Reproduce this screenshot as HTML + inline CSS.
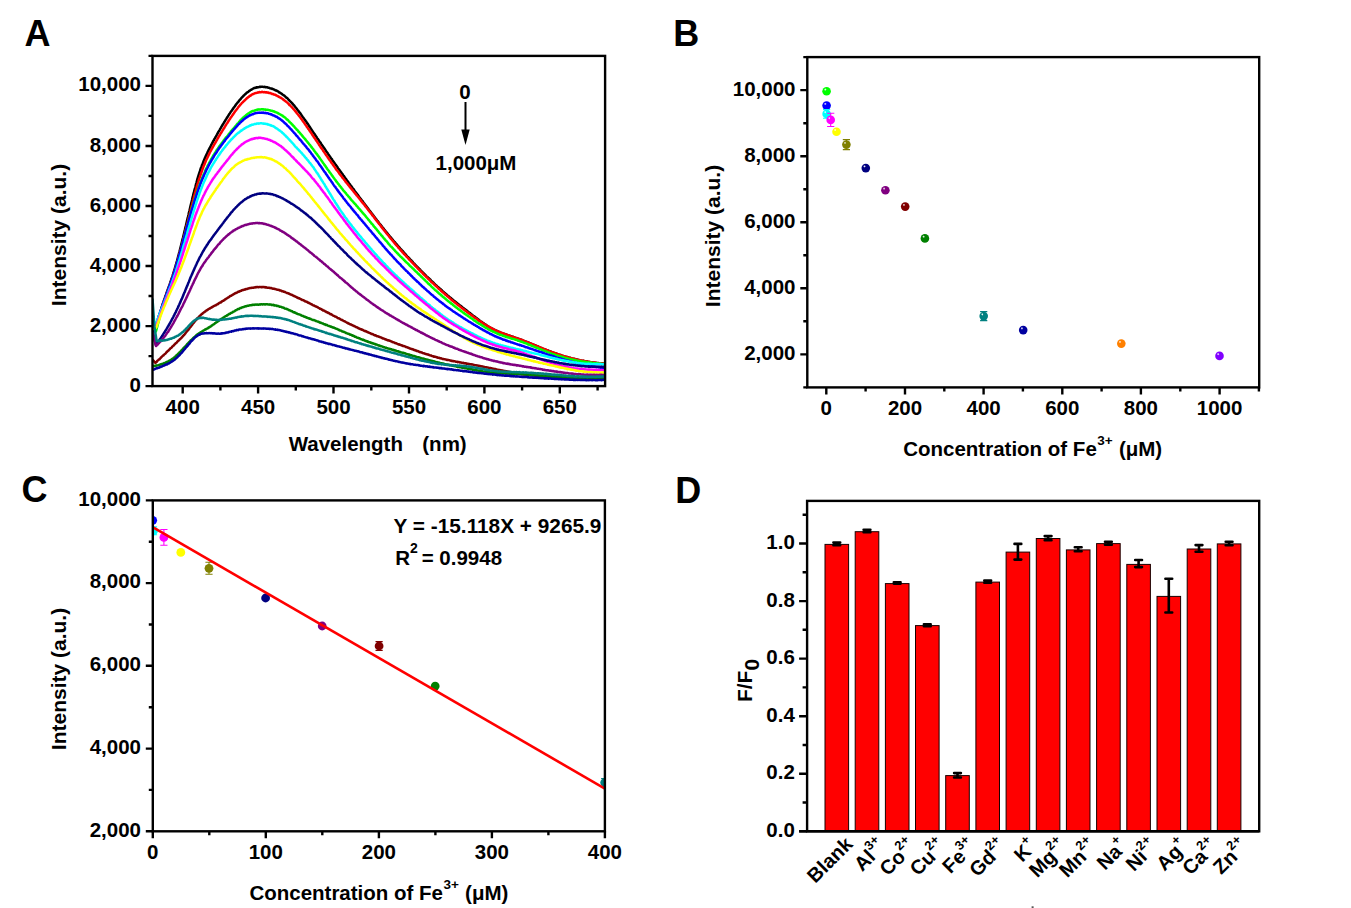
<!DOCTYPE html><html><head><meta charset="utf-8"><title>Figure</title><style>html,body{margin:0;padding:0;background:#fff;overflow:hidden}svg{display:block}text{font-family:"Liberation Sans",sans-serif;font-weight:bold;fill:#000}</style></head><body>
<svg width="1351" height="908" viewBox="0 0 1351 908">
<rect x="0" y="0" width="1351" height="908" fill="#fff"/>
<defs><clipPath id="clipA"><rect x="152.5" y="55.9" width="452.6" height="330.20000000000005"/></clipPath></defs>
<g clip-path="url(#clipA)" fill="none" stroke-width="2.5" stroke-linejoin="round">
<path d="M152.5,329.90 L155.5,328.34 L156.0,326.49 L156.5,324.82 L157.0,323.06 L157.5,321.08 L158.0,319.31 L158.5,317.91 L159.0,315.96 L159.5,314.26 L160.0,312.89 L160.5,311.04 L161.0,309.56 L161.5,307.83 L162.0,306.34 L162.5,304.61 L163.0,303.30 L163.5,301.90 L164.0,300.30 L164.5,298.93 L165.0,297.47 L165.5,295.80 L166.0,294.67 L166.5,293.19 L167.0,291.68 L167.5,290.17 L168.0,289.11 L168.5,287.55 L169.0,286.24 L169.5,284.88 L170.0,283.39 L170.5,282.03 L171.0,280.36 L171.5,279.04 L172.0,277.40 L172.5,276.07 L173.0,274.49 L173.5,272.60 L174.0,271.00 L174.5,269.40 L175.0,268.03 L175.5,266.12 L176.0,264.47 L176.5,262.57 L177.0,260.86 L177.5,258.98 L178.0,257.10 L178.5,255.29 L179.0,253.37 L179.5,251.55 L180.0,249.49 L180.5,247.60 L181.0,245.57 L181.5,243.61 L182.0,241.46 L182.5,239.24 L183.0,237.49 L183.5,235.50 L184.0,233.44 L184.5,231.27 L185.0,229.28 L185.5,227.02 L186.0,225.21 L186.5,223.03 L187.0,220.84 L187.5,218.67 L188.0,216.89 L188.5,214.84 L189.0,212.37 L189.5,210.55 L190.0,208.28 L190.5,206.07 L191.0,204.02 L191.5,202.12 L192.0,200.08 L192.5,197.69 L193.0,195.88 L193.5,193.63 L194.0,191.91 L194.5,189.79 L195.0,188.09 L195.5,186.23 L196.0,184.19 L196.5,182.57 L197.0,180.52 L197.5,178.70 L198.0,177.22 L198.5,175.35 L199.0,173.81 L199.5,172.33 L200.0,170.89 L200.5,169.23 L201.0,167.75 L201.5,166.69 L202.0,165.11 L202.5,164.06 L203.0,162.76 L203.5,161.31 L204.0,160.13 L204.5,158.98 L205.0,157.88 L205.5,156.73 L206.0,155.61 L206.5,154.55 L207.0,153.61 L207.5,152.39 L208.0,151.33 L208.5,150.44 L209.0,149.24 L209.5,148.28 L210.0,147.58 L210.5,146.44 L211.0,145.49 L211.5,144.33 L212.0,143.56 L212.5,142.69 L213.0,141.54 L213.5,140.86 L214.0,139.95 L214.5,138.82 L215.0,138.14 L215.5,137.17 L216.0,136.37 L216.5,135.35 L217.0,134.60 L217.5,133.74 L218.0,132.57 L218.5,131.72 L219.0,131.10 L219.5,130.35 L220.0,129.21 L220.5,128.43 L221.0,127.64 L221.5,126.68 L222.0,125.85 L222.5,125.00 L223.0,124.18 L223.5,123.45 L224.0,122.50 L224.5,121.72 L225.0,121.06 L225.5,119.95 L226.0,119.37 L226.5,118.64 L227.0,117.68 L227.5,116.86 L228.0,116.31 L228.5,115.31 L229.0,114.52 L229.5,113.86 L230.0,113.22 L230.5,112.23 L231.0,111.58 L231.5,110.85 L232.0,110.33 L232.5,109.45 L233.0,108.91 L233.5,107.93 L234.0,107.30 L234.5,106.74 L235.0,106.16 L235.5,105.31 L236.0,104.56 L236.5,103.87 L237.0,103.39 L237.5,102.62 L238.0,102.24 L238.5,101.63 L239.0,100.76 L239.5,100.20 L240.0,99.82 L240.5,99.18 L241.0,98.68 L241.5,97.93 L242.0,97.30 L242.5,96.83 L243.0,96.50 L243.5,95.78 L244.0,95.31 L244.5,94.84 L245.0,94.37 L245.5,93.90 L246.0,93.65 L246.5,92.91 L247.0,92.42 L247.5,92.39 L248.0,91.97 L248.5,91.63 L249.0,91.04 L249.5,90.89 L250.0,90.55 L250.5,89.94 L251.0,89.85 L251.5,89.60 L252.0,89.26 L252.5,88.94 L253.0,88.61 L253.5,88.41 L254.0,88.15 L254.5,87.89 L255.0,87.92 L255.5,87.63 L256.0,87.69 L256.5,87.25 L257.0,87.47 L257.5,87.27 L258.0,87.26 L258.5,87.17 L259.0,87.10 L259.5,86.91 L260.0,86.64 L260.5,86.89 L261.0,86.64 L261.5,86.68 L262.0,86.82 L262.5,86.78 L263.0,86.75 L263.5,87.00 L264.0,86.91 L264.5,86.85 L265.0,86.88 L265.5,87.19 L266.0,87.12 L266.5,87.33 L267.0,87.26 L267.5,87.31 L268.0,87.56 L268.5,87.80 L269.0,87.68 L269.5,88.07 L270.0,88.27 L270.5,88.39 L271.0,88.56 L271.5,88.41 L272.0,88.84 L272.5,89.12 L273.0,89.00 L273.5,89.29 L274.0,89.50 L274.5,89.82 L275.0,90.01 L275.5,90.26 L276.0,90.62 L276.5,90.56 L277.0,90.84 L277.5,91.14 L278.0,91.41 L278.5,91.67 L279.0,92.32 L279.5,92.58 L280.0,92.58 L280.5,93.06 L281.0,93.32 L281.5,93.65 L282.0,94.02 L282.5,94.49 L283.0,94.83 L283.5,95.12 L284.0,95.44 L284.5,95.89 L285.0,96.22 L285.5,96.81 L286.0,97.31 L286.5,97.61 L287.0,97.94 L287.5,98.44 L288.0,98.99 L288.5,99.56 L289.0,100.12 L289.5,100.46 L290.0,101.14 L290.5,101.59 L291.0,102.04 L291.5,102.55 L292.0,103.14 L292.5,103.78 L293.0,104.23 L293.5,104.92 L294.0,105.40 L294.5,105.91 L295.0,106.62 L295.5,107.30 L296.0,107.66 L296.5,108.43 L297.0,109.06 L297.5,109.88 L298.0,110.55 L298.5,110.98 L299.0,111.85 L299.5,112.47 L300.0,112.93 L300.5,113.69 L301.0,114.24 L301.5,115.21 L302.0,115.84 L302.5,116.63 L303.0,117.30 L303.5,117.96 L304.0,118.70 L304.5,119.34 L305.0,119.88 L305.5,120.80 L306.0,121.29 L306.5,122.07 L307.0,123.06 L307.5,123.50 L308.0,124.25 L308.5,124.99 L309.0,126.05 L309.5,126.50 L310.0,127.18 L310.5,128.25 L311.0,128.70 L311.5,129.74 L312.0,130.41 L312.5,131.22 L313.0,132.00 L313.5,132.59 L314.0,133.42 L314.5,133.86 L315.0,134.89 L315.5,135.52 L316.0,136.34 L316.5,136.84 L317.0,137.83 L317.5,138.64 L318.0,139.03 L318.5,139.87 L319.0,140.70 L319.5,141.54 L320.0,142.03 L320.5,142.74 L321.0,143.50 L321.5,144.38 L322.0,145.16 L322.5,145.75 L323.0,146.47 L323.5,147.21 L324.0,147.92 L324.5,148.67 L325.0,149.26 L325.5,150.15 L326.0,151.07 L326.5,151.57 L327.0,152.42 L327.5,152.91 L328.0,153.84 L328.5,154.59 L329.0,155.27 L329.5,155.93 L330.0,156.63 L330.5,157.41 L331.0,158.23 L331.5,158.65 L332.0,159.34 L332.5,160.31 L333.0,161.09 L333.5,161.64 L334.0,162.32 L334.5,163.14 L335.0,163.63 L335.5,164.37 L336.0,165.05 L336.5,165.91 L337.0,166.50 L337.5,167.17 L338.0,168.06 L338.5,168.86 L339.0,169.30 L339.5,170.16 L340.0,170.74 L340.5,171.61 L341.0,172.19 L341.5,172.76 L342.0,173.43 L342.5,174.05 L343.0,174.92 L343.5,175.57 L344.0,176.17 L344.5,176.94 L345.0,177.61 L345.5,178.47 L346.0,178.90 L346.5,179.93 L347.0,180.40 L347.5,181.13 L348.0,181.76 L348.5,182.59 L349.0,183.26 L349.5,183.84 L350.0,184.48 L350.5,185.26 L351.0,185.99 L351.5,186.48 L352.0,187.29 L352.5,188.05 L353.0,188.53 L353.5,189.11 L354.0,189.78 L354.5,190.65 L355.0,191.30 L355.5,192.09 L356.0,192.71 L356.5,193.14 L357.0,193.79 L357.5,194.48 L358.0,195.12 L358.5,196.00 L359.0,196.73 L359.5,197.41 L360.0,197.82 L360.5,198.73 L361.0,199.17 L361.5,199.88 L362.0,200.67 L362.5,201.08 L363.0,201.74 L363.5,202.70 L364.0,203.15 L364.5,203.84 L365.0,204.59 L365.5,205.29 L366.0,205.69 L366.5,206.48 L367.0,207.18 L367.5,207.86 L368.0,208.41 L368.5,209.22 L369.0,210.03 L369.5,210.46 L370.0,211.18 L370.5,211.67 L371.0,212.39 L371.5,213.20 L372.0,213.64 L372.5,214.60 L373.0,215.26 L373.5,215.59 L374.0,216.58 L374.5,217.00 L375.0,217.81 L375.5,218.46 L376.0,218.92 L376.5,219.72 L377.0,220.35 L377.5,221.06 L378.0,221.49 L378.5,222.32 L379.0,223.05 L379.5,223.57 L380.0,224.16 L380.5,224.62 L381.0,225.41 L381.5,225.99 L382.0,226.77 L382.5,227.38 L383.0,227.97 L383.5,228.44 L384.0,229.25 L384.5,229.87 L385.0,230.31 L385.5,231.22 L386.0,231.74 L386.5,232.15 L387.0,233.09 L387.5,233.38 L388.0,234.07 L388.5,234.84 L389.0,235.40 L389.5,235.99 L390.0,236.63 L390.5,237.15 L391.0,237.69 L391.5,238.24 L392.0,238.79 L392.5,239.64 L393.0,240.25 L393.5,240.76 L394.0,241.42 L394.5,241.86 L395.0,242.40 L395.5,243.03 L396.0,243.81 L396.5,244.05 L397.0,244.82 L397.5,245.29 L398.0,246.07 L398.5,246.48 L399.0,247.04 L399.5,247.63 L400.0,248.25 L400.5,248.91 L401.0,249.30 L401.5,250.06 L402.0,250.33 L402.5,250.95 L403.0,251.44 L403.5,251.99 L404.0,252.81 L404.5,253.34 L405.0,253.68 L405.5,254.23 L406.0,254.86 L406.5,255.54 L407.0,256.11 L407.5,256.62 L408.0,257.10 L408.5,257.46 L409.0,258.10 L409.5,258.55 L410.0,259.22 L410.5,259.77 L411.0,260.16 L411.5,260.71 L412.0,261.45 L412.5,261.67 L413.0,262.51 L413.5,263.07 L414.0,263.62 L414.5,263.91 L415.0,264.50 L415.5,265.03 L416.0,265.57 L416.5,266.22 L417.0,266.62 L417.5,266.98 L418.0,267.72 L418.5,268.08 L419.0,268.64 L419.5,269.20 L420.0,269.42 L420.5,270.24 L421.0,270.70 L421.5,271.13 L422.0,271.65 L422.5,272.13 L423.0,272.52 L423.5,273.15 L424.0,273.46 L424.5,274.14 L425.0,274.69 L425.5,275.10 L426.0,275.64 L426.5,276.29 L427.0,276.76 L427.5,276.94 L428.0,277.69 L428.5,278.11 L429.0,278.36 L429.5,278.97 L430.0,279.40 L430.5,279.82 L431.0,280.48 L431.5,281.11 L432.0,281.34 L432.5,282.04 L433.0,282.44 L433.5,282.68 L434.0,283.44 L434.5,283.81 L435.0,284.40 L435.5,284.78 L436.0,285.26 L436.5,285.56 L437.0,286.20 L437.5,286.71 L438.0,287.14 L438.5,287.42 L439.0,288.00 L439.5,288.35 L440.0,288.65 L440.5,289.07 L441.0,289.53 L441.5,290.02 L442.0,290.45 L442.5,291.02 L443.0,291.54 L443.5,291.92 L444.0,292.31 L444.5,292.83 L445.0,293.13 L445.5,293.62 L446.0,294.17 L446.5,294.45 L447.0,294.79 L447.5,295.50 L448.0,295.86 L448.5,296.14 L449.0,296.56 L449.5,297.04 L450.0,297.49 L450.5,297.75 L451.0,298.08 L451.5,298.57 L452.0,299.22 L452.5,299.37 L453.0,299.91 L453.5,300.21 L454.0,300.62 L454.5,301.01 L455.0,301.51 L455.5,301.82 L456.0,302.16 L456.5,302.59 L457.0,303.02 L457.5,303.54 L458.0,303.77 L458.5,304.15 L459.0,304.71 L459.5,305.09 L460.0,305.60 L460.5,305.73 L461.0,306.26 L461.5,306.65 L462.0,306.89 L462.5,307.65 L463.0,307.73 L463.5,308.07 L464.0,308.61 L464.5,308.86 L465.0,309.43 L465.5,309.70 L466.0,309.99 L466.5,310.34 L467.0,310.99 L467.5,311.19 L468.0,311.77 L468.5,312.01 L469.0,312.58 L469.5,312.70 L470.0,313.05 L470.5,313.45 L471.0,314.07 L471.5,314.39 L472.0,314.67 L472.5,314.96 L473.0,315.58 L473.5,316.09 L474.0,316.32 L474.5,316.47 L475.0,316.87 L475.5,317.27 L476.0,317.69 L476.5,318.01 L477.0,318.39 L477.5,319.01 L478.0,319.48 L478.5,319.57 L479.0,320.25 L479.5,320.42 L480.0,320.91 L480.5,321.32 L481.0,321.69 L481.5,321.68 L482.0,322.14 L482.5,322.62 L483.0,323.10 L483.5,323.10 L484.0,323.53 L484.5,324.09 L485.0,324.13 L485.5,324.58 L486.0,324.89 L486.5,325.35 L487.0,325.78 L487.5,325.80 L488.0,326.34 L488.5,326.66 L489.0,327.01 L489.5,327.20 L490.0,327.66 L490.5,327.71 L491.0,328.00 L491.5,328.20 L492.0,328.68 L492.5,328.82 L493.0,328.99 L493.5,329.21 L494.0,329.68 L494.5,329.88 L495.0,330.16 L495.5,330.27 L496.0,330.54 L496.5,330.63 L497.0,331.08 L497.5,331.03 L498.0,331.43 L498.5,331.76 L499.0,331.94 L499.5,331.91 L500.0,332.18 L500.5,332.62 L501.0,332.74 L501.5,333.04 L502.0,333.23 L502.5,333.25 L503.0,333.62 L503.5,333.75 L504.0,333.77 L504.5,333.97 L505.0,334.04 L505.5,334.35 L506.0,334.75 L506.5,334.59 L507.0,334.95 L507.5,334.94 L508.0,335.11 L508.5,335.51 L509.0,335.52 L509.5,335.61 L510.0,335.82 L510.5,336.19 L511.0,336.34 L511.5,336.28 L512.0,336.53 L512.5,337.00 L513.0,336.87 L513.5,337.17 L514.0,337.29 L514.5,337.60 L515.0,337.70 L515.5,337.94 L516.0,338.01 L516.5,338.05 L517.0,338.21 L517.5,338.35 L518.0,338.82 L518.5,338.71 L519.0,338.85 L519.5,339.41 L520.0,339.28 L520.5,339.74 L521.0,339.60 L521.5,339.94 L522.0,340.02 L522.5,340.45 L523.0,340.56 L523.5,340.76 L524.0,341.00 L524.5,341.23 L525.0,341.22 L525.5,341.51 L526.0,341.65 L526.5,341.71 L527.0,342.20 L527.5,342.30 L528.0,342.59 L528.5,342.54 L529.0,342.88 L529.5,343.05 L530.0,343.36 L530.5,343.30 L531.0,343.61 L531.5,343.87 L532.0,343.91 L532.5,344.31 L533.0,344.59 L533.5,344.67 L534.0,344.97 L534.5,345.16 L535.0,345.21 L535.5,345.47 L536.0,345.94 L536.5,345.88 L537.0,346.13 L537.5,346.20 L538.0,346.46 L538.5,346.64 L539.0,347.16 L539.5,347.28 L540.0,347.55 L540.5,347.80 L541.0,347.86 L541.5,348.19 L542.0,348.24 L542.5,348.40 L543.0,348.81 L543.5,349.00 L544.0,349.22 L544.5,349.24 L545.0,349.55 L545.5,349.61 L546.0,350.04 L546.5,350.21 L547.0,350.16 L547.5,350.62 L548.0,350.51 L548.5,350.67 L549.0,351.12 L549.5,351.14 L550.0,351.42 L550.5,351.66 L551.0,351.61 L551.5,352.08 L552.0,352.08 L552.5,352.33 L553.0,352.48 L553.5,352.82 L554.0,353.00 L554.5,353.00 L555.0,353.11 L555.5,353.36 L556.0,353.58 L556.5,353.62 L557.0,353.83 L557.5,354.24 L558.0,354.39 L558.5,354.67 L559.0,354.83 L559.5,354.96 L560.0,354.92 L560.5,355.00 L561.0,355.22 L561.5,355.44 L562.0,355.62 L562.5,355.79 L563.0,355.87 L563.5,356.22 L564.0,356.15 L564.5,356.37 L565.0,356.69 L565.5,356.80 L566.0,356.75 L566.5,356.87 L567.0,357.24 L567.5,357.06 L568.0,357.25 L568.5,357.55 L569.0,357.69 L569.5,357.68 L570.0,357.77 L570.5,357.96 L571.0,358.32 L571.5,358.33 L572.0,358.66 L572.5,358.71 L573.0,358.91 L573.5,358.66 L574.0,358.84 L574.5,358.90 L575.0,359.18 L575.5,359.26 L576.0,359.26 L576.5,359.58 L577.0,359.51 L577.5,359.71 L578.0,359.79 L578.5,360.12 L579.0,360.08 L579.5,360.12 L580.0,360.14 L580.5,360.39 L581.0,360.57 L581.5,360.69 L582.0,360.89 L582.5,360.94 L583.0,360.81 L583.5,360.86 L584.0,361.20 L584.5,361.30 L585.0,361.28 L585.5,361.49 L586.0,361.47 L586.5,361.44 L587.0,361.48 L587.5,361.50 L588.0,361.83 L588.5,362.01 L589.0,362.09 L589.5,361.99 L590.0,362.14 L590.5,362.32 L591.0,362.35 L591.5,362.33 L592.0,362.33 L592.5,362.44 L593.0,362.37 L593.5,362.44 L594.0,362.71 L594.5,362.89 L595.0,362.78 L595.5,362.79 L596.0,362.83 L596.5,362.93 L597.0,363.13 L597.5,363.05 L598.0,363.31 L598.5,363.05 L599.0,363.17 L599.5,363.31 L600.0,363.33 L600.5,363.56 L601.0,363.60 L601.5,363.70 L602.0,363.63 L602.5,363.45 L603.0,363.73 L603.5,363.77 L604.0,363.80 L604.5,363.77 L605.0,364.00 L605.5,364.13 L606.0,363.87" stroke="#000000"/>
<path d="M152.5,331.07 L155.5,328.78 L156.0,327.11 L156.5,325.53 L157.0,323.84 L157.5,321.99 L158.0,320.11 L158.5,318.71 L159.0,316.73 L159.5,315.16 L160.0,313.69 L160.5,311.87 L161.0,310.27 L161.5,308.98 L162.0,307.44 L162.5,305.68 L163.0,304.23 L163.5,302.72 L164.0,301.21 L164.5,299.83 L165.0,298.70 L165.5,296.94 L166.0,295.60 L166.5,294.20 L167.0,292.77 L167.5,291.57 L168.0,290.28 L168.5,288.93 L169.0,287.46 L169.5,286.14 L170.0,284.41 L170.5,283.10 L171.0,281.95 L171.5,280.14 L172.0,278.76 L172.5,277.36 L173.0,275.76 L173.5,274.34 L174.0,272.59 L174.5,271.09 L175.0,269.78 L175.5,267.82 L176.0,266.48 L176.5,264.51 L177.0,263.14 L177.5,261.29 L178.0,259.53 L178.5,257.56 L179.0,255.72 L179.5,254.18 L180.0,252.10 L180.5,250.24 L181.0,248.61 L181.5,246.74 L182.0,244.49 L182.5,242.93 L183.0,240.82 L183.5,238.81 L184.0,236.75 L184.5,234.90 L185.0,233.16 L185.5,230.90 L186.0,228.86 L186.5,226.87 L187.0,224.86 L187.5,222.95 L188.0,221.17 L188.5,218.83 L189.0,216.86 L189.5,215.14 L190.0,213.15 L190.5,211.13 L191.0,208.82 L191.5,206.87 L192.0,205.11 L192.5,202.95 L193.0,201.07 L193.5,198.97 L194.0,196.93 L194.5,195.16 L195.0,193.45 L195.5,191.62 L196.0,189.72 L196.5,187.89 L197.0,186.18 L197.5,184.43 L198.0,182.80 L198.5,181.29 L199.0,179.45 L199.5,178.05 L200.0,176.66 L200.5,175.14 L201.0,173.42 L201.5,172.31 L202.0,170.87 L202.5,169.24 L203.0,167.94 L203.5,166.62 L204.0,165.29 L204.5,164.41 L205.0,162.97 L205.5,161.97 L206.0,160.51 L206.5,159.34 L207.0,158.58 L207.5,157.48 L208.0,156.50 L208.5,155.35 L209.0,154.29 L209.5,153.40 L210.0,152.16 L210.5,151.38 L211.0,150.40 L211.5,149.36 L212.0,148.62 L212.5,147.59 L213.0,146.76 L213.5,145.81 L214.0,144.89 L214.5,144.02 L215.0,143.23 L215.5,142.51 L216.0,141.62 L216.5,140.73 L217.0,139.86 L217.5,138.78 L218.0,138.21 L218.5,137.08 L219.0,136.18 L219.5,135.50 L220.0,134.76 L220.5,133.77 L221.0,133.07 L221.5,132.10 L222.0,131.56 L222.5,130.54 L223.0,129.74 L223.5,128.95 L224.0,128.28 L224.5,127.53 L225.0,126.54 L225.5,125.71 L226.0,124.99 L226.5,123.99 L227.0,123.35 L227.5,122.74 L228.0,121.94 L228.5,120.88 L229.0,120.44 L229.5,119.49 L230.0,118.98 L230.5,117.99 L231.0,117.19 L231.5,116.59 L232.0,115.99 L232.5,115.09 L233.0,114.55 L233.5,113.78 L234.0,112.95 L234.5,112.23 L235.0,111.63 L235.5,110.91 L236.0,110.23 L236.5,109.68 L237.0,109.12 L237.5,108.37 L238.0,107.56 L238.5,106.96 L239.0,106.41 L239.5,105.90 L240.0,105.12 L240.5,104.51 L241.0,104.03 L241.5,103.46 L242.0,102.80 L242.5,102.47 L243.0,102.09 L243.5,101.42 L244.0,100.99 L244.5,100.54 L245.0,100.06 L245.5,99.62 L246.0,98.98 L246.5,98.63 L247.0,97.98 L247.5,97.87 L248.0,97.27 L248.5,96.92 L249.0,96.72 L249.5,96.12 L250.0,95.74 L250.5,95.67 L251.0,95.27 L251.5,94.77 L252.0,94.47 L252.5,94.34 L253.0,93.96 L253.5,94.06 L254.0,93.58 L254.5,93.42 L255.0,93.27 L255.5,93.15 L256.0,92.96 L256.5,92.89 L257.0,92.77 L257.5,92.56 L258.0,92.32 L258.5,92.58 L259.0,92.38 L259.5,92.07 L260.0,92.15 L260.5,92.23 L261.0,92.29 L261.5,91.90 L262.0,91.86 L262.5,92.05 L263.0,92.03 L263.5,92.24 L264.0,92.24 L264.5,92.08 L265.0,92.16 L265.5,92.28 L266.0,92.47 L266.5,92.27 L267.0,92.43 L267.5,92.40 L268.0,92.72 L268.5,92.58 L269.0,93.06 L269.5,93.02 L270.0,93.17 L270.5,93.11 L271.0,93.32 L271.5,93.56 L272.0,93.88 L272.5,93.92 L273.0,93.99 L273.5,94.46 L274.0,94.52 L274.5,94.66 L275.0,94.73 L275.5,94.98 L276.0,95.44 L276.5,95.36 L277.0,95.76 L277.5,96.04 L278.0,96.18 L278.5,96.61 L279.0,96.94 L279.5,97.20 L280.0,97.44 L280.5,97.52 L281.0,97.78 L281.5,98.24 L282.0,98.53 L282.5,98.82 L283.0,99.44 L283.5,99.54 L284.0,100.16 L284.5,100.59 L285.0,100.66 L285.5,101.38 L286.0,101.59 L286.5,101.95 L287.0,102.37 L287.5,102.76 L288.0,103.41 L288.5,103.83 L289.0,104.50 L289.5,104.98 L290.0,105.17 L290.5,105.82 L291.0,106.33 L291.5,106.77 L292.0,107.34 L292.5,107.89 L293.0,108.62 L293.5,109.04 L294.0,109.52 L294.5,110.14 L295.0,110.82 L295.5,111.47 L296.0,111.94 L296.5,112.74 L297.0,113.16 L297.5,113.97 L298.0,114.58 L298.5,115.05 L299.0,115.92 L299.5,116.44 L300.0,117.15 L300.5,117.84 L301.0,118.52 L301.5,119.13 L302.0,119.65 L302.5,120.63 L303.0,121.35 L303.5,121.90 L304.0,122.63 L304.5,123.21 L305.0,124.17 L305.5,124.80 L306.0,125.33 L306.5,126.28 L307.0,127.07 L307.5,127.54 L308.0,128.53 L308.5,129.05 L309.0,129.66 L309.5,130.61 L310.0,131.19 L310.5,132.08 L311.0,132.76 L311.5,133.31 L312.0,134.22 L312.5,135.08 L313.0,135.68 L313.5,136.44 L314.0,137.31 L314.5,137.88 L315.0,138.64 L315.5,139.42 L316.0,140.26 L316.5,140.75 L317.0,141.45 L317.5,142.46 L318.0,143.11 L318.5,143.76 L319.0,144.73 L319.5,145.47 L320.0,146.07 L320.5,146.99 L321.0,147.66 L321.5,148.36 L322.0,148.92 L322.5,149.54 L323.0,150.54 L323.5,151.30 L324.0,151.88 L324.5,152.66 L325.0,153.42 L325.5,154.03 L326.0,154.93 L326.5,155.60 L327.0,156.26 L327.5,156.87 L328.0,157.77 L328.5,158.39 L329.0,159.27 L329.5,159.77 L330.0,160.57 L330.5,161.20 L331.0,161.99 L331.5,162.77 L332.0,163.28 L332.5,163.97 L333.0,164.84 L333.5,165.42 L334.0,166.24 L334.5,166.79 L335.0,167.46 L335.5,168.32 L336.0,169.16 L336.5,169.82 L337.0,170.35 L337.5,170.98 L338.0,171.52 L338.5,172.27 L339.0,172.95 L339.5,173.87 L340.0,174.20 L340.5,175.18 L341.0,175.65 L341.5,176.28 L342.0,176.86 L342.5,177.79 L343.0,178.12 L343.5,178.92 L344.0,179.53 L344.5,180.05 L345.0,180.69 L345.5,181.63 L346.0,182.18 L346.5,182.79 L347.0,183.49 L347.5,183.79 L348.0,184.66 L348.5,185.30 L349.0,185.71 L349.5,186.43 L350.0,187.26 L350.5,187.62 L351.0,188.41 L351.5,188.79 L352.0,189.61 L352.5,190.07 L353.0,190.78 L353.5,191.34 L354.0,192.16 L354.5,192.72 L355.0,193.24 L355.5,193.93 L356.0,194.44 L356.5,195.21 L357.0,195.60 L357.5,196.34 L358.0,196.97 L358.5,197.51 L359.0,197.99 L359.5,198.66 L360.0,199.47 L360.5,199.92 L361.0,200.76 L361.5,201.28 L362.0,202.08 L362.5,202.67 L363.0,203.25 L363.5,203.73 L364.0,204.23 L364.5,205.07 L365.0,205.78 L365.5,206.48 L366.0,206.83 L366.5,207.45 L367.0,208.42 L367.5,208.96 L368.0,209.50 L368.5,210.25 L369.0,210.66 L369.5,211.46 L370.0,212.15 L370.5,212.78 L371.0,213.24 L371.5,213.88 L372.0,214.73 L372.5,215.48 L373.0,215.83 L373.5,216.42 L374.0,217.10 L374.5,218.03 L375.0,218.53 L375.5,219.20 L376.0,220.06 L376.5,220.56 L377.0,221.07 L377.5,221.89 L378.0,222.26 L378.5,223.02 L379.0,223.83 L379.5,224.26 L380.0,224.85 L380.5,225.69 L381.0,226.26 L381.5,227.16 L382.0,227.45 L382.5,228.37 L383.0,228.84 L383.5,229.64 L384.0,230.13 L384.5,230.86 L385.0,231.35 L385.5,231.94 L386.0,232.66 L386.5,233.43 L387.0,233.87 L387.5,234.44 L388.0,235.14 L388.5,235.63 L389.0,236.33 L389.5,237.05 L390.0,237.65 L390.5,238.28 L391.0,238.76 L391.5,239.26 L392.0,239.86 L392.5,240.58 L393.0,241.12 L393.5,241.86 L394.0,242.33 L394.5,243.12 L395.0,243.64 L395.5,244.25 L396.0,244.86 L396.5,245.35 L397.0,245.89 L397.5,246.42 L398.0,246.89 L398.5,247.76 L399.0,248.21 L399.5,248.62 L400.0,249.51 L400.5,249.94 L401.0,250.51 L401.5,251.00 L402.0,251.43 L402.5,252.34 L403.0,252.56 L403.5,253.19 L404.0,253.99 L404.5,254.19 L405.0,254.88 L405.5,255.42 L406.0,255.87 L406.5,256.68 L407.0,257.02 L407.5,257.40 L408.0,258.12 L408.5,258.47 L409.0,259.28 L409.5,259.88 L410.0,260.42 L410.5,260.61 L411.0,261.39 L411.5,261.77 L412.0,262.36 L412.5,262.81 L413.0,263.34 L413.5,263.79 L414.0,264.51 L414.5,264.81 L415.0,265.68 L415.5,265.83 L416.0,266.71 L416.5,266.92 L417.0,267.39 L417.5,268.17 L418.0,268.59 L418.5,269.20 L419.0,269.60 L419.5,270.16 L420.0,270.45 L420.5,271.19 L421.0,271.63 L421.5,272.31 L422.0,272.43 L422.5,272.96 L423.0,273.70 L423.5,274.30 L424.0,274.59 L424.5,275.21 L425.0,275.64 L425.5,276.07 L426.0,276.59 L426.5,277.13 L427.0,277.39 L427.5,277.99 L428.0,278.65 L428.5,278.95 L429.0,279.52 L429.5,279.91 L430.0,280.43 L430.5,281.03 L431.0,281.55 L431.5,282.11 L432.0,282.39 L432.5,282.76 L433.0,283.28 L433.5,283.64 L434.0,284.18 L434.5,284.79 L435.0,285.27 L435.5,285.58 L436.0,286.02 L436.5,286.45 L437.0,286.94 L437.5,287.53 L438.0,287.89 L438.5,288.59 L439.0,288.92 L439.5,289.28 L440.0,289.77 L440.5,290.06 L441.0,290.79 L441.5,291.24 L442.0,291.53 L442.5,292.11 L443.0,292.37 L443.5,292.79 L444.0,293.23 L444.5,293.65 L445.0,294.25 L445.5,294.69 L446.0,295.16 L446.5,295.34 L447.0,296.03 L447.5,296.34 L448.0,296.72 L448.5,297.19 L449.0,297.59 L449.5,297.91 L450.0,298.41 L450.5,298.92 L451.0,299.37 L451.5,299.86 L452.0,299.98 L452.5,300.67 L453.0,301.05 L453.5,301.42 L454.0,301.93 L454.5,302.00 L455.0,302.66 L455.5,303.11 L456.0,303.20 L456.5,303.79 L457.0,304.33 L457.5,304.47 L458.0,305.09 L458.5,305.50 L459.0,305.71 L459.5,305.99 L460.0,306.41 L460.5,307.04 L461.0,307.27 L461.5,307.62 L462.0,308.05 L462.5,308.63 L463.0,308.75 L463.5,309.04 L464.0,309.80 L464.5,309.93 L465.0,310.34 L465.5,310.95 L466.0,311.05 L466.5,311.35 L467.0,312.05 L467.5,312.17 L468.0,312.54 L468.5,313.20 L469.0,313.29 L469.5,313.94 L470.0,314.08 L470.5,314.44 L471.0,314.78 L471.5,315.28 L472.0,315.65 L472.5,315.95 L473.0,316.36 L473.5,316.64 L474.0,317.22 L474.5,317.62 L475.0,317.91 L475.5,318.29 L476.0,318.35 L476.5,318.77 L477.0,319.10 L477.5,319.43 L478.0,320.11 L478.5,320.43 L479.0,320.77 L479.5,320.97 L480.0,321.14 L480.5,321.60 L481.0,321.78 L481.5,322.45 L482.0,322.53 L482.5,322.86 L483.0,323.45 L483.5,323.47 L484.0,324.08 L484.5,324.15 L485.0,324.60 L485.5,324.69 L486.0,325.31 L486.5,325.42 L487.0,325.70 L487.5,326.12 L488.0,326.39 L488.5,326.54 L489.0,326.77 L489.5,327.24 L490.0,327.30 L490.5,327.91 L491.0,327.97 L491.5,328.17 L492.0,328.50 L492.5,328.68 L493.0,329.01 L493.5,329.36 L494.0,329.55 L494.5,329.77 L495.0,329.99 L495.5,330.30 L496.0,330.65 L496.5,330.75 L497.0,331.11 L497.5,331.21 L498.0,331.29 L498.5,331.52 L499.0,332.01 L499.5,332.07 L500.0,332.24 L500.5,332.49 L501.0,332.82 L501.5,332.83 L502.0,333.02 L502.5,333.22 L503.0,333.27 L503.5,333.67 L504.0,333.83 L504.5,334.02 L505.0,334.19 L505.5,334.38 L506.0,334.66 L506.5,334.62 L507.0,335.12 L507.5,334.95 L508.0,335.42 L508.5,335.32 L509.0,335.74 L509.5,335.70 L510.0,335.79 L510.5,336.15 L511.0,336.44 L511.5,336.61 L512.0,336.79 L512.5,337.00 L513.0,336.80 L513.5,337.10 L514.0,337.16 L514.5,337.59 L515.0,337.64 L515.5,337.93 L516.0,338.12 L516.5,338.37 L517.0,338.41 L517.5,338.67 L518.0,338.71 L518.5,338.70 L519.0,339.20 L519.5,339.06 L520.0,339.24 L520.5,339.71 L521.0,339.68 L521.5,340.01 L522.0,339.95 L522.5,340.21 L523.0,340.60 L523.5,340.52 L524.0,340.90 L524.5,341.26 L525.0,341.16 L525.5,341.55 L526.0,341.77 L526.5,341.91 L527.0,342.17 L527.5,342.34 L528.0,342.27 L528.5,342.54 L529.0,342.88 L529.5,343.25 L530.0,343.15 L530.5,343.51 L531.0,343.53 L531.5,344.02 L532.0,344.06 L532.5,344.30 L533.0,344.56 L533.5,344.56 L534.0,345.00 L534.5,345.24 L535.0,345.47 L535.5,345.44 L536.0,345.63 L536.5,345.81 L537.0,346.31 L537.5,346.34 L538.0,346.53 L538.5,346.79 L539.0,347.06 L539.5,347.12 L540.0,347.33 L540.5,347.71 L541.0,347.92 L541.5,347.94 L542.0,348.05 L542.5,348.60 L543.0,348.72 L543.5,348.87 L544.0,349.00 L544.5,349.43 L545.0,349.42 L545.5,349.53 L546.0,349.69 L546.5,349.99 L547.0,350.28 L547.5,350.39 L548.0,350.82 L548.5,350.89 L549.0,351.01 L549.5,351.29 L550.0,351.46 L550.5,351.65 L551.0,351.79 L551.5,351.99 L552.0,352.17 L552.5,352.49 L553.0,352.42 L553.5,352.84 L554.0,352.83 L554.5,353.23 L555.0,353.09 L555.5,353.44 L556.0,353.59 L556.5,353.88 L557.0,353.85 L557.5,354.04 L558.0,354.16 L558.5,354.50 L559.0,354.67 L559.5,354.61 L560.0,354.84 L560.5,355.01 L561.0,355.48 L561.5,355.44 L562.0,355.64 L562.5,355.69 L563.0,355.99 L563.5,356.21 L564.0,356.30 L564.5,356.18 L565.0,356.51 L565.5,356.68 L566.0,356.65 L566.5,357.09 L567.0,357.04 L567.5,357.18 L568.0,357.45 L568.5,357.57 L569.0,357.67 L569.5,357.96 L570.0,357.95 L570.5,358.02 L571.0,358.04 L571.5,358.36 L572.0,358.42 L572.5,358.61 L573.0,358.66 L573.5,358.65 L574.0,358.78 L574.5,358.95 L575.0,359.05 L575.5,359.47 L576.0,359.48 L576.5,359.45 L577.0,359.76 L577.5,359.84 L578.0,359.72 L578.5,360.10 L579.0,360.00 L579.5,360.41 L580.0,360.18 L580.5,360.34 L581.0,360.42 L581.5,360.77 L582.0,360.85 L582.5,360.85 L583.0,360.77 L583.5,360.98 L584.0,361.18 L584.5,361.01 L585.0,361.44 L585.5,361.50 L586.0,361.62 L586.5,361.61 L587.0,361.66 L587.5,361.88 L588.0,361.68 L588.5,361.77 L589.0,361.78 L589.5,361.88 L590.0,362.20 L590.5,361.99 L591.0,362.32 L591.5,362.25 L592.0,362.51 L592.5,362.54 L593.0,362.57 L593.5,362.70 L594.0,362.45 L594.5,362.60 L595.0,362.71 L595.5,362.80 L596.0,362.95 L596.5,363.10 L597.0,363.10 L597.5,363.24 L598.0,363.21 L598.5,363.13 L599.0,363.25 L599.5,363.40 L600.0,363.49 L600.5,363.37 L601.0,363.42 L601.5,363.58 L602.0,363.48 L602.5,363.79 L603.0,363.50 L603.5,363.81 L604.0,363.80 L604.5,363.74 L605.0,363.94 L605.5,363.96 L606.0,364.21" stroke="#ff0000"/>
<path d="M152.5,333.15 L156.0,331.29 L156.5,329.47 L157.0,327.55 L157.5,325.35 L158.0,323.71 L158.5,321.82 L159.0,320.01 L159.5,318.06 L160.0,316.09 L160.5,314.23 L161.0,312.65 L161.5,310.75 L162.0,309.29 L162.5,307.57 L163.0,306.07 L163.5,304.31 L164.0,302.74 L164.5,301.46 L165.0,299.87 L165.5,298.29 L166.0,296.91 L166.5,295.42 L167.0,294.08 L167.5,292.61 L168.0,291.11 L168.5,289.99 L169.0,288.55 L169.5,287.10 L170.0,285.50 L170.5,284.06 L171.0,282.85 L171.5,281.45 L172.0,279.94 L172.5,278.30 L173.0,277.02 L173.5,275.43 L174.0,273.84 L174.5,272.38 L175.0,270.75 L175.5,269.23 L176.0,267.65 L176.5,266.10 L177.0,264.08 L177.5,262.56 L178.0,260.98 L178.5,259.11 L179.0,257.30 L179.5,255.60 L180.0,253.44 L180.5,251.89 L181.0,249.96 L181.5,248.05 L182.0,246.04 L182.5,244.25 L183.0,242.14 L183.5,240.37 L184.0,238.33 L184.5,236.66 L185.0,234.68 L185.5,232.61 L186.0,230.79 L186.5,228.72 L187.0,226.86 L187.5,224.80 L188.0,223.18 L188.5,221.26 L189.0,219.39 L189.5,217.27 L190.0,215.73 L190.5,213.60 L191.0,212.03 L191.5,210.23 L192.0,208.31 L192.5,206.73 L193.0,205.21 L193.5,203.42 L194.0,201.64 L194.5,200.21 L195.0,198.41 L195.5,197.04 L196.0,195.28 L196.5,193.61 L197.0,192.46 L197.5,190.60 L198.0,189.21 L198.5,187.98 L199.0,186.30 L199.5,185.08 L200.0,183.84 L200.5,182.40 L201.0,180.99 L201.5,179.87 L202.0,178.64 L202.5,177.30 L203.0,176.11 L203.5,174.81 L204.0,173.68 L204.5,172.77 L205.0,171.65 L205.5,170.17 L206.0,169.17 L206.5,168.13 L207.0,167.32 L207.5,166.07 L208.0,165.07 L208.5,164.33 L209.0,163.13 L209.5,162.51 L210.0,161.37 L210.5,160.64 L211.0,159.71 L211.5,158.58 L212.0,157.95 L212.5,156.94 L213.0,156.02 L213.5,155.12 L214.0,154.57 L214.5,153.70 L215.0,152.81 L215.5,152.23 L216.0,151.21 L216.5,150.54 L217.0,149.65 L217.5,149.01 L218.0,148.49 L218.5,147.61 L219.0,146.76 L219.5,146.08 L220.0,145.55 L220.5,144.71 L221.0,144.26 L221.5,143.26 L222.0,142.91 L222.5,142.14 L223.0,141.56 L223.5,140.72 L224.0,139.96 L224.5,139.35 L225.0,138.90 L225.5,138.02 L226.0,137.42 L226.5,137.07 L227.0,136.48 L227.5,135.85 L228.0,135.23 L228.5,134.50 L229.0,134.02 L229.5,133.34 L230.0,132.68 L230.5,132.02 L231.0,131.26 L231.5,130.69 L232.0,130.15 L232.5,129.64 L233.0,128.91 L233.5,128.65 L234.0,127.90 L234.5,127.36 L235.0,126.83 L235.5,125.97 L236.0,125.64 L236.5,125.08 L237.0,124.22 L237.5,123.59 L238.0,123.28 L238.5,122.75 L239.0,122.15 L239.5,121.44 L240.0,120.97 L240.5,120.24 L241.0,119.76 L241.5,119.32 L242.0,118.94 L242.5,118.19 L243.0,118.04 L243.5,117.20 L244.0,117.12 L244.5,116.37 L245.0,116.17 L245.5,115.74 L246.0,115.39 L246.5,114.80 L247.0,114.50 L247.5,113.97 L248.0,113.83 L248.5,113.21 L249.0,113.19 L249.5,112.77 L250.0,112.26 L250.5,112.34 L251.0,111.83 L251.5,111.48 L252.0,111.33 L252.5,111.01 L253.0,110.91 L253.5,110.89 L254.0,110.83 L254.5,110.52 L255.0,110.46 L255.5,110.30 L256.0,110.13 L256.5,109.89 L257.0,109.73 L257.5,109.60 L258.0,109.67 L258.5,109.46 L259.0,109.62 L259.5,109.40 L260.0,109.46 L260.5,109.41 L261.0,109.42 L261.5,109.22 L262.0,109.25 L262.5,109.43 L263.0,109.25 L263.5,109.45 L264.0,109.59 L264.5,109.40 L265.0,109.67 L265.5,109.58 L266.0,109.77 L266.5,109.66 L267.0,109.83 L267.5,109.88 L268.0,109.77 L268.5,109.99 L269.0,110.12 L269.5,110.18 L270.0,110.38 L270.5,110.60 L271.0,110.68 L271.5,110.83 L272.0,110.70 L272.5,111.08 L273.0,111.21 L273.5,111.49 L274.0,111.29 L274.5,111.54 L275.0,112.04 L275.5,112.00 L276.0,112.33 L276.5,112.50 L277.0,112.64 L277.5,112.88 L278.0,113.17 L278.5,113.59 L279.0,113.66 L279.5,114.03 L280.0,114.12 L280.5,114.57 L281.0,114.83 L281.5,115.20 L282.0,115.58 L282.5,115.60 L283.0,116.30 L283.5,116.52 L284.0,116.76 L284.5,117.23 L285.0,117.49 L285.5,117.95 L286.0,118.62 L286.5,119.01 L287.0,119.52 L287.5,119.70 L288.0,120.15 L288.5,120.74 L289.0,121.27 L289.5,121.85 L290.0,122.19 L290.5,122.87 L291.0,123.33 L291.5,123.73 L292.0,124.46 L292.5,124.71 L293.0,125.45 L293.5,125.83 L294.0,126.31 L294.5,127.03 L295.0,127.60 L295.5,128.18 L296.0,128.64 L296.5,129.41 L297.0,129.91 L297.5,130.21 L298.0,130.71 L298.5,131.65 L299.0,132.00 L299.5,132.44 L300.0,133.03 L300.5,133.81 L301.0,134.17 L301.5,134.83 L302.0,135.52 L302.5,135.97 L303.0,136.68 L303.5,137.38 L304.0,137.90 L304.5,138.43 L305.0,139.02 L305.5,139.49 L306.0,140.22 L306.5,140.83 L307.0,141.41 L307.5,141.99 L308.0,142.71 L308.5,143.11 L309.0,143.93 L309.5,144.66 L310.0,144.92 L310.5,145.64 L311.0,146.57 L311.5,146.85 L312.0,147.79 L312.5,148.35 L313.0,148.80 L313.5,149.69 L314.0,150.10 L314.5,151.11 L315.0,151.56 L315.5,152.48 L316.0,153.15 L316.5,153.53 L317.0,154.32 L317.5,154.91 L318.0,155.84 L318.5,156.27 L319.0,156.95 L319.5,157.67 L320.0,158.66 L320.5,159.12 L321.0,159.85 L321.5,160.60 L322.0,161.35 L322.5,162.00 L323.0,162.92 L323.5,163.38 L324.0,164.15 L324.5,165.01 L325.0,165.47 L325.5,166.15 L326.0,167.13 L326.5,167.63 L327.0,168.56 L327.5,169.24 L328.0,169.77 L328.5,170.46 L329.0,171.07 L329.5,172.08 L330.0,172.61 L330.5,173.27 L331.0,173.90 L331.5,174.62 L332.0,175.57 L332.5,175.96 L333.0,176.82 L333.5,177.54 L334.0,178.18 L334.5,178.85 L335.0,179.49 L335.5,180.08 L336.0,181.00 L336.5,181.70 L337.0,182.23 L337.5,182.76 L338.0,183.68 L338.5,184.04 L339.0,184.68 L339.5,185.50 L340.0,186.22 L340.5,186.75 L341.0,187.19 L341.5,188.17 L342.0,188.46 L342.5,189.16 L343.0,190.03 L343.5,190.56 L344.0,191.16 L344.5,191.49 L345.0,192.41 L345.5,192.83 L346.0,193.27 L346.5,194.18 L347.0,194.83 L347.5,195.07 L348.0,195.82 L348.5,196.59 L349.0,196.94 L349.5,197.52 L350.0,198.29 L350.5,198.74 L351.0,199.54 L351.5,200.06 L352.0,200.64 L352.5,201.15 L353.0,201.52 L353.5,202.30 L354.0,202.83 L354.5,203.36 L355.0,203.97 L355.5,204.44 L356.0,204.97 L356.5,205.83 L357.0,206.18 L357.5,206.65 L358.0,207.57 L358.5,207.96 L359.0,208.60 L359.5,209.04 L360.0,209.54 L360.5,210.19 L361.0,210.97 L361.5,211.33 L362.0,212.17 L362.5,212.51 L363.0,213.33 L363.5,213.63 L364.0,214.32 L364.5,214.78 L365.0,215.38 L365.5,216.12 L366.0,216.66 L366.5,217.32 L367.0,217.79 L367.5,218.43 L368.0,219.03 L368.5,219.87 L369.0,220.14 L369.5,220.88 L370.0,221.66 L370.5,222.15 L371.0,222.63 L371.5,223.54 L372.0,223.79 L372.5,224.41 L373.0,224.97 L373.5,225.74 L374.0,226.52 L374.5,226.90 L375.0,227.51 L375.5,228.32 L376.0,228.64 L376.5,229.22 L377.0,230.09 L377.5,230.46 L378.0,231.24 L378.5,231.69 L379.0,232.48 L379.5,233.18 L380.0,233.63 L380.5,234.15 L381.0,234.89 L381.5,235.52 L382.0,235.86 L382.5,236.53 L383.0,237.18 L383.5,237.82 L384.0,238.32 L384.5,239.06 L385.0,239.48 L385.5,240.32 L386.0,240.68 L386.5,241.21 L387.0,241.73 L387.5,242.32 L388.0,242.93 L388.5,243.76 L389.0,244.14 L389.5,244.71 L390.0,245.48 L390.5,246.04 L391.0,246.51 L391.5,246.85 L392.0,247.43 L392.5,248.05 L393.0,248.49 L393.5,249.06 L394.0,249.54 L394.5,250.09 L395.0,250.82 L395.5,251.29 L396.0,251.75 L396.5,252.29 L397.0,252.86 L397.5,253.41 L398.0,253.66 L398.5,254.51 L399.0,254.87 L399.5,255.33 L400.0,256.08 L400.5,256.51 L401.0,256.85 L401.5,257.22 L402.0,257.89 L402.5,258.39 L403.0,258.87 L403.5,259.25 L404.0,259.94 L404.5,260.30 L405.0,261.00 L405.5,261.40 L406.0,261.80 L406.5,262.50 L407.0,262.84 L407.5,263.18 L408.0,263.75 L408.5,264.14 L409.0,264.78 L409.5,265.46 L410.0,265.95 L410.5,266.32 L411.0,266.61 L411.5,267.12 L412.0,267.59 L412.5,268.14 L413.0,268.73 L413.5,268.97 L414.0,269.64 L414.5,270.10 L415.0,270.67 L415.5,271.22 L416.0,271.53 L416.5,272.10 L417.0,272.45 L417.5,273.01 L418.0,273.57 L418.5,273.82 L419.0,274.49 L419.5,274.97 L420.0,275.32 L420.5,275.83 L421.0,276.55 L421.5,276.84 L422.0,277.26 L422.5,277.78 L423.0,278.36 L423.5,278.80 L424.0,279.26 L424.5,279.73 L425.0,280.17 L425.5,280.76 L426.0,281.28 L426.5,281.56 L427.0,282.24 L427.5,282.60 L428.0,283.35 L428.5,283.81 L429.0,283.96 L429.5,284.66 L430.0,284.99 L430.5,285.37 L431.0,286.14 L431.5,286.63 L432.0,287.05 L432.5,287.45 L433.0,288.05 L433.5,288.35 L434.0,288.86 L434.5,289.31 L435.0,289.85 L435.5,290.31 L436.0,290.55 L436.5,290.96 L437.0,291.55 L437.5,292.02 L438.0,292.37 L438.5,293.02 L439.0,293.46 L439.5,293.84 L440.0,294.22 L440.5,294.72 L441.0,294.96 L441.5,295.64 L442.0,295.80 L442.5,296.54 L443.0,296.85 L443.5,297.14 L444.0,297.52 L444.5,298.11 L445.0,298.47 L445.5,298.98 L446.0,299.16 L446.5,299.88 L447.0,300.11 L447.5,300.52 L448.0,301.05 L448.5,301.40 L449.0,301.73 L449.5,302.07 L450.0,302.54 L450.5,302.76 L451.0,303.25 L451.5,303.87 L452.0,303.98 L452.5,304.35 L453.0,305.05 L453.5,305.24 L454.0,305.69 L454.5,306.10 L455.0,306.53 L455.5,306.75 L456.0,307.31 L456.5,307.38 L457.0,308.10 L457.5,308.26 L458.0,308.76 L458.5,309.00 L459.0,309.55 L459.5,309.77 L460.0,310.23 L460.5,310.48 L461.0,311.06 L461.5,311.40 L462.0,311.53 L462.5,312.12 L463.0,312.56 L463.5,312.64 L464.0,312.98 L464.5,313.64 L465.0,314.01 L465.5,314.04 L466.0,314.65 L466.5,315.07 L467.0,315.16 L467.5,315.72 L468.0,315.89 L468.5,316.44 L469.0,316.68 L469.5,317.02 L470.0,317.24 L470.5,317.80 L471.0,318.17 L471.5,318.36 L472.0,318.61 L472.5,318.97 L473.0,319.39 L473.5,320.03 L474.0,320.27 L474.5,320.68 L475.0,320.96 L475.5,321.06 L476.0,321.50 L476.5,322.06 L477.0,322.35 L477.5,322.74 L478.0,323.01 L478.5,323.29 L479.0,323.64 L479.5,324.03 L480.0,324.16 L480.5,324.32 L481.0,324.75 L481.5,324.95 L482.0,325.37 L482.5,325.80 L483.0,325.99 L483.5,326.28 L484.0,326.53 L484.5,326.93 L485.0,327.29 L485.5,327.62 L486.0,328.05 L486.5,327.99 L487.0,328.35 L487.5,328.56 L488.0,329.18 L488.5,329.34 L489.0,329.62 L489.5,329.95 L490.0,329.89 L490.5,330.52 L491.0,330.55 L491.5,330.92 L492.0,331.08 L492.5,331.46 L493.0,331.53 L493.5,331.76 L494.0,331.98 L494.5,332.40 L495.0,332.52 L495.5,332.62 L496.0,332.92 L496.5,333.21 L497.0,333.35 L497.5,333.64 L498.0,333.95 L498.5,334.07 L499.0,334.33 L499.5,334.32 L500.0,334.74 L500.5,334.96 L501.0,334.98 L501.5,334.96 L502.0,335.16 L502.5,335.61 L503.0,335.83 L503.5,335.95 L504.0,336.03 L504.5,336.22 L505.0,336.22 L505.5,336.58 L506.0,336.90 L506.5,336.75 L507.0,337.07 L507.5,337.33 L508.0,337.41 L508.5,337.45 L509.0,337.56 L509.5,337.92 L510.0,338.16 L510.5,338.29 L511.0,338.26 L511.5,338.56 L512.0,338.74 L512.5,338.72 L513.0,339.03 L513.5,339.04 L514.0,339.12 L514.5,339.20 L515.0,339.65 L515.5,339.82 L516.0,339.70 L516.5,339.87 L517.0,340.13 L517.5,340.25 L518.0,340.63 L518.5,340.58 L519.0,340.91 L519.5,341.06 L520.0,341.15 L520.5,341.53 L521.0,341.54 L521.5,341.75 L522.0,341.99 L522.5,342.06 L523.0,342.16 L523.5,342.65 L524.0,342.76 L524.5,342.86 L525.0,343.03 L525.5,343.27 L526.0,343.33 L526.5,343.44 L527.0,343.82 L527.5,344.16 L528.0,344.03 L528.5,344.58 L529.0,344.54 L529.5,344.99 L530.0,345.10 L530.5,345.10 L531.0,345.28 L531.5,345.75 L532.0,345.99 L532.5,346.13 L533.0,346.24 L533.5,346.43 L534.0,346.73 L534.5,346.95 L535.0,347.16 L535.5,347.15 L536.0,347.57 L536.5,347.83 L537.0,347.88 L537.5,347.86 L538.0,348.14 L538.5,348.53 L539.0,348.65 L539.5,349.05 L540.0,349.14 L540.5,349.37 L541.0,349.35 L541.5,349.71 L542.0,349.99 L542.5,350.27 L543.0,350.47 L543.5,350.41 L544.0,350.71 L544.5,351.10 L545.0,350.94 L545.5,351.13 L546.0,351.37 L546.5,351.79 L547.0,351.82 L547.5,352.17 L548.0,352.41 L548.5,352.59 L549.0,352.47 L549.5,352.92 L550.0,353.15 L550.5,353.30 L551.0,353.54 L551.5,353.71 L552.0,353.80 L552.5,354.08 L553.0,354.13 L553.5,354.13 L554.0,354.37 L554.5,354.80 L555.0,354.73 L555.5,354.96 L556.0,355.28 L556.5,355.37 L557.0,355.58 L557.5,355.61 L558.0,355.78 L558.5,355.77 L559.0,355.97 L559.5,356.11 L560.0,356.41 L560.5,356.56 L561.0,356.53 L561.5,356.90 L562.0,356.83 L562.5,357.09 L563.0,357.09 L563.5,357.40 L564.0,357.41 L564.5,357.87 L565.0,357.77 L565.5,358.09 L566.0,358.07 L566.5,358.15 L567.0,358.49 L567.5,358.39 L568.0,358.61 L568.5,358.79 L569.0,359.05 L569.5,359.05 L570.0,358.91 L570.5,359.19 L571.0,359.51 L571.5,359.58 L572.0,359.50 L572.5,359.52 L573.0,359.69 L573.5,359.99 L574.0,359.87 L574.5,360.26 L575.0,360.11 L575.5,360.38 L576.0,360.49 L576.5,360.40 L577.0,360.61 L577.5,360.75 L578.0,360.71 L578.5,360.90 L579.0,361.04 L579.5,361.26 L580.0,361.08 L580.5,361.12 L581.0,361.34 L581.5,361.46 L582.0,361.50 L582.5,361.76 L583.0,361.55 L583.5,361.76 L584.0,361.82 L584.5,361.79 L585.0,361.97 L585.5,362.04 L586.0,362.08 L586.5,362.31 L587.0,362.47 L587.5,362.53 L588.0,362.30 L588.5,362.42 L589.0,362.72 L589.5,362.44 L590.0,362.50 L590.5,362.56 L591.0,362.98 L591.5,362.85 L592.0,362.88 L592.5,362.81 L593.0,363.18 L593.5,363.28 L594.0,363.22 L594.5,363.36 L595.0,363.28 L595.5,363.23 L596.0,363.23 L596.5,363.33 L597.0,363.32 L597.5,363.46 L598.0,363.38 L598.5,363.43 L599.0,363.82 L599.5,363.85 L600.0,363.88 L600.5,363.75 L601.0,363.83 L601.5,363.92 L602.0,364.06 L602.5,363.92 L603.0,364.05 L603.5,364.11 L604.0,364.27 L604.5,364.12 L605.0,364.03 L605.5,364.24 L606.0,364.47" stroke="#00ff00"/>
<path d="M152.5,328.87 L155.3,326.94 L155.8,325.17 L156.3,323.66 L156.8,322.24 L157.3,320.48 L157.8,319.07 L158.3,317.58 L158.8,315.97 L159.3,314.60 L159.8,313.13 L160.3,311.41 L160.8,310.13 L161.3,308.68 L161.8,307.18 L162.3,305.76 L162.8,304.36 L163.3,303.04 L163.8,301.65 L164.3,300.12 L164.8,298.92 L165.3,297.59 L165.8,296.15 L166.3,294.98 L166.8,293.41 L167.3,292.16 L167.8,290.83 L168.3,289.49 L168.8,287.96 L169.3,286.79 L169.8,285.19 L170.3,283.97 L170.8,282.53 L171.3,281.21 L171.8,279.83 L172.3,278.42 L172.8,276.63 L173.3,275.39 L173.8,273.69 L174.3,272.14 L174.8,270.38 L175.3,269.10 L175.8,267.22 L176.3,265.59 L176.8,263.92 L177.3,262.19 L177.8,260.48 L178.3,258.72 L178.8,257.04 L179.3,255.17 L179.8,253.51 L180.3,251.74 L180.8,249.90 L181.3,247.82 L181.8,246.08 L182.3,244.24 L182.8,242.37 L183.3,240.38 L183.8,238.44 L184.3,236.81 L184.8,234.92 L185.3,232.96 L185.8,231.25 L186.3,229.18 L186.8,227.64 L187.3,225.88 L187.8,224.11 L188.3,221.97 L188.8,220.43 L189.3,218.70 L189.8,216.69 L190.3,215.14 L190.8,213.25 L191.3,211.56 L191.8,209.79 L192.3,208.22 L192.8,206.79 L193.3,205.05 L193.8,203.51 L194.3,201.98 L194.8,200.08 L195.3,198.79 L195.8,197.27 L196.3,195.66 L196.8,194.03 L197.3,192.49 L197.8,191.15 L198.3,189.69 L198.8,188.24 L199.3,187.02 L199.8,185.65 L200.3,184.17 L200.8,182.83 L201.3,181.68 L201.8,180.51 L202.3,179.27 L202.8,178.05 L203.3,176.98 L203.8,175.76 L204.3,174.51 L204.8,173.52 L205.3,172.40 L205.8,171.20 L206.3,170.08 L206.8,169.14 L207.3,168.26 L207.8,167.29 L208.3,166.13 L208.8,165.27 L209.3,164.15 L209.8,163.43 L210.3,162.46 L210.8,161.70 L211.3,160.85 L211.8,159.66 L212.3,159.17 L212.8,158.01 L213.3,157.50 L213.8,156.69 L214.3,155.58 L214.8,154.81 L215.3,153.96 L215.8,153.49 L216.3,152.66 L216.8,151.99 L217.3,151.18 L217.8,150.26 L218.3,149.69 L218.8,148.80 L219.3,148.08 L219.8,147.41 L220.3,146.82 L220.8,145.97 L221.3,145.38 L221.8,144.70 L222.3,144.12 L222.8,143.32 L223.3,142.63 L223.8,142.02 L224.3,141.33 L224.8,140.79 L225.3,139.89 L225.8,139.28 L226.3,138.59 L226.8,138.11 L227.3,137.65 L227.8,136.93 L228.3,136.32 L228.8,135.83 L229.3,135.17 L229.8,134.35 L230.3,133.71 L230.8,133.24 L231.3,132.51 L231.8,132.06 L232.3,131.27 L232.8,130.80 L233.3,130.34 L233.8,129.57 L234.3,128.95 L234.8,128.61 L235.3,127.81 L235.8,127.53 L236.3,126.84 L236.8,126.40 L237.3,125.70 L237.8,125.14 L238.3,124.51 L238.8,123.90 L239.3,123.74 L239.8,122.94 L240.3,122.39 L240.8,122.25 L241.3,121.62 L241.8,121.17 L242.3,120.86 L242.8,120.35 L243.3,119.74 L243.8,119.33 L244.3,119.08 L244.8,118.70 L245.3,118.15 L245.8,117.79 L246.3,117.54 L246.8,117.03 L247.3,117.00 L247.8,116.63 L248.3,116.12 L248.8,116.00 L249.3,115.73 L249.8,115.27 L250.3,115.15 L250.8,115.06 L251.3,114.70 L251.8,114.60 L252.3,114.20 L252.8,114.32 L253.3,114.01 L253.8,113.81 L254.3,113.44 L254.8,113.44 L255.3,113.17 L255.8,113.22 L256.3,113.01 L256.8,112.95 L257.3,112.89 L257.8,112.75 L258.3,112.74 L258.8,112.78 L259.3,112.59 L259.8,112.73 L260.3,112.86 L260.8,112.76 L261.3,112.84 L261.8,112.51 L262.3,112.75 L262.8,112.60 L263.3,112.91 L263.8,112.78 L264.3,112.92 L264.8,113.00 L265.3,112.81 L265.8,112.87 L266.3,113.24 L266.8,113.34 L267.3,113.29 L267.8,113.24 L268.3,113.36 L268.8,113.80 L269.3,113.89 L269.8,113.91 L270.3,114.19 L270.8,114.41 L271.3,114.27 L271.8,114.75 L272.3,115.04 L272.8,115.20 L273.3,115.41 L273.8,115.46 L274.3,115.76 L274.8,115.80 L275.3,116.32 L275.8,116.53 L276.3,116.70 L276.8,116.83 L277.3,117.17 L277.8,117.56 L278.3,118.08 L278.8,118.22 L279.3,118.71 L279.8,118.78 L280.3,119.16 L280.8,119.52 L281.3,119.91 L281.8,120.50 L282.3,120.73 L282.8,121.12 L283.3,121.68 L283.8,122.02 L284.3,122.64 L284.8,123.02 L285.3,123.54 L285.8,123.86 L286.3,124.33 L286.8,124.85 L287.3,125.57 L287.8,126.06 L288.3,126.43 L288.8,126.93 L289.3,127.30 L289.8,128.15 L290.3,128.60 L290.8,129.07 L291.3,129.53 L291.8,130.21 L292.3,130.87 L292.8,131.26 L293.3,131.83 L293.8,132.50 L294.3,133.07 L294.8,133.44 L295.3,134.04 L295.8,134.74 L296.3,135.45 L296.8,135.89 L297.3,136.32 L297.8,136.98 L298.3,137.54 L298.8,138.35 L299.3,138.71 L299.8,139.59 L300.3,139.89 L300.8,140.43 L301.3,140.95 L301.8,141.73 L302.3,142.33 L302.8,143.02 L303.3,143.57 L303.8,144.11 L304.3,144.51 L304.8,145.46 L305.3,145.79 L305.8,146.39 L306.3,146.98 L306.8,147.75 L307.3,148.39 L307.8,148.87 L308.3,149.47 L308.8,150.00 L309.3,150.86 L309.8,151.54 L310.3,151.94 L310.8,152.63 L311.3,153.48 L311.8,154.11 L312.3,154.54 L312.8,155.54 L313.3,156.09 L313.8,156.76 L314.3,157.27 L314.8,158.21 L315.3,158.68 L315.8,159.44 L316.3,160.26 L316.8,160.89 L317.3,161.32 L317.8,162.00 L318.3,162.73 L318.8,163.39 L319.3,164.40 L319.8,164.97 L320.3,165.66 L320.8,166.32 L321.3,167.09 L321.8,167.78 L322.3,168.61 L322.8,169.20 L323.3,170.10 L323.8,170.81 L324.3,171.54 L324.8,172.21 L325.3,172.70 L325.8,173.52 L326.3,174.41 L326.8,174.94 L327.3,175.75 L327.8,176.33 L328.3,177.29 L328.8,177.82 L329.3,178.55 L329.8,179.45 L330.3,179.87 L330.8,180.56 L331.3,181.44 L331.8,182.16 L332.3,182.74 L332.8,183.56 L333.3,184.42 L333.8,185.18 L334.3,185.90 L334.8,186.55 L335.3,186.96 L335.8,187.77 L336.3,188.49 L336.8,189.02 L337.3,190.00 L337.8,190.49 L338.3,191.37 L338.8,192.00 L339.3,192.51 L339.8,193.21 L340.3,193.92 L340.8,194.48 L341.3,195.06 L341.8,195.88 L342.3,196.46 L342.8,197.12 L343.3,197.98 L343.8,198.60 L344.3,199.11 L344.8,199.60 L345.3,200.53 L345.8,200.96 L346.3,201.53 L346.8,202.42 L347.3,203.10 L347.8,203.47 L348.3,204.21 L348.8,204.96 L349.3,205.43 L349.8,205.98 L350.3,206.52 L350.8,207.08 L351.3,208.04 L351.8,208.61 L352.3,208.97 L352.8,209.76 L353.3,210.18 L353.8,211.01 L354.3,211.46 L354.8,212.19 L355.3,212.73 L355.8,213.15 L356.3,213.94 L356.8,214.57 L357.3,214.93 L357.8,215.52 L358.3,216.21 L358.8,216.98 L359.3,217.68 L359.8,218.06 L360.3,218.82 L360.8,219.36 L361.3,219.78 L361.8,220.44 L362.3,221.19 L362.8,221.64 L363.3,222.25 L363.8,222.93 L364.3,223.30 L364.8,224.02 L365.3,224.64 L365.8,225.25 L366.3,225.90 L366.8,226.33 L367.3,227.00 L367.8,227.60 L368.3,228.05 L368.8,228.92 L369.3,229.59 L369.8,230.02 L370.3,230.56 L370.8,231.14 L371.3,231.77 L371.8,232.34 L372.3,232.89 L372.8,233.76 L373.3,234.12 L373.8,234.66 L374.3,235.43 L374.8,235.76 L375.3,236.49 L375.8,237.17 L376.3,237.87 L376.8,238.25 L377.3,238.74 L377.8,239.70 L378.3,239.91 L378.8,240.66 L379.3,241.28 L379.8,242.06 L380.3,242.39 L380.8,242.93 L381.3,243.53 L381.8,244.15 L382.3,244.64 L382.8,245.52 L383.3,245.95 L383.8,246.62 L384.3,247.01 L384.8,247.74 L385.3,248.41 L385.8,248.71 L386.3,249.57 L386.8,249.87 L387.3,250.61 L387.8,251.27 L388.3,251.64 L388.8,252.39 L389.3,252.74 L389.8,253.31 L390.3,254.07 L390.8,254.49 L391.3,254.83 L391.8,255.42 L392.3,256.12 L392.8,256.59 L393.3,257.02 L393.8,257.87 L394.3,258.22 L394.8,258.99 L395.3,259.31 L395.8,259.78 L396.3,260.41 L396.8,261.11 L397.3,261.67 L397.8,262.06 L398.3,262.47 L398.8,263.10 L399.3,263.52 L399.8,264.09 L400.3,264.47 L400.8,264.99 L401.3,265.88 L401.8,266.33 L402.3,266.64 L402.8,267.30 L403.3,267.58 L403.8,268.41 L404.3,268.83 L404.8,269.38 L405.3,269.77 L405.8,270.28 L406.3,270.94 L406.8,271.24 L407.3,271.65 L407.8,272.16 L408.3,272.98 L408.8,273.22 L409.3,273.63 L409.8,274.33 L410.3,274.65 L410.8,275.26 L411.3,275.89 L411.8,276.16 L412.3,276.72 L412.8,277.41 L413.3,277.87 L413.8,278.36 L414.3,278.51 L414.8,279.36 L415.3,279.68 L415.8,279.99 L416.3,280.80 L416.8,280.94 L417.3,281.76 L417.8,281.85 L418.3,282.34 L418.8,282.97 L419.3,283.50 L419.8,283.95 L420.3,284.52 L420.8,284.70 L421.3,285.41 L421.8,285.71 L422.3,286.43 L422.8,286.76 L423.3,287.24 L423.8,287.48 L424.3,288.25 L424.8,288.45 L425.3,288.87 L425.8,289.41 L426.3,290.00 L426.8,290.27 L427.3,290.77 L427.8,291.27 L428.3,291.57 L428.8,291.96 L429.3,292.51 L429.8,293.08 L430.3,293.50 L430.8,293.75 L431.3,294.36 L431.8,294.86 L432.3,295.23 L432.8,295.45 L433.3,295.82 L433.8,296.62 L434.3,296.93 L434.8,297.18 L435.3,297.78 L435.8,298.13 L436.3,298.56 L436.8,298.86 L437.3,299.40 L437.8,299.69 L438.3,300.09 L438.8,300.47 L439.3,301.04 L439.8,301.48 L440.3,301.65 L440.8,301.96 L441.3,302.42 L441.8,303.01 L442.3,303.23 L442.8,303.48 L443.3,304.19 L443.8,304.41 L444.3,304.64 L444.8,305.29 L445.3,305.56 L445.8,306.07 L446.3,306.43 L446.8,306.79 L447.3,307.18 L447.8,307.35 L448.3,307.88 L448.8,308.11 L449.3,308.53 L449.8,308.71 L450.3,309.23 L450.8,309.36 L451.3,310.02 L451.8,310.10 L452.3,310.60 L452.8,311.05 L453.3,311.39 L453.8,311.74 L454.3,311.91 L454.8,312.11 L455.3,312.81 L455.8,312.88 L456.3,313.44 L456.8,313.59 L457.3,313.93 L457.8,314.31 L458.3,314.64 L458.8,315.06 L459.3,315.31 L459.8,315.47 L460.3,315.94 L460.8,316.09 L461.3,316.72 L461.8,316.77 L462.3,317.17 L462.8,317.58 L463.3,317.81 L463.8,318.35 L464.3,318.63 L464.8,318.76 L465.3,319.12 L465.8,319.56 L466.3,319.79 L466.8,320.15 L467.3,320.35 L467.8,320.76 L468.3,321.08 L468.8,321.52 L469.3,321.62 L469.8,322.11 L470.3,322.19 L470.8,322.53 L471.3,322.82 L471.8,323.41 L472.3,323.39 L472.8,323.78 L473.3,324.16 L473.8,324.56 L474.3,324.85 L474.8,324.94 L475.3,325.36 L475.8,325.79 L476.3,325.87 L476.8,326.16 L477.3,326.74 L477.8,326.71 L478.3,327.04 L478.8,327.38 L479.3,327.94 L479.8,328.04 L480.3,328.36 L480.8,328.70 L481.3,329.13 L481.8,329.07 L482.3,329.42 L482.8,329.79 L483.3,330.17 L483.8,330.24 L484.3,330.64 L484.8,330.97 L485.3,331.05 L485.8,331.43 L486.3,331.59 L486.8,332.20 L487.3,332.10 L487.8,332.43 L488.3,332.87 L488.8,332.98 L489.3,333.37 L489.8,333.53 L490.3,334.04 L490.8,334.12 L491.3,334.28 L491.8,334.46 L492.3,334.82 L492.8,335.18 L493.3,335.39 L493.8,335.62 L494.3,335.77 L494.8,336.17 L495.3,336.18 L495.8,336.46 L496.3,336.84 L496.8,336.99 L497.3,337.08 L497.8,337.42 L498.3,337.62 L498.8,337.63 L499.3,337.88 L499.8,338.22 L500.3,338.27 L500.8,338.46 L501.3,338.73 L501.8,338.74 L502.3,339.00 L502.8,339.48 L503.3,339.38 L503.8,339.78 L504.3,339.65 L504.8,339.95 L505.3,340.22 L505.8,340.32 L506.3,340.75 L506.8,340.93 L507.3,340.84 L507.8,340.95 L508.3,341.44 L508.8,341.56 L509.3,341.62 L509.8,341.61 L510.3,341.76 L510.8,342.20 L511.3,342.36 L511.8,342.44 L512.3,342.56 L512.8,342.70 L513.3,342.90 L513.8,343.09 L514.3,343.33 L514.8,343.41 L515.3,343.55 L515.8,343.66 L516.3,344.00 L516.8,344.28 L517.3,344.14 L517.8,344.54 L518.3,344.65 L518.8,344.65 L519.3,344.77 L519.8,345.22 L520.3,345.11 L520.8,345.26 L521.3,345.41 L521.8,345.87 L522.3,345.86 L522.8,345.88 L523.3,346.15 L523.8,346.42 L524.3,346.57 L524.8,346.60 L525.3,347.05 L525.8,347.16 L526.3,347.16 L526.8,347.34 L527.3,347.49 L527.8,347.56 L528.3,347.97 L528.8,348.00 L529.3,348.32 L529.8,348.56 L530.3,348.53 L530.8,348.68 L531.3,348.88 L531.8,349.10 L532.3,349.10 L532.8,349.40 L533.3,349.54 L533.8,349.63 L534.3,350.09 L534.8,350.21 L535.3,350.29 L535.8,350.30 L536.3,350.73 L536.8,350.76 L537.3,351.13 L537.8,351.21 L538.3,351.22 L538.8,351.59 L539.3,351.70 L539.8,351.77 L540.3,352.12 L540.8,352.10 L541.3,352.19 L541.8,352.32 L542.3,352.72 L542.8,352.75 L543.3,352.88 L543.8,353.00 L544.3,353.46 L544.8,353.43 L545.3,353.83 L545.8,354.01 L546.3,354.15 L546.8,354.08 L547.3,354.53 L547.8,354.57 L548.3,354.82 L548.8,355.01 L549.3,354.94 L549.8,355.13 L550.3,355.50 L550.8,355.43 L551.3,355.51 L551.8,355.65 L552.3,356.02 L552.8,356.08 L553.3,356.50 L553.8,356.29 L554.3,356.61 L554.8,356.89 L555.3,357.01 L555.8,357.26 L556.3,357.35 L556.8,357.59 L557.3,357.79 L557.8,357.90 L558.3,357.96 L558.8,358.03 L559.3,358.24 L559.8,358.27 L560.3,358.44 L560.8,358.70 L561.3,358.82 L561.8,358.95 L562.3,358.98 L562.8,359.49 L563.3,359.38 L563.8,359.59 L564.3,359.68 L564.8,359.91 L565.3,360.15 L565.8,360.36 L566.3,360.37 L566.8,360.64 L567.3,360.56 L567.8,360.74 L568.3,360.83 L568.8,361.22 L569.3,361.03 L569.8,361.20 L570.3,361.56 L570.8,361.48 L571.3,361.55 L571.8,361.80 L572.3,361.97 L572.8,362.10 L573.3,362.14 L573.8,362.32 L574.3,362.42 L574.8,362.51 L575.3,362.77 L575.8,362.78 L576.3,362.89 L576.8,363.31 L577.3,363.41 L577.8,363.33 L578.3,363.51 L578.8,363.45 L579.3,363.54 L579.8,363.85 L580.3,364.14 L580.8,363.91 L581.3,364.17 L581.8,364.41 L582.3,364.21 L582.8,364.55 L583.3,364.52 L583.8,364.82 L584.3,364.95 L584.8,365.08 L585.3,365.14 L585.8,364.96 L586.3,365.29 L586.8,365.34 L587.3,365.33 L587.8,365.39 L588.3,365.59 L588.8,365.66 L589.3,365.74 L589.8,366.05 L590.3,365.85 L590.8,366.18 L591.3,365.99 L591.8,366.29 L592.3,366.27 L592.8,366.34 L593.3,366.45 L593.8,366.39 L594.3,366.51 L594.8,366.66 L595.3,366.65 L595.8,366.99 L596.3,367.01 L596.8,367.06 L597.3,367.16 L597.8,367.02 L598.3,367.03 L598.8,367.13 L599.3,367.53 L599.8,367.44 L600.3,367.71 L600.8,367.52 L601.3,367.62 L601.8,367.79 L602.3,367.94 L602.8,367.85 L603.3,367.94 L603.8,367.96 L604.3,367.98 L604.8,368.32 L605.3,368.39 L605.8,368.27" stroke="#0000ff"/>
<path d="M152.5,327.86 L155.2,325.62 L155.7,324.16 L156.2,322.98 L156.7,321.55 L157.2,320.12 L157.7,319.10 L158.2,317.55 L158.7,316.60 L159.2,315.01 L159.7,313.80 L160.2,312.39 L160.7,311.20 L161.2,310.11 L161.7,308.62 L162.2,307.38 L162.7,306.11 L163.2,304.84 L163.7,303.80 L164.2,302.44 L164.7,301.41 L165.2,300.13 L165.7,298.82 L166.2,297.74 L166.7,296.50 L167.2,294.98 L167.7,293.90 L168.2,292.60 L168.7,291.11 L169.2,290.06 L169.7,288.46 L170.2,287.40 L170.7,286.17 L171.2,284.73 L171.7,283.40 L172.2,282.02 L172.7,280.54 L173.2,279.02 L173.7,277.71 L174.2,276.25 L174.7,275.00 L175.2,273.56 L175.7,272.11 L176.2,270.35 L176.7,269.05 L177.2,267.50 L177.7,265.59 L178.2,264.21 L178.7,262.42 L179.2,260.79 L179.7,259.29 L180.2,257.73 L180.7,255.83 L181.2,254.19 L181.7,252.55 L182.2,250.85 L182.7,248.95 L183.2,247.23 L183.7,245.42 L184.2,243.79 L184.7,242.31 L185.2,240.23 L185.7,238.71 L186.2,236.91 L186.7,235.24 L187.2,233.47 L187.7,231.42 L188.2,229.78 L188.7,228.25 L189.2,226.44 L189.7,224.80 L190.2,222.75 L190.7,221.36 L191.2,219.48 L191.7,217.95 L192.2,216.19 L192.7,214.43 L193.2,212.84 L193.7,211.00 L194.2,209.74 L194.7,208.11 L195.2,206.43 L195.7,204.85 L196.2,203.33 L196.7,201.68 L197.2,200.08 L197.7,198.75 L198.2,197.41 L198.7,195.92 L199.2,194.47 L199.7,192.81 L200.2,191.50 L200.7,190.14 L201.2,188.93 L201.7,187.78 L202.2,186.40 L202.7,185.15 L203.2,183.87 L203.7,182.58 L204.2,181.46 L204.7,180.60 L205.2,179.46 L205.7,178.26 L206.2,177.20 L206.7,175.97 L207.2,174.86 L207.7,173.85 L208.2,172.85 L208.7,171.95 L209.2,171.30 L209.7,170.20 L210.2,169.13 L210.7,168.17 L211.2,167.25 L211.7,166.37 L212.2,165.55 L212.7,164.77 L213.2,163.86 L213.7,163.05 L214.2,162.39 L214.7,161.39 L215.2,160.59 L215.7,160.06 L216.2,159.09 L216.7,158.46 L217.2,157.57 L217.7,156.99 L218.2,155.98 L218.7,155.35 L219.2,154.87 L219.7,153.93 L220.2,153.37 L220.7,152.50 L221.2,151.77 L221.7,151.22 L222.2,150.56 L222.7,149.73 L223.2,149.27 L223.7,148.57 L224.2,147.90 L224.7,147.42 L225.2,146.83 L225.7,146.02 L226.2,145.35 L226.7,144.93 L227.2,144.32 L227.7,143.62 L228.2,143.07 L228.7,142.38 L229.2,141.96 L229.7,141.33 L230.2,140.88 L230.7,140.11 L231.2,139.47 L231.7,139.26 L232.2,138.62 L232.7,138.19 L233.2,137.66 L233.7,137.18 L234.2,136.52 L234.7,136.24 L235.2,135.68 L235.7,135.13 L236.2,134.58 L236.7,134.11 L237.2,133.73 L237.7,133.34 L238.2,132.93 L238.7,132.63 L239.2,132.37 L239.7,131.82 L240.2,131.47 L240.7,130.83 L241.2,130.74 L241.7,130.31 L242.2,130.06 L242.7,129.54 L243.2,129.32 L243.7,128.94 L244.2,128.73 L244.7,128.28 L245.2,128.14 L245.7,127.86 L246.2,127.44 L246.7,127.16 L247.2,126.97 L247.7,126.64 L248.2,126.58 L248.7,126.33 L249.2,125.92 L249.7,125.78 L250.2,125.34 L250.7,125.46 L251.2,125.16 L251.7,124.75 L252.2,124.57 L252.7,124.75 L253.2,124.57 L253.7,124.37 L254.2,124.15 L254.7,123.97 L255.2,123.96 L255.7,124.03 L256.2,123.83 L256.7,123.51 L257.2,123.51 L257.7,123.40 L258.2,123.66 L258.7,123.61 L259.2,123.60 L259.7,123.38 L260.2,123.32 L260.7,123.22 L261.2,123.30 L261.7,123.35 L262.2,123.39 L262.7,123.40 L263.2,123.59 L263.7,123.70 L264.2,123.57 L264.7,123.81 L265.2,123.68 L265.7,123.76 L266.2,124.07 L266.7,123.89 L267.2,124.00 L267.7,124.50 L268.2,124.43 L268.7,124.55 L269.2,124.85 L269.7,125.07 L270.2,125.04 L270.7,125.40 L271.2,125.33 L271.7,125.85 L272.2,125.88 L272.7,126.10 L273.2,126.20 L273.7,126.47 L274.2,126.87 L274.7,127.03 L275.2,127.54 L275.7,127.97 L276.2,127.99 L276.7,128.50 L277.2,128.76 L277.7,129.11 L278.2,129.52 L278.7,129.77 L279.2,130.27 L279.7,130.39 L280.2,130.99 L280.7,131.33 L281.2,131.61 L281.7,132.04 L282.2,132.76 L282.7,133.07 L283.2,133.47 L283.7,133.93 L284.2,134.54 L284.7,134.93 L285.2,135.25 L285.7,136.04 L286.2,136.50 L286.7,136.99 L287.2,137.48 L287.7,137.99 L288.2,138.38 L288.7,139.17 L289.2,139.61 L289.7,139.93 L290.2,140.74 L290.7,141.13 L291.2,141.54 L291.7,142.42 L292.2,142.71 L292.7,143.35 L293.2,143.77 L293.7,144.50 L294.2,145.06 L294.7,145.73 L295.2,146.33 L295.7,146.85 L296.2,147.32 L296.7,147.75 L297.2,148.51 L297.7,148.77 L298.2,149.35 L298.7,150.00 L299.2,150.46 L299.7,151.08 L300.2,151.45 L300.7,152.05 L301.2,152.51 L301.7,153.22 L302.2,153.70 L302.7,154.48 L303.2,154.82 L303.7,155.35 L304.2,156.13 L304.7,156.49 L305.2,157.32 L305.7,157.78 L306.2,158.21 L306.7,159.02 L307.2,159.73 L307.7,160.06 L308.2,160.76 L308.7,161.38 L309.2,162.16 L309.7,162.80 L310.2,163.07 L310.7,163.84 L311.2,164.67 L311.7,165.18 L312.2,165.89 L312.7,166.59 L313.2,167.06 L313.7,167.77 L314.2,168.82 L314.7,169.34 L315.2,170.08 L315.7,170.86 L316.2,171.67 L316.7,172.48 L317.2,172.91 L317.7,173.89 L318.2,174.40 L318.7,175.39 L319.2,176.27 L319.7,176.92 L320.2,177.66 L320.7,178.65 L321.2,179.38 L321.7,180.27 L322.2,180.92 L322.7,181.64 L323.2,182.60 L323.7,183.33 L324.2,183.96 L324.7,184.83 L325.2,185.98 L325.7,186.67 L326.2,187.25 L326.7,188.37 L327.2,189.19 L327.7,189.73 L328.2,190.94 L328.7,191.44 L329.2,192.40 L329.7,193.30 L330.2,194.04 L330.7,194.80 L331.2,195.68 L331.7,196.56 L332.2,197.50 L332.7,198.29 L333.2,199.15 L333.7,199.88 L334.2,200.56 L334.7,201.31 L335.2,202.33 L335.7,203.13 L336.2,203.67 L336.7,204.65 L337.2,205.25 L337.7,205.91 L338.2,206.85 L338.7,207.78 L339.2,208.39 L339.7,209.25 L340.2,210.01 L340.7,210.73 L341.2,211.27 L341.7,212.24 L342.2,212.64 L342.7,213.53 L343.2,214.07 L343.7,214.90 L344.2,215.81 L344.7,216.48 L345.2,217.25 L345.7,217.77 L346.2,218.44 L346.7,218.98 L347.2,219.78 L347.7,220.63 L348.2,221.07 L348.7,221.94 L349.2,222.38 L349.7,223.24 L350.2,223.65 L350.7,224.61 L351.2,224.92 L351.7,225.55 L352.2,226.39 L352.7,227.11 L353.2,227.72 L353.7,228.23 L354.2,228.98 L354.7,229.40 L355.2,230.08 L355.7,230.68 L356.2,231.28 L356.7,231.82 L357.2,232.50 L357.7,233.24 L358.2,233.88 L358.7,234.38 L359.2,235.09 L359.7,235.58 L360.2,236.38 L360.7,236.66 L361.2,237.56 L361.7,238.21 L362.2,238.68 L362.7,239.29 L363.2,240.02 L363.7,240.28 L364.2,240.85 L364.7,241.61 L365.2,242.28 L365.7,242.79 L366.2,243.36 L366.7,243.93 L367.2,244.52 L367.7,245.27 L368.2,245.53 L368.7,246.35 L369.2,246.70 L369.7,247.58 L370.2,247.93 L370.7,248.72 L371.2,249.10 L371.7,249.80 L372.2,250.32 L372.7,251.07 L373.2,251.45 L373.7,252.03 L374.2,252.59 L374.7,253.06 L375.2,253.89 L375.7,254.22 L376.2,254.70 L376.7,255.28 L377.2,256.04 L377.7,256.67 L378.2,257.10 L378.7,257.80 L379.2,258.05 L379.7,258.87 L380.2,259.37 L380.7,259.69 L381.2,260.18 L381.7,260.85 L382.2,261.39 L382.7,261.96 L383.2,262.58 L383.7,262.92 L384.2,263.46 L384.7,264.02 L385.2,264.48 L385.7,265.11 L386.2,265.70 L386.7,266.09 L387.2,266.55 L387.7,267.30 L388.2,267.56 L388.7,268.38 L389.2,268.79 L389.7,269.14 L390.2,269.56 L390.7,270.39 L391.2,270.56 L391.7,271.35 L392.2,271.76 L392.7,272.32 L393.2,272.61 L393.7,273.31 L394.2,273.61 L394.7,274.23 L395.2,274.86 L395.7,275.19 L396.2,275.49 L396.7,276.00 L397.2,276.54 L397.7,277.19 L398.2,277.65 L398.7,277.95 L399.2,278.50 L399.7,278.87 L400.2,279.39 L400.7,279.79 L401.2,280.50 L401.7,280.73 L402.2,281.17 L402.7,281.75 L403.2,282.04 L403.7,282.46 L404.2,283.04 L404.7,283.65 L405.2,283.92 L405.7,284.34 L406.2,284.79 L406.7,285.36 L407.2,285.68 L407.7,286.23 L408.2,286.67 L408.7,286.93 L409.2,287.48 L409.7,288.13 L410.2,288.33 L410.7,288.99 L411.2,289.16 L411.7,289.77 L412.2,290.18 L412.7,290.71 L413.2,290.90 L413.7,291.39 L414.2,291.94 L414.7,292.58 L415.2,292.86 L415.7,293.44 L416.2,293.75 L416.7,294.37 L417.2,294.45 L417.7,295.20 L418.2,295.40 L418.7,295.82 L419.2,296.38 L419.7,296.78 L420.2,297.44 L420.7,297.86 L421.2,298.21 L421.7,298.45 L422.2,298.88 L422.7,299.40 L423.2,299.79 L423.7,300.18 L424.2,300.61 L424.7,301.06 L425.2,301.51 L425.7,301.86 L426.2,302.37 L426.7,303.05 L427.2,303.43 L427.7,303.77 L428.2,304.33 L428.7,304.74 L429.2,304.83 L429.7,305.23 L430.2,305.76 L430.7,306.26 L431.2,306.86 L431.7,306.88 L432.2,307.56 L432.7,308.01 L433.2,308.21 L433.7,308.82 L434.2,309.26 L434.7,309.35 L435.2,309.98 L435.7,310.31 L436.2,310.82 L436.7,310.97 L437.2,311.57 L437.7,311.70 L438.2,312.09 L438.7,312.64 L439.2,312.99 L439.7,313.40 L440.2,313.69 L440.7,314.38 L441.2,314.52 L441.7,314.93 L442.2,315.24 L442.7,315.81 L443.2,315.89 L443.7,316.56 L444.2,316.62 L444.7,317.25 L445.2,317.42 L445.7,317.84 L446.2,318.04 L446.7,318.62 L447.2,318.73 L447.7,319.29 L448.2,319.58 L448.7,320.01 L449.2,320.38 L449.7,320.64 L450.2,320.71 L450.7,321.30 L451.2,321.34 L451.7,321.94 L452.2,322.31 L452.7,322.31 L453.2,322.59 L453.7,323.21 L454.2,323.34 L454.7,323.78 L455.2,324.15 L455.7,324.50 L456.2,324.64 L456.7,325.07 L457.2,325.40 L457.7,325.64 L458.2,325.78 L458.7,326.29 L459.2,326.38 L459.7,326.87 L460.2,326.95 L460.7,327.28 L461.2,327.39 L461.7,327.70 L462.2,328.32 L462.7,328.41 L463.2,328.80 L463.7,328.98 L464.2,329.36 L464.7,329.55 L465.2,329.67 L465.7,330.02 L466.2,330.42 L466.7,330.50 L467.2,331.08 L467.7,331.00 L468.2,331.47 L468.7,331.86 L469.2,332.07 L469.7,332.10 L470.2,332.34 L470.7,332.85 L471.2,332.99 L471.7,333.12 L472.2,333.39 L472.7,333.86 L473.2,333.86 L473.7,334.22 L474.2,334.73 L474.7,334.71 L475.2,335.20 L475.7,335.11 L476.2,335.43 L476.7,335.61 L477.2,336.13 L477.7,336.30 L478.2,336.62 L478.7,336.88 L479.2,337.08 L479.7,337.06 L480.2,337.44 L480.7,337.50 L481.2,338.03 L481.7,338.09 L482.2,338.35 L482.7,338.74 L483.2,339.00 L483.7,339.07 L484.2,339.20 L484.7,339.61 L485.2,339.81 L485.7,339.77 L486.2,340.07 L486.7,340.47 L487.2,340.69 L487.7,340.87 L488.2,340.89 L488.7,340.96 L489.2,341.45 L489.7,341.37 L490.2,341.72 L490.7,341.82 L491.2,342.19 L491.7,342.18 L492.2,342.37 L492.7,342.73 L493.2,342.86 L493.7,343.14 L494.2,342.96 L494.7,343.13 L495.2,343.52 L495.7,343.61 L496.2,343.93 L496.7,343.92 L497.2,343.91 L497.7,344.23 L498.2,344.29 L498.7,344.67 L499.2,344.82 L499.7,344.99 L500.2,344.83 L500.7,345.15 L501.2,345.15 L501.7,345.60 L502.2,345.40 L502.7,345.74 L503.2,345.90 L503.7,345.83 L504.2,346.11 L504.7,346.06 L505.2,346.16 L505.7,346.38 L506.2,346.42 L506.7,346.69 L507.2,346.91 L507.7,347.13 L508.2,346.99 L508.7,347.20 L509.2,347.41 L509.7,347.38 L510.2,347.49 L510.7,347.63 L511.2,347.94 L511.7,347.87 L512.2,348.15 L512.7,348.01 L513.2,348.19 L513.7,348.30 L514.2,348.39 L514.7,348.48 L515.2,348.69 L515.7,348.97 L516.2,349.03 L516.7,349.28 L517.2,349.12 L517.7,349.23 L518.2,349.32 L518.7,349.54 L519.2,349.51 L519.7,349.90 L520.2,349.86 L520.7,349.83 L521.2,350.13 L521.7,350.22 L522.2,350.25 L522.7,350.41 L523.2,350.68 L523.7,350.93 L524.2,350.89 L524.7,350.87 L525.2,350.91 L525.7,351.14 L526.2,351.23 L526.7,351.43 L527.2,351.56 L527.7,351.62 L528.2,351.70 L528.7,352.13 L529.2,352.26 L529.7,352.29 L530.2,352.50 L530.7,352.48 L531.2,352.68 L531.7,352.68 L532.2,352.90 L532.7,353.09 L533.2,353.16 L533.7,353.33 L534.2,353.38 L534.7,353.40 L535.2,353.71 L535.7,353.87 L536.2,353.73 L536.7,353.83 L537.2,353.90 L537.7,354.12 L538.2,354.22 L538.7,354.36 L539.2,354.47 L539.7,354.66 L540.2,354.72 L540.7,355.17 L541.2,354.94 L541.7,355.04 L542.2,355.53 L542.7,355.44 L543.2,355.72 L543.7,355.67 L544.2,355.67 L544.7,355.81 L545.2,356.29 L545.7,356.07 L546.2,356.35 L546.7,356.40 L547.2,356.68 L547.7,356.70 L548.2,356.99 L548.7,356.88 L549.2,357.14 L549.7,357.44 L550.2,357.38 L550.7,357.67 L551.2,357.43 L551.7,357.89 L552.2,357.81 L552.7,358.18 L553.2,358.18 L553.7,358.12 L554.2,358.45 L554.7,358.33 L555.2,358.59 L555.7,358.80 L556.2,358.69 L556.7,358.76 L557.2,359.19 L557.7,359.05 L558.2,359.39 L558.7,359.39 L559.2,359.39 L559.7,359.77 L560.2,359.69 L560.7,359.76 L561.2,360.13 L561.7,360.27 L562.2,360.12 L562.7,360.48 L563.2,360.25 L563.7,360.63 L564.2,360.65 L564.7,360.62 L565.2,360.78 L565.7,360.85 L566.2,361.10 L566.7,361.09 L567.2,361.20 L567.7,361.39 L568.2,361.36 L568.7,361.35 L569.2,361.61 L569.7,361.85 L570.2,361.69 L570.7,361.79 L571.2,362.14 L571.7,361.92 L572.2,362.33 L572.7,362.15 L573.2,362.19 L573.7,362.48 L574.2,362.63 L574.7,362.53 L575.2,362.53 L575.7,362.55 L576.2,362.57 L576.7,362.92 L577.2,363.01 L577.7,362.91 L578.2,363.03 L578.7,363.22 L579.2,363.25 L579.7,363.30 L580.2,363.46 L580.7,363.24 L581.2,363.59 L581.7,363.50 L582.2,363.43 L582.7,363.63 L583.2,363.52 L583.7,363.61 L584.2,363.81 L584.7,363.85 L585.2,363.80 L585.7,363.92 L586.2,363.98 L586.7,363.82 L587.2,363.72 L587.7,364.10 L588.2,363.77 L588.7,363.95 L589.2,363.83 L589.7,364.03 L590.2,364.14 L590.7,363.86 L591.2,364.06 L591.7,364.04 L592.2,364.16 L592.7,364.26 L593.2,364.18 L593.7,363.94 L594.2,364.06 L594.7,364.11 L595.2,364.00 L595.7,364.28 L596.2,364.08 L596.7,364.08 L597.2,364.02 L597.7,364.15 L598.2,364.26 L598.7,363.98 L599.2,364.13 L599.7,364.04 L600.2,363.94 L600.7,364.07 L601.2,364.16 L601.7,364.15 L602.2,364.29 L602.7,364.17 L603.2,364.25 L603.7,364.16 L604.2,364.14 L604.7,364.22 L605.2,364.19 L605.7,364.14" stroke="#00ffff"/>
<path d="M152.5,329.93 L155.8,326.87 L156.3,325.74 L156.8,324.04 L157.3,322.82 L157.8,321.64 L158.3,320.06 L158.8,318.79 L159.3,317.38 L159.8,316.15 L160.3,314.88 L160.8,313.24 L161.3,312.05 L161.8,310.91 L162.3,309.42 L162.8,308.34 L163.3,306.76 L163.8,305.57 L164.3,304.15 L164.8,303.16 L165.3,301.73 L165.8,300.60 L166.3,299.29 L166.8,297.86 L167.3,296.84 L167.8,295.27 L168.3,294.36 L168.8,293.05 L169.3,291.58 L169.8,290.46 L170.3,289.10 L170.8,287.89 L171.3,286.81 L171.8,285.34 L172.3,284.10 L172.8,282.60 L173.3,281.30 L173.8,280.16 L174.3,278.81 L174.8,277.68 L175.3,276.18 L175.8,274.94 L176.3,273.44 L176.8,272.19 L177.3,270.55 L177.8,269.01 L178.3,267.87 L178.8,266.39 L179.3,264.75 L179.8,263.29 L180.3,261.90 L180.8,260.58 L181.3,258.98 L181.8,257.36 L182.3,255.89 L182.8,254.26 L183.3,252.73 L183.8,251.08 L184.3,249.73 L184.8,247.89 L185.3,246.52 L185.8,244.77 L186.3,243.21 L186.8,241.88 L187.3,240.35 L187.8,238.63 L188.3,237.24 L188.8,235.57 L189.3,233.95 L189.8,232.42 L190.3,230.63 L190.8,229.13 L191.3,227.87 L191.8,226.20 L192.3,224.94 L192.8,223.17 L193.3,221.70 L193.8,220.21 L194.3,219.05 L194.8,217.47 L195.3,215.94 L195.8,214.47 L196.3,213.30 L196.8,211.71 L197.3,210.71 L197.8,209.11 L198.3,208.05 L198.8,206.81 L199.3,205.32 L199.8,204.20 L200.3,203.03 L200.8,201.75 L201.3,200.57 L201.8,199.62 L202.3,198.25 L202.8,197.29 L203.3,195.99 L203.8,195.17 L204.3,194.30 L204.8,193.07 L205.3,192.22 L205.8,191.09 L206.3,190.16 L206.8,189.24 L207.3,188.53 L207.8,187.41 L208.3,186.43 L208.8,185.77 L209.3,184.94 L209.8,184.12 L210.3,183.25 L210.8,182.38 L211.3,181.76 L211.8,180.80 L212.3,180.04 L212.8,179.26 L213.3,178.47 L213.8,177.80 L214.3,177.27 L214.8,176.45 L215.3,175.77 L215.8,174.99 L216.3,174.31 L216.8,173.81 L217.3,173.23 L217.8,172.25 L218.3,171.81 L218.8,171.26 L219.3,170.44 L219.8,169.93 L220.3,169.00 L220.8,168.60 L221.3,167.68 L221.8,167.09 L222.3,166.40 L222.8,165.72 L223.3,165.38 L223.8,164.58 L224.3,163.94 L224.8,163.45 L225.3,162.62 L225.8,162.22 L226.3,161.31 L226.8,160.99 L227.3,160.32 L227.8,159.54 L228.3,159.09 L228.8,158.43 L229.3,157.85 L229.8,156.97 L230.3,156.41 L230.8,155.76 L231.3,155.22 L231.8,154.67 L232.3,154.21 L232.8,153.42 L233.3,152.94 L233.8,152.26 L234.3,151.77 L234.8,151.07 L235.3,150.73 L235.8,150.23 L236.3,149.70 L236.8,149.30 L237.3,148.66 L237.8,148.07 L238.3,147.86 L238.8,147.17 L239.3,146.63 L239.8,146.31 L240.3,145.95 L240.8,145.35 L241.3,144.92 L241.8,144.46 L242.3,144.26 L242.8,143.80 L243.3,143.60 L243.8,142.99 L244.3,142.83 L244.8,142.32 L245.3,142.02 L245.8,141.68 L246.3,141.60 L246.8,141.36 L247.3,140.97 L247.8,140.87 L248.3,140.62 L248.8,140.41 L249.3,140.10 L249.8,139.81 L250.3,139.60 L250.8,139.57 L251.3,139.19 L251.8,139.00 L252.3,139.15 L252.8,138.98 L253.3,138.73 L253.8,138.68 L254.3,138.26 L254.8,138.44 L255.3,138.28 L255.8,138.08 L256.3,138.00 L256.8,138.10 L257.3,138.15 L257.8,138.05 L258.3,137.74 L258.8,137.94 L259.3,137.84 L259.8,137.80 L260.3,137.75 L260.8,137.98 L261.3,137.90 L261.8,137.97 L262.3,138.10 L262.8,138.32 L263.3,138.16 L263.8,138.36 L264.3,138.49 L264.8,138.64 L265.3,138.79 L265.8,138.67 L266.3,139.06 L266.8,138.89 L267.3,139.19 L267.8,139.47 L268.3,139.70 L268.8,139.66 L269.3,139.97 L269.8,140.18 L270.3,140.12 L270.8,140.61 L271.3,140.86 L271.8,140.80 L272.3,141.10 L272.8,141.38 L273.3,141.83 L273.8,142.09 L274.3,142.03 L274.8,142.38 L275.3,142.55 L275.8,142.80 L276.3,143.15 L276.8,143.73 L277.3,144.02 L277.8,144.05 L278.3,144.54 L278.8,144.87 L279.3,145.13 L279.8,145.63 L280.3,145.68 L280.8,146.11 L281.3,146.42 L281.8,147.11 L282.3,147.46 L282.8,147.71 L283.3,147.98 L283.8,148.70 L284.3,149.09 L284.8,149.56 L285.3,150.04 L285.8,150.38 L286.3,150.77 L286.8,151.36 L287.3,151.57 L287.8,152.34 L288.3,152.61 L288.8,153.16 L289.3,153.83 L289.8,153.98 L290.3,154.62 L290.8,155.32 L291.3,155.67 L291.8,156.38 L292.3,156.83 L292.8,157.15 L293.3,157.77 L293.8,158.23 L294.3,158.88 L294.8,159.41 L295.3,159.84 L295.8,160.19 L296.3,161.02 L296.8,161.25 L297.3,161.95 L297.8,162.53 L298.3,162.90 L298.8,163.24 L299.3,163.95 L299.8,164.28 L300.3,164.82 L300.8,165.35 L301.3,165.85 L301.8,166.52 L302.3,167.10 L302.8,167.50 L303.3,168.22 L303.8,168.39 L304.3,169.01 L304.8,169.53 L305.3,170.14 L305.8,170.72 L306.3,171.10 L306.8,171.69 L307.3,172.21 L307.8,172.74 L308.3,173.17 L308.8,174.00 L309.3,174.26 L309.8,174.98 L310.3,175.46 L310.8,176.11 L311.3,176.79 L311.8,177.41 L312.3,178.02 L312.8,178.51 L313.3,178.97 L313.8,179.45 L314.3,180.11 L314.8,181.02 L315.3,181.43 L315.8,182.04 L316.3,182.66 L316.8,183.28 L317.3,183.85 L317.8,184.52 L318.3,185.23 L318.8,185.87 L319.3,186.36 L319.8,187.03 L320.3,187.65 L320.8,188.48 L321.3,189.21 L321.8,189.96 L322.3,190.44 L322.8,191.19 L323.3,191.93 L323.8,192.50 L324.3,193.18 L324.8,193.70 L325.3,194.59 L325.8,195.29 L326.3,195.80 L326.8,196.63 L327.3,197.14 L327.8,197.78 L328.3,198.56 L328.8,199.34 L329.3,199.96 L329.8,200.60 L330.3,201.57 L330.8,202.16 L331.3,202.69 L331.8,203.30 L332.3,204.25 L332.8,205.02 L333.3,205.63 L333.8,206.31 L334.3,207.12 L334.8,207.70 L335.3,208.16 L335.8,208.99 L336.3,209.65 L336.8,210.41 L337.3,210.93 L337.8,211.80 L338.3,212.52 L338.8,213.02 L339.3,213.85 L339.8,214.41 L340.3,215.22 L340.8,215.81 L341.3,216.69 L341.8,217.16 L342.3,217.66 L342.8,218.34 L343.3,219.26 L343.8,219.68 L344.3,220.61 L344.8,221.17 L345.3,221.77 L345.8,222.45 L346.3,223.28 L346.8,223.82 L347.3,224.42 L347.8,225.09 L348.3,225.78 L348.8,226.38 L349.3,227.13 L349.8,227.65 L350.3,228.24 L350.8,228.82 L351.3,229.59 L351.8,230.11 L352.3,230.75 L352.8,231.38 L353.3,232.08 L353.8,232.93 L354.3,233.39 L354.8,233.92 L355.3,234.62 L355.8,235.23 L356.3,235.69 L356.8,236.60 L357.3,237.10 L357.8,237.90 L358.3,238.36 L358.8,238.81 L359.3,239.71 L359.8,239.97 L360.3,240.59 L360.8,241.17 L361.3,241.77 L361.8,242.36 L362.3,243.25 L362.8,243.54 L363.3,244.26 L363.8,244.70 L364.3,245.35 L364.8,245.84 L365.3,246.53 L365.8,247.07 L366.3,247.81 L366.8,248.49 L367.3,248.73 L367.8,249.41 L368.3,250.03 L368.8,250.74 L369.3,250.92 L369.8,251.72 L370.3,252.17 L370.8,252.76 L371.3,253.38 L371.8,253.93 L372.3,254.35 L372.8,255.06 L373.3,255.51 L373.8,255.90 L374.3,256.43 L374.8,256.96 L375.3,257.74 L375.8,258.29 L376.3,258.53 L376.8,259.23 L377.3,259.55 L377.8,260.06 L378.3,260.83 L378.8,261.30 L379.3,261.76 L379.8,262.28 L380.3,262.80 L380.8,263.28 L381.3,263.75 L381.8,264.51 L382.3,264.67 L382.8,265.38 L383.3,265.72 L383.8,266.29 L384.3,266.66 L384.8,267.20 L385.3,267.88 L385.8,268.14 L386.3,268.78 L386.8,269.35 L387.3,269.82 L387.8,270.12 L388.3,270.73 L388.8,271.17 L389.3,271.85 L389.8,272.35 L390.3,272.72 L390.8,273.27 L391.3,273.60 L391.8,274.30 L392.3,274.66 L392.8,275.20 L393.3,275.38 L393.8,276.06 L394.3,276.52 L394.8,276.99 L395.3,277.54 L395.8,277.73 L396.3,278.15 L396.8,278.79 L397.3,279.11 L397.8,279.86 L398.3,280.30 L398.8,280.58 L399.3,281.17 L399.8,281.54 L400.3,282.11 L400.8,282.42 L401.3,282.73 L401.8,283.49 L402.3,283.65 L402.8,284.04 L403.3,284.75 L403.8,285.14 L404.3,285.67 L404.8,285.86 L405.3,286.58 L405.8,286.99 L406.3,287.35 L406.8,287.54 L407.3,288.28 L407.8,288.57 L408.3,288.91 L408.8,289.42 L409.3,290.11 L409.8,290.29 L410.3,290.79 L410.8,291.40 L411.3,291.76 L411.8,292.06 L412.3,292.48 L412.8,292.99 L413.3,293.42 L413.8,293.93 L414.3,294.33 L414.8,294.58 L415.3,295.29 L415.8,295.69 L416.3,296.00 L416.8,296.29 L417.3,296.84 L417.8,297.44 L418.3,297.63 L418.8,298.08 L419.3,298.66 L419.8,299.11 L420.3,299.57 L420.8,299.82 L421.3,300.39 L421.8,300.61 L422.3,300.96 L422.8,301.64 L423.3,301.89 L423.8,302.57 L424.3,302.77 L424.8,303.19 L425.3,303.82 L425.8,303.91 L426.3,304.70 L426.8,304.86 L427.3,305.16 L427.8,305.70 L428.3,306.02 L428.8,306.49 L429.3,307.00 L429.8,307.43 L430.3,307.69 L430.8,308.42 L431.3,308.48 L431.8,308.87 L432.3,309.34 L432.8,309.63 L433.3,310.38 L433.8,310.49 L434.3,310.83 L434.8,311.46 L435.3,311.74 L435.8,312.04 L436.3,312.57 L436.8,312.84 L437.3,313.18 L437.8,313.74 L438.3,314.01 L438.8,314.43 L439.3,314.86 L439.8,315.44 L440.3,315.65 L440.8,316.01 L441.3,316.27 L441.8,316.69 L442.3,316.98 L442.8,317.57 L443.3,317.96 L443.8,318.28 L444.3,318.46 L444.8,318.93 L445.3,319.11 L445.8,319.65 L446.3,320.06 L446.8,320.09 L447.3,320.39 L447.8,321.09 L448.3,321.26 L448.8,321.68 L449.3,322.03 L449.8,322.34 L450.3,322.39 L450.8,322.77 L451.3,323.14 L451.8,323.67 L452.3,323.93 L452.8,324.04 L453.3,324.32 L453.8,324.90 L454.3,325.24 L454.8,325.21 L455.3,325.64 L455.8,325.86 L456.3,326.29 L456.8,326.43 L457.3,326.88 L457.8,327.09 L458.3,327.35 L458.8,328.01 L459.3,327.98 L459.8,328.58 L460.3,328.79 L460.8,328.93 L461.3,329.23 L461.8,329.52 L462.3,329.77 L462.8,330.17 L463.3,330.28 L463.8,330.75 L464.3,330.99 L464.8,331.15 L465.3,331.73 L465.8,331.75 L466.3,332.16 L466.8,332.47 L467.3,332.75 L467.8,332.97 L468.3,333.19 L468.8,333.45 L469.3,333.85 L469.8,333.84 L470.3,334.31 L470.8,334.69 L471.3,334.80 L471.8,335.08 L472.3,335.43 L472.8,335.73 L473.3,335.81 L473.8,336.18 L474.3,336.52 L474.8,336.70 L475.3,336.79 L475.8,337.36 L476.3,337.35 L476.8,337.72 L477.3,337.74 L477.8,338.23 L478.3,338.43 L478.8,338.81 L479.3,338.79 L479.8,338.94 L480.3,339.30 L480.8,339.58 L481.3,339.92 L481.8,340.00 L482.3,340.41 L482.8,340.67 L483.3,340.57 L483.8,341.18 L484.3,341.03 L484.8,341.33 L485.3,341.47 L485.8,341.98 L486.3,342.25 L486.8,342.19 L487.3,342.51 L487.8,342.88 L488.3,343.00 L488.8,343.00 L489.3,343.27 L489.8,343.65 L490.3,343.83 L490.8,343.86 L491.3,344.08 L491.8,344.06 L492.3,344.38 L492.8,344.72 L493.3,344.59 L493.8,344.82 L494.3,345.14 L494.8,345.09 L495.3,345.31 L495.8,345.70 L496.3,345.63 L496.8,345.91 L497.3,346.24 L497.8,346.23 L498.3,346.44 L498.8,346.34 L499.3,346.67 L499.8,346.81 L500.3,346.93 L500.8,347.07 L501.3,347.04 L501.8,347.40 L502.3,347.42 L502.8,347.70 L503.3,347.65 L503.8,348.04 L504.3,347.99 L504.8,348.27 L505.3,348.27 L505.8,348.30 L506.3,348.49 L506.8,348.56 L507.3,348.78 L507.8,348.84 L508.3,348.92 L508.8,349.34 L509.3,349.45 L509.8,349.39 L510.3,349.54 L510.8,349.77 L511.3,349.82 L511.8,349.86 L512.3,350.02 L512.8,350.26 L513.3,350.10 L513.8,350.36 L514.3,350.36 L514.8,350.69 L515.3,350.60 L515.8,350.90 L516.3,350.91 L516.8,351.13 L517.3,351.52 L517.8,351.37 L518.3,351.56 L518.8,351.88 L519.3,351.78 L519.8,351.94 L520.3,352.16 L520.8,352.39 L521.3,352.38 L521.8,352.56 L522.3,352.64 L522.8,352.88 L523.3,353.09 L523.8,353.33 L524.3,353.38 L524.8,353.64 L525.3,353.91 L525.8,353.88 L526.3,354.22 L526.8,354.41 L527.3,354.65 L527.8,354.75 L528.3,354.89 L528.8,355.06 L529.3,355.14 L529.8,355.52 L530.3,355.42 L530.8,355.67 L531.3,355.76 L531.8,356.09 L532.3,356.43 L532.8,356.51 L533.3,356.45 L533.8,356.98 L534.3,356.83 L534.8,357.07 L535.3,357.37 L535.8,357.37 L536.3,357.87 L536.8,358.01 L537.3,358.31 L537.8,358.37 L538.3,358.46 L538.8,358.57 L539.3,358.79 L539.8,359.10 L540.3,359.36 L540.8,359.29 L541.3,359.61 L541.8,359.84 L542.3,359.85 L542.8,360.23 L543.3,360.23 L543.8,360.44 L544.3,360.56 L544.8,361.04 L545.3,360.85 L545.8,361.13 L546.3,361.43 L546.8,361.56 L547.3,361.61 L547.8,361.90 L548.3,362.05 L548.8,362.25 L549.3,362.37 L549.8,362.42 L550.3,362.80 L550.8,362.81 L551.3,363.16 L551.8,363.12 L552.3,363.49 L552.8,363.39 L553.3,363.70 L553.8,363.98 L554.3,363.86 L554.8,364.20 L555.3,364.24 L555.8,364.16 L556.3,364.53 L556.8,364.58 L557.3,364.59 L557.8,365.02 L558.3,365.11 L558.8,365.33 L559.3,365.13 L559.8,365.35 L560.3,365.56 L560.8,365.58 L561.3,365.61 L561.8,365.83 L562.3,365.97 L562.8,366.10 L563.3,366.19 L563.8,366.29 L564.3,366.43 L564.8,366.61 L565.3,366.54 L565.8,366.74 L566.3,366.98 L566.8,367.05 L567.3,367.15 L567.8,367.30 L568.3,367.22 L568.8,367.45 L569.3,367.52 L569.8,367.43 L570.3,367.68 L570.8,367.66 L571.3,367.77 L571.8,367.69 L572.3,368.00 L572.8,367.91 L573.3,368.03 L573.8,368.14 L574.3,368.31 L574.8,368.47 L575.3,368.49 L575.8,368.48 L576.3,368.39 L576.8,368.56 L577.3,368.66 L577.8,368.61 L578.3,368.89 L578.8,368.71 L579.3,368.85 L579.8,369.09 L580.3,368.84 L580.8,368.97 L581.3,369.22 L581.8,369.28 L582.3,369.13 L582.8,369.28 L583.3,369.27 L583.8,369.12 L584.3,369.49 L584.8,369.52 L585.3,369.57 L585.8,369.33 L586.3,369.50 L586.8,369.65 L587.3,369.70 L587.8,369.73 L588.3,369.44 L588.8,369.72 L589.3,369.61 L589.8,369.56 L590.3,369.73 L590.8,369.59 L591.3,369.70 L591.8,369.78 L592.3,369.79 L592.8,369.78 L593.3,369.87 L593.8,369.90 L594.3,369.77 L594.8,369.83 L595.3,369.88 L595.8,369.78 L596.3,369.99 L596.8,370.16 L597.3,369.91 L597.8,370.18 L598.3,369.99 L598.8,370.04 L599.3,370.18 L599.8,370.06 L600.3,370.10 L600.8,370.28 L601.3,369.95 L601.8,370.11 L602.3,370.06 L602.8,370.15 L603.3,370.19 L603.8,370.25 L604.3,370.10 L604.8,370.37 L605.3,370.39 L605.8,370.33" stroke="#ff00ff"/>
<path d="M152.5,331.04 L156.5,327.05 L157.0,325.40 L157.5,324.28 L158.0,322.86 L158.5,321.46 L159.0,320.26 L159.5,318.80 L160.0,317.68 L160.5,316.04 L161.0,314.78 L161.5,313.56 L162.0,312.13 L162.5,310.83 L163.0,309.78 L163.5,308.36 L164.0,307.06 L164.5,306.05 L165.0,304.89 L165.5,303.58 L166.0,302.38 L166.5,301.06 L167.0,300.13 L167.5,298.92 L168.0,297.77 L168.5,296.51 L169.0,295.25 L169.5,294.22 L170.0,293.06 L170.5,292.05 L171.0,290.75 L171.5,289.67 L172.0,288.71 L172.5,287.45 L173.0,286.36 L173.5,285.41 L174.0,284.27 L174.5,283.32 L175.0,282.27 L175.5,280.99 L176.0,279.90 L176.5,278.68 L177.0,277.60 L177.5,276.35 L178.0,275.38 L178.5,274.05 L179.0,272.74 L179.5,271.60 L180.0,270.55 L180.5,268.98 L181.0,268.12 L181.5,266.76 L182.0,265.39 L182.5,264.01 L183.0,262.70 L183.5,261.43 L184.0,260.27 L184.5,258.90 L185.0,257.51 L185.5,256.12 L186.0,254.78 L186.5,253.30 L187.0,252.02 L187.5,250.77 L188.0,249.11 L188.5,248.09 L189.0,246.32 L189.5,245.09 L190.0,243.62 L190.5,242.30 L191.0,240.78 L191.5,239.50 L192.0,237.86 L192.5,236.78 L193.0,235.38 L193.5,233.96 L194.0,232.49 L194.5,230.88 L195.0,229.69 L195.5,228.31 L196.0,227.04 L196.5,225.57 L197.0,224.38 L197.5,222.88 L198.0,221.49 L198.5,220.28 L199.0,219.37 L199.5,217.89 L200.0,216.63 L200.5,215.48 L201.0,214.67 L201.5,213.51 L202.0,212.29 L202.5,211.10 L203.0,210.38 L203.5,209.07 L204.0,208.41 L204.5,207.34 L205.0,206.39 L205.5,205.36 L206.0,204.74 L206.5,203.96 L207.0,202.95 L207.5,202.29 L208.0,201.20 L208.5,200.45 L209.0,199.70 L209.5,198.82 L210.0,198.37 L210.5,197.41 L211.0,196.45 L211.5,195.94 L212.0,195.00 L212.5,194.33 L213.0,193.76 L213.5,192.83 L214.0,192.05 L214.5,191.55 L215.0,190.57 L215.5,190.11 L216.0,189.01 L216.5,188.29 L217.0,187.94 L217.5,187.06 L218.0,186.32 L218.5,185.70 L219.0,184.79 L219.5,184.31 L220.0,183.37 L220.5,182.91 L221.0,182.07 L221.5,181.54 L222.0,180.88 L222.5,180.14 L223.0,179.21 L223.5,178.67 L224.0,178.19 L224.5,177.34 L225.0,176.60 L225.5,176.07 L226.0,175.30 L226.5,174.65 L227.0,174.24 L227.5,173.40 L228.0,172.96 L228.5,172.34 L229.0,171.95 L229.5,171.21 L230.0,170.69 L230.5,170.22 L231.0,169.50 L231.5,169.10 L232.0,168.48 L232.5,168.07 L233.0,167.75 L233.5,167.33 L234.0,166.88 L234.5,166.38 L235.0,165.65 L235.5,165.40 L236.0,164.97 L236.5,164.59 L237.0,164.26 L237.5,163.99 L238.0,163.37 L238.5,163.28 L239.0,162.74 L239.5,162.72 L240.0,162.50 L240.5,162.11 L241.0,161.88 L241.5,161.70 L242.0,161.43 L242.5,160.94 L243.0,160.85 L243.5,160.58 L244.0,160.39 L244.5,160.16 L245.0,159.81 L245.5,159.76 L246.0,159.47 L246.5,159.66 L247.0,159.47 L247.5,159.04 L248.0,159.13 L248.5,159.10 L249.0,158.87 L249.5,158.76 L250.0,158.58 L250.5,158.42 L251.0,158.29 L251.5,158.08 L252.0,158.06 L252.5,157.92 L253.0,157.91 L253.5,157.80 L254.0,157.69 L254.5,157.88 L255.0,157.49 L255.5,157.49 L256.0,157.59 L256.5,157.35 L257.0,157.17 L257.5,157.33 L258.0,157.20 L258.5,157.35 L259.0,157.14 L259.5,157.12 L260.0,157.18 L260.5,157.22 L261.0,157.03 L261.5,157.02 L262.0,157.32 L262.5,157.14 L263.0,157.45 L263.5,157.45 L264.0,157.39 L264.5,157.27 L265.0,157.42 L265.5,157.40 L266.0,157.72 L266.5,157.80 L267.0,157.98 L267.5,157.95 L268.0,158.29 L268.5,158.41 L269.0,158.48 L269.5,158.56 L270.0,158.89 L270.5,158.89 L271.0,158.87 L271.5,159.41 L272.0,159.29 L272.5,159.61 L273.0,159.83 L273.5,160.26 L274.0,160.40 L274.5,160.62 L275.0,161.06 L275.5,161.29 L276.0,161.47 L276.5,161.68 L277.0,161.89 L277.5,162.46 L278.0,162.71 L278.5,163.12 L279.0,163.25 L279.5,163.82 L280.0,163.82 L280.5,164.27 L281.0,164.91 L281.5,165.22 L282.0,165.38 L282.5,165.85 L283.0,166.21 L283.5,166.79 L284.0,167.25 L284.5,167.65 L285.0,168.01 L285.5,168.33 L286.0,168.90 L286.5,169.61 L287.0,170.01 L287.5,170.44 L288.0,170.93 L288.5,171.35 L289.0,171.71 L289.5,172.29 L290.0,172.85 L290.5,173.25 L291.0,173.91 L291.5,174.43 L292.0,175.00 L292.5,175.54 L293.0,176.23 L293.5,176.67 L294.0,177.37 L294.5,177.78 L295.0,178.24 L295.5,178.85 L296.0,179.50 L296.5,179.84 L297.0,180.63 L297.5,181.29 L298.0,181.77 L298.5,182.32 L299.0,182.94 L299.5,183.19 L300.0,183.98 L300.5,184.48 L301.0,184.98 L301.5,185.64 L302.0,186.08 L302.5,186.93 L303.0,187.27 L303.5,187.97 L304.0,188.44 L304.5,189.39 L305.0,189.68 L305.5,190.40 L306.0,190.78 L306.5,191.49 L307.0,192.13 L307.5,192.57 L308.0,193.52 L308.5,194.03 L309.0,194.39 L309.5,195.16 L310.0,195.64 L310.5,196.37 L311.0,197.12 L311.5,197.50 L312.0,198.36 L312.5,198.84 L313.0,199.51 L313.5,200.27 L314.0,200.57 L314.5,201.41 L315.0,202.11 L315.5,202.56 L316.0,203.08 L316.5,203.92 L317.0,204.42 L317.5,204.87 L318.0,205.85 L318.5,206.17 L319.0,207.04 L319.5,207.44 L320.0,208.18 L320.5,208.83 L321.0,209.36 L321.5,210.11 L322.0,210.91 L322.5,211.27 L323.0,212.01 L323.5,212.78 L324.0,213.09 L324.5,214.01 L325.0,214.66 L325.5,215.17 L326.0,215.56 L326.5,216.28 L327.0,216.89 L327.5,217.63 L328.0,218.13 L328.5,219.05 L329.0,219.69 L329.5,219.96 L330.0,220.88 L330.5,221.34 L331.0,222.00 L331.5,222.59 L332.0,223.18 L332.5,223.85 L333.0,224.50 L333.5,225.01 L334.0,225.59 L334.5,226.26 L335.0,226.79 L335.5,227.58 L336.0,228.15 L336.5,228.83 L337.0,229.40 L337.5,229.99 L338.0,230.43 L338.5,231.11 L339.0,231.58 L339.5,232.45 L340.0,233.09 L340.5,233.58 L341.0,234.10 L341.5,234.61 L342.0,235.28 L342.5,235.96 L343.0,236.43 L343.5,237.04 L344.0,237.42 L344.5,238.05 L345.0,238.75 L345.5,239.45 L346.0,239.79 L346.5,240.44 L347.0,240.94 L347.5,241.42 L348.0,242.05 L348.5,242.77 L349.0,243.20 L349.5,243.79 L350.0,244.38 L350.5,244.97 L351.0,245.53 L351.5,246.11 L352.0,246.74 L352.5,247.19 L353.0,247.71 L353.5,248.39 L354.0,248.75 L354.5,249.33 L355.0,249.69 L355.5,250.45 L356.0,250.97 L356.5,251.65 L357.0,251.84 L357.5,252.45 L358.0,253.19 L358.5,253.74 L359.0,254.22 L359.5,254.58 L360.0,255.39 L360.5,255.77 L361.0,256.41 L361.5,256.93 L362.0,257.39 L362.5,257.86 L363.0,258.44 L363.5,258.75 L364.0,259.52 L364.5,260.12 L365.0,260.51 L365.5,261.05 L366.0,261.60 L366.5,262.09 L367.0,262.40 L367.5,263.19 L368.0,263.69 L368.5,263.98 L369.0,264.62 L369.5,264.95 L370.0,265.52 L370.5,266.08 L371.0,266.64 L371.5,267.26 L372.0,267.83 L372.5,268.26 L373.0,268.59 L373.5,269.10 L374.0,269.51 L374.5,270.19 L375.0,270.62 L375.5,271.19 L376.0,271.63 L376.5,272.22 L377.0,272.76 L377.5,273.11 L378.0,273.64 L378.5,274.20 L379.0,274.50 L379.5,275.16 L380.0,275.43 L380.5,276.00 L381.0,276.54 L381.5,277.04 L382.0,277.48 L382.5,278.15 L383.0,278.39 L383.5,279.08 L384.0,279.52 L384.5,279.78 L385.0,280.28 L385.5,280.93 L386.0,281.34 L386.5,281.82 L387.0,282.38 L387.5,282.56 L388.0,283.03 L388.5,283.82 L389.0,284.00 L389.5,284.58 L390.0,284.90 L390.5,285.29 L391.0,286.02 L391.5,286.44 L392.0,286.71 L392.5,287.07 L393.0,287.79 L393.5,288.03 L394.0,288.67 L394.5,288.90 L395.0,289.63 L395.5,289.73 L396.0,290.24 L396.5,290.63 L397.0,291.22 L397.5,291.71 L398.0,291.87 L398.5,292.46 L399.0,293.04 L399.5,293.25 L400.0,293.80 L400.5,294.21 L401.0,294.46 L401.5,295.11 L402.0,295.49 L402.5,295.76 L403.0,296.07 L403.5,296.44 L404.0,297.14 L404.5,297.43 L405.0,297.81 L405.5,298.17 L406.0,298.40 L406.5,298.87 L407.0,299.21 L407.5,299.94 L408.0,300.34 L408.5,300.52 L409.0,300.99 L409.5,301.37 L410.0,301.90 L410.5,302.29 L411.0,302.33 L411.5,303.03 L412.0,303.27 L412.5,303.54 L413.0,304.09 L413.5,304.16 L414.0,304.84 L414.5,305.23 L415.0,305.28 L415.5,305.71 L416.0,306.36 L416.5,306.70 L417.0,306.93 L417.5,307.42 L418.0,307.43 L418.5,307.91 L419.0,308.44 L419.5,308.47 L420.0,308.93 L420.5,309.20 L421.0,309.72 L421.5,310.23 L422.0,310.37 L422.5,310.85 L423.0,310.88 L423.5,311.36 L424.0,311.92 L424.5,312.25 L425.0,312.30 L425.5,312.60 L426.0,312.98 L426.5,313.58 L427.0,313.59 L427.5,313.97 L428.0,314.33 L428.5,314.71 L429.0,315.17 L429.5,315.40 L430.0,315.84 L430.5,316.04 L431.0,316.50 L431.5,316.64 L432.0,317.07 L432.5,317.30 L433.0,317.65 L433.5,317.88 L434.0,318.48 L434.5,318.60 L435.0,319.16 L435.5,319.37 L436.0,319.48 L436.5,320.12 L437.0,320.43 L437.5,320.66 L438.0,320.85 L438.5,321.41 L439.0,321.52 L439.5,322.09 L440.0,322.41 L440.5,322.42 L441.0,322.86 L441.5,323.44 L442.0,323.70 L442.5,323.81 L443.0,324.21 L443.5,324.74 L444.0,324.72 L444.5,325.11 L445.0,325.66 L445.5,325.87 L446.0,326.31 L446.5,326.55 L447.0,326.92 L447.5,327.32 L448.0,327.69 L448.5,327.77 L449.0,328.29 L449.5,328.79 L450.0,329.11 L450.5,329.10 L451.0,329.60 L451.5,329.81 L452.0,330.45 L452.5,330.50 L453.0,331.08 L453.5,331.21 L454.0,331.74 L454.5,331.74 L455.0,332.24 L455.5,332.59 L456.0,332.84 L456.5,333.11 L457.0,333.65 L457.5,333.67 L458.0,334.29 L458.5,334.62 L459.0,334.91 L459.5,335.15 L460.0,335.36 L460.5,335.70 L461.0,335.91 L461.5,336.22 L462.0,336.63 L462.5,336.74 L463.0,337.01 L463.5,337.57 L464.0,337.98 L464.5,338.17 L465.0,338.20 L465.5,338.50 L466.0,338.76 L466.5,339.25 L467.0,339.58 L467.5,339.74 L468.0,339.84 L468.5,340.46 L469.0,340.66 L469.5,340.68 L470.0,341.21 L470.5,341.48 L471.0,341.48 L471.5,341.83 L472.0,341.85 L472.5,342.23 L473.0,342.41 L473.5,342.94 L474.0,343.09 L474.5,343.12 L475.0,343.55 L475.5,343.52 L476.0,343.72 L476.5,344.08 L477.0,344.46 L477.5,344.71 L478.0,344.67 L478.5,344.88 L479.0,345.15 L479.5,345.33 L480.0,345.65 L480.5,345.77 L481.0,345.87 L481.5,346.08 L482.0,346.39 L482.5,346.39 L483.0,346.61 L483.5,346.81 L484.0,347.00 L484.5,347.12 L485.0,347.50 L485.5,347.72 L486.0,347.76 L486.5,348.20 L487.0,348.12 L487.5,348.37 L488.0,348.60 L488.5,348.77 L489.0,349.06 L489.5,348.87 L490.0,349.06 L490.5,349.22 L491.0,349.40 L491.5,349.67 L492.0,349.90 L492.5,350.15 L493.0,350.35 L493.5,350.40 L494.0,350.53 L494.5,350.66 L495.0,350.72 L495.5,350.88 L496.0,351.09 L496.5,351.15 L497.0,351.50 L497.5,351.51 L498.0,351.94 L498.5,351.84 L499.0,352.16 L499.5,352.11 L500.0,352.25 L500.5,352.48 L501.0,352.67 L501.5,352.99 L502.0,352.81 L502.5,352.90 L503.0,353.07 L503.5,353.52 L504.0,353.35 L504.5,353.84 L505.0,353.68 L505.5,354.11 L506.0,354.02 L506.5,354.39 L507.0,354.35 L507.5,354.45 L508.0,354.44 L508.5,354.74 L509.0,354.90 L509.5,355.22 L510.0,355.19 L510.5,355.46 L511.0,355.43 L511.5,355.64 L512.0,355.77 L512.5,355.71 L513.0,356.02 L513.5,356.21 L514.0,356.22 L514.5,356.26 L515.0,356.38 L515.5,356.61 L516.0,356.96 L516.5,356.89 L517.0,356.93 L517.5,357.16 L518.0,357.39 L518.5,357.56 L519.0,357.40 L519.5,357.66 L520.0,357.63 L520.5,357.86 L521.0,358.04 L521.5,358.06 L522.0,358.16 L522.5,358.56 L523.0,358.45 L523.5,358.79 L524.0,358.67 L524.5,358.81 L525.0,358.94 L525.5,359.32 L526.0,359.15 L526.5,359.33 L527.0,359.61 L527.5,359.66 L528.0,359.96 L528.5,359.85 L529.0,359.88 L529.5,360.26 L530.0,360.26 L530.5,360.43 L531.0,360.42 L531.5,360.84 L532.0,360.90 L532.5,360.81 L533.0,360.98 L533.5,361.00 L534.0,361.46 L534.5,361.25 L535.0,361.48 L535.5,361.52 L536.0,361.75 L536.5,361.92 L537.0,361.90 L537.5,362.15 L538.0,362.30 L538.5,362.25 L539.0,362.66 L539.5,362.55 L540.0,362.74 L540.5,363.01 L541.0,362.87 L541.5,362.87 L542.0,363.08 L542.5,363.14 L543.0,363.25 L543.5,363.70 L544.0,363.71 L544.5,363.64 L545.0,363.84 L545.5,363.96 L546.0,363.97 L546.5,364.15 L547.0,364.16 L547.5,364.64 L548.0,364.57 L548.5,364.72 L549.0,364.96 L549.5,364.97 L550.0,365.04 L550.5,365.26 L551.0,365.30 L551.5,365.34 L552.0,365.62 L552.5,365.47 L553.0,365.78 L553.5,365.73 L554.0,365.99 L554.5,365.97 L555.0,366.22 L555.5,366.27 L556.0,366.52 L556.5,366.48 L557.0,366.51 L557.5,366.82 L558.0,366.86 L558.5,367.10 L559.0,367.17 L559.5,367.04 L560.0,367.38 L560.5,367.26 L561.0,367.73 L561.5,367.70 L562.0,367.81 L562.5,367.83 L563.0,367.82 L563.5,368.03 L564.0,368.13 L564.5,368.19 L565.0,368.61 L565.5,368.43 L566.0,368.63 L566.5,368.62 L567.0,368.97 L567.5,368.77 L568.0,369.22 L568.5,369.00 L569.0,369.13 L569.5,369.30 L570.0,369.34 L570.5,369.35 L571.0,369.72 L571.5,369.52 L572.0,369.70 L572.5,369.68 L573.0,369.79 L573.5,370.00 L574.0,370.16 L574.5,370.03 L575.0,370.29 L575.5,370.33 L576.0,370.66 L576.5,370.74 L577.0,370.67 L577.5,370.79 L578.0,370.59 L578.5,370.87 L579.0,371.08 L579.5,371.14 L580.0,371.15 L580.5,371.24 L581.0,371.37 L581.5,371.30 L582.0,371.19 L582.5,371.45 L583.0,371.33 L583.5,371.65 L584.0,371.43 L584.5,371.75 L585.0,371.71 L585.5,371.76 L586.0,371.63 L586.5,371.78 L587.0,371.85 L587.5,372.08 L588.0,372.00 L588.5,372.06 L589.0,372.19 L589.5,372.00 L590.0,372.12 L590.5,372.12 L591.0,372.10 L591.5,372.09 L592.0,372.13 L592.5,372.05 L593.0,372.42 L593.5,372.16 L594.0,372.43 L594.5,372.25 L595.0,372.26 L595.5,372.17 L596.0,372.37 L596.5,372.27 L597.0,372.36 L597.5,372.53 L598.0,372.62 L598.5,372.28 L599.0,372.56 L599.5,372.64 L600.0,372.64 L600.5,372.64 L601.0,372.63 L601.5,372.53 L602.0,372.37 L602.5,372.44 L603.0,372.69 L603.5,372.54 L604.0,372.58 L604.5,372.68 L605.0,372.57 L605.5,372.52 L606.0,372.54" stroke="#ffff00"/>
<path d="M152.5,330.17 L155.8,345.03 L156.3,344.45 L156.8,343.73 L157.3,342.90 L157.8,342.22 L158.3,341.56 L158.8,340.86 L159.3,340.17 L159.8,339.30 L160.3,338.67 L160.8,338.06 L161.3,337.14 L161.8,336.46 L162.3,335.84 L162.8,335.03 L163.3,334.23 L163.8,333.26 L164.3,332.70 L164.8,331.93 L165.3,330.87 L165.8,330.09 L166.3,329.55 L166.8,328.54 L167.3,327.84 L167.8,326.69 L168.3,326.17 L168.8,325.18 L169.3,324.15 L169.8,323.45 L170.3,322.48 L170.8,321.46 L171.3,320.84 L171.8,319.53 L172.3,318.71 L172.8,317.97 L173.3,317.03 L173.8,315.78 L174.3,315.11 L174.8,313.77 L175.3,312.87 L175.8,312.03 L176.3,310.75 L176.8,309.79 L177.3,308.76 L177.8,307.74 L178.3,306.62 L178.8,305.48 L179.3,304.47 L179.8,303.35 L180.3,302.31 L180.8,300.96 L181.3,299.78 L181.8,298.91 L182.3,297.68 L182.8,296.53 L183.3,295.31 L183.8,293.87 L184.3,292.70 L184.8,291.79 L185.3,290.42 L185.8,289.13 L186.3,288.06 L186.8,286.63 L187.3,285.70 L187.8,284.36 L188.3,282.96 L188.8,281.94 L189.3,280.63 L189.8,279.33 L190.3,278.07 L190.8,276.88 L191.3,275.83 L191.8,274.61 L192.3,273.64 L192.8,272.24 L193.3,271.19 L193.8,270.15 L194.3,268.99 L194.8,267.82 L195.3,266.81 L195.8,265.62 L196.3,264.61 L196.8,263.49 L197.3,262.25 L197.8,261.37 L198.3,260.41 L198.8,259.38 L199.3,258.29 L199.8,257.16 L200.3,256.43 L200.8,255.59 L201.3,254.70 L201.8,253.69 L202.3,252.76 L202.8,251.78 L203.3,250.91 L203.8,250.32 L204.3,249.17 L204.8,248.52 L205.3,247.66 L205.8,246.91 L206.3,246.36 L206.8,245.22 L207.3,244.73 L207.8,243.97 L208.3,242.96 L208.8,242.28 L209.3,241.59 L209.8,240.82 L210.3,240.19 L210.8,239.65 L211.3,239.02 L211.8,238.16 L212.3,237.42 L212.8,236.79 L213.3,235.99 L213.8,235.41 L214.3,234.64 L214.8,234.04 L215.3,233.35 L215.8,232.73 L216.3,232.07 L216.8,231.42 L217.3,230.68 L217.8,229.99 L218.3,229.35 L218.8,228.74 L219.3,227.89 L219.8,227.46 L220.3,226.80 L220.8,225.96 L221.3,225.57 L221.8,224.81 L222.3,224.22 L222.8,223.39 L223.3,222.94 L223.8,222.00 L224.3,221.45 L224.8,220.79 L225.3,220.04 L225.8,219.46 L226.3,219.00 L226.8,217.98 L227.3,217.63 L227.8,216.76 L228.3,216.28 L228.8,215.71 L229.3,215.02 L229.8,214.52 L230.3,213.90 L230.8,212.98 L231.3,212.47 L231.8,212.07 L232.3,211.48 L232.8,210.82 L233.3,210.07 L233.8,209.56 L234.3,209.06 L234.8,208.59 L235.3,208.14 L235.8,207.42 L236.3,207.06 L236.8,206.55 L237.3,205.94 L237.8,205.65 L238.3,204.91 L238.8,204.66 L239.3,203.98 L239.8,203.74 L240.3,203.17 L240.8,202.69 L241.3,202.47 L241.8,201.87 L242.3,201.63 L242.8,201.12 L243.3,200.56 L243.8,200.28 L244.3,199.89 L244.8,199.50 L245.3,199.11 L245.8,199.01 L246.3,198.65 L246.8,198.42 L247.3,197.99 L247.8,197.56 L248.3,197.61 L248.8,197.30 L249.3,197.07 L249.8,196.66 L250.3,196.35 L250.8,196.39 L251.3,195.83 L251.8,195.80 L252.3,195.43 L252.8,195.31 L253.3,195.37 L253.8,195.18 L254.3,194.86 L254.8,194.54 L255.3,194.56 L255.8,194.58 L256.3,194.43 L256.8,193.99 L257.3,193.96 L257.8,193.94 L258.3,193.68 L258.8,193.72 L259.3,193.72 L259.8,193.53 L260.3,193.66 L260.8,193.69 L261.3,193.37 L261.8,193.43 L262.3,193.48 L262.8,193.24 L263.3,193.37 L263.8,193.38 L264.3,193.49 L264.8,193.40 L265.3,193.54 L265.8,193.50 L266.3,193.30 L266.8,193.60 L267.3,193.54 L267.8,193.62 L268.3,193.66 L268.8,193.77 L269.3,193.79 L269.8,193.88 L270.3,194.15 L270.8,193.99 L271.3,194.16 L271.8,194.28 L272.3,194.26 L272.8,194.43 L273.3,194.72 L273.8,195.07 L274.3,195.05 L274.8,195.09 L275.3,195.17 L275.8,195.44 L276.3,195.88 L276.8,195.81 L277.3,196.22 L277.8,196.32 L278.3,196.31 L278.8,196.85 L279.3,196.88 L279.8,196.93 L280.3,197.50 L280.8,197.62 L281.3,197.64 L281.8,198.01 L282.3,198.26 L282.8,198.43 L283.3,198.85 L283.8,199.20 L284.3,199.39 L284.8,199.47 L285.3,200.06 L285.8,200.19 L286.3,200.29 L286.8,200.85 L287.3,201.18 L287.8,201.43 L288.3,201.79 L288.8,201.91 L289.3,202.03 L289.8,202.67 L290.3,202.89 L290.8,203.34 L291.3,203.65 L291.8,203.84 L292.3,203.94 L292.8,204.59 L293.3,204.59 L293.8,205.06 L294.3,205.40 L294.8,205.63 L295.3,206.03 L295.8,206.53 L296.3,206.65 L296.8,207.21 L297.3,207.37 L297.8,207.69 L298.3,208.36 L298.8,208.45 L299.3,208.71 L299.8,209.32 L300.3,209.64 L300.8,210.03 L301.3,210.56 L301.8,210.66 L302.3,211.15 L302.8,211.63 L303.3,211.77 L303.8,212.32 L304.3,212.58 L304.8,213.23 L305.3,213.27 L305.8,213.73 L306.3,214.35 L306.8,214.49 L307.3,215.13 L307.8,215.42 L308.3,215.96 L308.8,216.38 L309.3,216.82 L309.8,217.34 L310.3,217.47 L310.8,217.86 L311.3,218.40 L311.8,218.74 L312.3,219.32 L312.8,220.01 L313.3,220.16 L313.8,220.69 L314.3,221.01 L314.8,221.75 L315.3,222.10 L315.8,222.62 L316.3,223.26 L316.8,223.48 L317.3,224.10 L317.8,224.43 L318.3,225.20 L318.8,225.71 L319.3,225.96 L319.8,226.68 L320.3,226.88 L320.8,227.33 L321.3,227.97 L321.8,228.44 L322.3,228.91 L322.8,229.46 L323.3,229.94 L323.8,230.50 L324.3,231.16 L324.8,231.49 L325.3,232.14 L325.8,232.77 L326.3,233.16 L326.8,233.52 L327.3,234.10 L327.8,234.57 L328.3,235.16 L328.8,235.86 L329.3,236.38 L329.8,236.81 L330.3,237.17 L330.8,237.91 L331.3,238.59 L331.8,238.92 L332.3,239.48 L332.8,240.01 L333.3,240.50 L333.8,241.22 L334.3,241.40 L334.8,242.07 L335.3,242.80 L335.8,242.99 L336.3,243.84 L336.8,244.22 L337.3,244.69 L337.8,245.40 L338.3,245.94 L338.8,246.13 L339.3,246.68 L339.8,247.13 L340.3,247.75 L340.8,248.35 L341.3,248.78 L341.8,249.41 L342.3,249.67 L342.8,250.18 L343.3,250.85 L343.8,251.30 L344.3,251.85 L344.8,252.44 L345.3,252.91 L345.8,253.20 L346.3,253.71 L346.8,254.18 L347.3,254.96 L347.8,255.53 L348.3,255.98 L348.8,256.31 L349.3,256.93 L349.8,257.34 L350.3,257.62 L350.8,258.11 L351.3,258.86 L351.8,259.24 L352.3,259.77 L352.8,260.14 L353.3,260.57 L353.8,261.02 L354.3,261.60 L354.8,262.06 L355.3,262.56 L355.8,262.99 L356.3,263.56 L356.8,263.76 L357.3,264.55 L357.8,264.72 L358.3,265.27 L358.8,265.66 L359.3,266.01 L359.8,266.48 L360.3,266.91 L360.8,267.55 L361.3,267.85 L361.8,268.50 L362.3,268.91 L362.8,269.47 L363.3,269.65 L363.8,270.10 L364.3,270.70 L364.8,271.17 L365.3,271.61 L365.8,272.07 L366.3,272.47 L366.8,272.56 L367.3,273.18 L367.8,273.66 L368.3,274.18 L368.8,274.41 L369.3,274.76 L369.8,275.09 L370.3,275.55 L370.8,275.92 L371.3,276.47 L371.8,276.75 L372.3,277.43 L372.8,277.56 L373.3,278.15 L373.8,278.43 L374.3,278.83 L374.8,279.18 L375.3,279.68 L375.8,280.22 L376.3,280.51 L376.8,280.89 L377.3,281.18 L377.8,281.61 L378.3,282.21 L378.8,282.30 L379.3,282.92 L379.8,283.37 L380.3,283.66 L380.8,283.97 L381.3,284.32 L381.8,284.89 L382.3,285.26 L382.8,285.45 L383.3,285.91 L383.8,286.49 L384.3,286.57 L384.8,287.29 L385.3,287.57 L385.8,287.79 L386.3,288.47 L386.8,288.62 L387.3,289.13 L387.8,289.45 L388.3,289.70 L388.8,290.17 L389.3,290.48 L389.8,291.09 L390.3,291.57 L390.8,291.61 L391.3,292.05 L391.8,292.54 L392.3,292.98 L392.8,293.30 L393.3,293.79 L393.8,294.31 L394.3,294.35 L394.8,294.76 L395.3,295.27 L395.8,295.72 L396.3,296.16 L396.8,296.44 L397.3,296.98 L397.8,297.41 L398.3,297.76 L398.8,297.94 L399.3,298.57 L399.8,298.79 L400.3,299.26 L400.8,299.65 L401.3,299.71 L401.8,300.49 L402.3,300.79 L402.8,301.11 L403.3,301.50 L403.8,301.75 L404.3,302.20 L404.8,302.50 L405.3,302.84 L405.8,303.26 L406.3,303.63 L406.8,304.16 L407.3,304.38 L407.8,304.63 L408.3,305.25 L408.8,305.59 L409.3,306.03 L409.8,306.29 L410.3,306.39 L410.8,306.79 L411.3,307.48 L411.8,307.72 L412.3,307.97 L412.8,308.51 L413.3,308.53 L413.8,309.18 L414.3,309.27 L414.8,309.54 L415.3,310.20 L415.8,310.55 L416.3,310.54 L416.8,311.14 L417.3,311.58 L417.8,311.88 L418.3,312.08 L418.8,312.51 L419.3,312.82 L419.8,313.02 L420.3,313.49 L420.8,313.52 L421.3,313.84 L421.8,314.22 L422.3,314.73 L422.8,314.73 L423.3,315.12 L423.8,315.49 L424.3,315.99 L424.8,316.10 L425.3,316.59 L425.8,316.53 L426.3,316.94 L426.8,317.14 L427.3,317.45 L427.8,318.02 L428.3,318.09 L428.8,318.43 L429.3,318.73 L429.8,318.83 L430.3,319.50 L430.8,319.64 L431.3,320.05 L431.8,320.01 L432.3,320.48 L432.8,320.83 L433.3,321.09 L433.8,321.23 L434.3,321.67 L434.8,321.99 L435.3,322.18 L435.8,322.48 L436.3,322.53 L436.8,322.96 L437.3,323.26 L437.8,323.35 L438.3,323.83 L438.8,323.86 L439.3,324.39 L439.8,324.51 L440.3,324.63 L440.8,325.02 L441.3,325.48 L441.8,325.59 L442.3,325.91 L442.8,326.16 L443.3,326.27 L443.8,326.71 L444.3,326.96 L444.8,327.35 L445.3,327.42 L445.8,327.60 L446.3,328.19 L446.8,328.41 L447.3,328.40 L447.8,328.74 L448.3,329.25 L448.8,329.32 L449.3,329.58 L449.8,329.96 L450.3,330.34 L450.8,330.52 L451.3,330.53 L451.8,330.94 L452.3,331.43 L452.8,331.56 L453.3,331.80 L453.8,332.09 L454.3,332.37 L454.8,332.35 L455.3,332.94 L455.8,332.93 L456.3,333.29 L456.8,333.46 L457.3,333.63 L457.8,333.94 L458.3,334.32 L458.8,334.66 L459.3,334.78 L459.8,335.04 L460.3,335.46 L460.8,335.62 L461.3,335.88 L461.8,336.10 L462.3,336.21 L462.8,336.73 L463.3,336.71 L463.8,336.91 L464.3,337.43 L464.8,337.48 L465.3,337.84 L465.8,337.97 L466.3,338.10 L466.8,338.39 L467.3,338.61 L467.8,338.87 L468.3,339.09 L468.8,339.15 L469.3,339.45 L469.8,339.88 L470.3,340.02 L470.8,340.14 L471.3,340.56 L471.8,340.56 L472.3,341.04 L472.8,341.29 L473.3,341.34 L473.8,341.49 L474.3,341.89 L474.8,341.99 L475.3,341.97 L475.8,342.36 L476.3,342.69 L476.8,342.85 L477.3,343.06 L477.8,343.05 L478.3,343.50 L478.8,343.64 L479.3,343.67 L479.8,344.03 L480.3,344.07 L480.8,344.18 L481.3,344.52 L481.8,344.78 L482.3,344.94 L482.8,345.14 L483.3,345.38 L483.8,345.48 L484.3,345.73 L484.8,345.69 L485.3,345.81 L485.8,345.99 L486.3,346.17 L486.8,346.34 L487.3,346.54 L487.8,346.55 L488.3,346.90 L488.8,347.07 L489.3,347.13 L489.8,347.25 L490.3,347.69 L490.8,347.76 L491.3,347.92 L491.8,348.02 L492.3,347.91 L492.8,348.14 L493.3,348.46 L493.8,348.62 L494.3,348.51 L494.8,348.82 L495.3,349.01 L495.8,349.17 L496.3,349.02 L496.8,349.41 L497.3,349.45 L497.8,349.73 L498.3,349.49 L498.8,349.88 L499.3,350.09 L499.8,350.16 L500.3,350.04 L500.8,350.24 L501.3,350.56 L501.8,350.52 L502.3,350.59 L502.8,350.67 L503.3,350.82 L503.8,350.76 L504.3,350.99 L504.8,351.30 L505.3,351.40 L505.8,351.23 L506.3,351.54 L506.8,351.73 L507.3,351.55 L507.8,351.71 L508.3,351.90 L508.8,351.89 L509.3,352.15 L509.8,352.29 L510.3,352.23 L510.8,352.52 L511.3,352.68 L511.8,352.46 L512.3,352.75 L512.8,352.63 L513.3,352.96 L513.8,352.80 L514.3,353.03 L514.8,353.28 L515.3,353.35 L515.8,353.34 L516.3,353.35 L516.8,353.71 L517.3,353.72 L517.8,353.68 L518.3,354.04 L518.8,354.09 L519.3,354.17 L519.8,354.18 L520.3,354.41 L520.8,354.27 L521.3,354.42 L521.8,354.70 L522.3,354.72 L522.8,354.77 L523.3,354.76 L523.8,354.95 L524.3,355.29 L524.8,355.11 L525.3,355.45 L525.8,355.47 L526.3,355.59 L526.8,355.69 L527.3,356.03 L527.8,356.16 L528.3,356.08 L528.8,356.32 L529.3,356.32 L529.8,356.56 L530.3,356.73 L530.8,356.59 L531.3,356.81 L531.8,356.81 L532.3,357.10 L532.8,357.03 L533.3,357.38 L533.8,357.54 L534.3,357.34 L534.8,357.66 L535.3,357.53 L535.8,357.64 L536.3,357.78 L536.8,358.06 L537.3,358.32 L537.8,358.13 L538.3,358.58 L538.8,358.51 L539.3,358.53 L539.8,358.83 L540.3,359.00 L540.8,358.98 L541.3,359.10 L541.8,359.37 L542.3,359.51 L542.8,359.31 L543.3,359.62 L543.8,359.87 L544.3,359.96 L544.8,359.77 L545.3,360.22 L545.8,360.21 L546.3,360.42 L546.8,360.32 L547.3,360.67 L547.8,360.69 L548.3,360.59 L548.8,360.82 L549.3,360.73 L549.8,361.11 L550.3,361.16 L550.8,361.15 L551.3,361.37 L551.8,361.61 L552.3,361.45 L552.8,361.63 L553.3,361.68 L553.8,361.99 L554.3,361.84 L554.8,362.25 L555.3,362.22 L555.8,362.46 L556.3,362.26 L556.8,362.40 L557.3,362.45 L557.8,362.75 L558.3,362.58 L558.8,362.67 L559.3,363.07 L559.8,363.14 L560.3,363.26 L560.8,363.25 L561.3,363.19 L561.8,363.28 L562.3,363.59 L562.8,363.42 L563.3,363.52 L563.8,363.84 L564.3,363.94 L564.8,363.78 L565.3,363.85 L565.8,364.23 L566.3,364.02 L566.8,364.27 L567.3,364.46 L567.8,364.19 L568.3,364.30 L568.8,364.53 L569.3,364.46 L569.8,364.85 L570.3,364.72 L570.8,364.96 L571.3,364.94 L571.8,364.83 L572.3,364.89 L572.8,365.07 L573.3,365.10 L573.8,365.36 L574.3,365.15 L574.8,365.23 L575.3,365.30 L575.8,365.53 L576.3,365.56 L576.8,365.57 L577.3,365.46 L577.8,365.70 L578.3,365.72 L578.8,365.87 L579.3,365.74 L579.8,365.77 L580.3,366.03 L580.8,365.74 L581.3,366.15 L581.8,366.14 L582.3,366.18 L582.8,366.09 L583.3,366.06 L583.8,366.11 L584.3,366.27 L584.8,366.12 L585.3,366.47 L585.8,366.48 L586.3,366.31 L586.8,366.51 L587.3,366.56 L587.8,366.60 L588.3,366.65 L588.8,366.30 L589.3,366.66 L589.8,366.68 L590.3,366.74 L590.8,366.67 L591.3,366.48 L591.8,366.68 L592.3,366.68 L592.8,366.56 L593.3,366.55 L593.8,366.82 L594.3,366.78 L594.8,366.59 L595.3,366.71 L595.8,366.69 L596.3,366.96 L596.8,366.84 L597.3,366.70 L597.8,366.71 L598.3,366.97 L598.8,366.84 L599.3,366.85 L599.8,366.85 L600.3,366.72 L600.8,366.66 L601.3,366.87 L601.8,366.75 L602.3,367.03 L602.8,366.87 L603.3,366.83 L603.8,367.06 L604.3,366.96 L604.8,367.03 L605.3,367.02 L605.8,367.00" stroke="#000080"/>
<path d="M152.5,332.12 L156.0,346.01 L156.5,345.58 L157.0,344.98 L157.5,344.70 L158.0,344.02 L158.5,343.50 L159.0,343.09 L159.5,342.32 L160.0,341.78 L160.5,341.58 L161.0,340.74 L161.5,340.36 L162.0,339.70 L162.5,339.14 L163.0,338.46 L163.5,338.00 L164.0,337.13 L164.5,336.57 L165.0,336.13 L165.5,335.42 L166.0,334.67 L166.5,333.85 L167.0,333.04 L167.5,332.36 L168.0,331.94 L168.5,331.20 L169.0,330.19 L169.5,329.53 L170.0,328.65 L170.5,328.01 L171.0,327.03 L171.5,326.38 L172.0,325.22 L172.5,324.67 L173.0,323.66 L173.5,323.04 L174.0,321.86 L174.5,320.94 L175.0,320.24 L175.5,319.29 L176.0,318.27 L176.5,317.34 L177.0,316.52 L177.5,315.74 L178.0,314.71 L178.5,313.81 L179.0,312.66 L179.5,311.86 L180.0,310.65 L180.5,309.67 L181.0,308.70 L181.5,307.74 L182.0,307.04 L182.5,306.06 L183.0,304.89 L183.5,303.77 L184.0,302.78 L184.5,301.90 L185.0,300.79 L185.5,299.69 L186.0,298.71 L186.5,297.61 L187.0,296.72 L187.5,295.35 L188.0,294.51 L188.5,293.16 L189.0,292.43 L189.5,291.32 L190.0,290.28 L190.5,288.90 L191.0,288.03 L191.5,286.79 L192.0,285.76 L192.5,284.78 L193.0,283.59 L193.5,282.75 L194.0,281.33 L194.5,280.39 L195.0,279.25 L195.5,278.53 L196.0,277.38 L196.5,276.38 L197.0,275.31 L197.5,274.27 L198.0,273.18 L198.5,272.39 L199.0,271.44 L199.5,270.56 L200.0,269.76 L200.5,268.72 L201.0,267.86 L201.5,267.00 L202.0,266.45 L202.5,265.74 L203.0,264.64 L203.5,263.90 L204.0,263.13 L204.5,262.48 L205.0,261.81 L205.5,261.25 L206.0,260.26 L206.5,259.60 L207.0,259.17 L207.5,258.18 L208.0,257.83 L208.5,257.18 L209.0,256.45 L209.5,255.56 L210.0,255.04 L210.5,254.49 L211.0,253.73 L211.5,252.99 L212.0,252.50 L212.5,251.90 L213.0,251.24 L213.5,250.42 L214.0,249.75 L214.5,249.22 L215.0,248.77 L215.5,248.07 L216.0,247.66 L216.5,246.77 L217.0,246.40 L217.5,245.50 L218.0,244.98 L218.5,244.34 L219.0,244.02 L219.5,243.55 L220.0,242.75 L220.5,242.17 L221.0,241.55 L221.5,241.05 L222.0,240.57 L222.5,239.96 L223.0,239.61 L223.5,239.03 L224.0,238.39 L224.5,238.15 L225.0,237.55 L225.5,237.06 L226.0,236.78 L226.5,236.09 L227.0,235.84 L227.5,235.13 L228.0,235.02 L228.5,234.25 L229.0,234.15 L229.5,233.79 L230.0,233.14 L230.5,232.84 L231.0,232.50 L231.5,232.21 L232.0,231.63 L232.5,231.45 L233.0,231.00 L233.5,230.51 L234.0,230.46 L234.5,230.24 L235.0,229.75 L235.5,229.43 L236.0,229.20 L236.5,229.09 L237.0,228.68 L237.5,228.49 L238.0,228.21 L238.5,227.66 L239.0,227.67 L239.5,227.56 L240.0,227.19 L240.5,226.79 L241.0,226.72 L241.5,226.66 L242.0,226.23 L242.5,225.97 L243.0,226.05 L243.5,225.77 L244.0,225.44 L244.5,225.29 L245.0,224.98 L245.5,224.84 L246.0,224.97 L246.5,224.80 L247.0,224.62 L247.5,224.60 L248.0,224.22 L248.5,224.34 L249.0,224.13 L249.5,223.74 L250.0,223.82 L250.5,223.84 L251.0,223.66 L251.5,223.48 L252.0,223.68 L252.5,223.40 L253.0,223.30 L253.5,223.33 L254.0,223.18 L254.5,223.15 L255.0,223.25 L255.5,222.96 L256.0,222.99 L256.5,223.00 L257.0,223.04 L257.5,223.10 L258.0,222.97 L258.5,223.30 L259.0,223.00 L259.5,223.03 L260.0,223.32 L260.5,223.22 L261.0,223.23 L261.5,223.42 L262.0,223.26 L262.5,223.42 L263.0,223.60 L263.5,223.88 L264.0,223.75 L264.5,223.98 L265.0,224.05 L265.5,223.94 L266.0,224.27 L266.5,224.48 L267.0,224.66 L267.5,224.66 L268.0,224.79 L268.5,224.99 L269.0,225.24 L269.5,225.39 L270.0,225.59 L270.5,225.81 L271.0,225.76 L271.5,226.17 L272.0,226.25 L272.5,226.57 L273.0,226.68 L273.5,226.89 L274.0,227.15 L274.5,227.27 L275.0,227.60 L275.5,227.93 L276.0,227.86 L276.5,228.29 L277.0,228.54 L277.5,228.82 L278.0,229.14 L278.5,229.24 L279.0,229.39 L279.5,229.77 L280.0,230.30 L280.5,230.52 L281.0,230.89 L281.5,231.04 L282.0,231.48 L282.5,231.56 L283.0,231.94 L283.5,232.33 L284.0,232.49 L284.5,232.73 L285.0,233.05 L285.5,233.54 L286.0,233.76 L286.5,234.14 L287.0,234.67 L287.5,234.98 L288.0,235.02 L288.5,235.57 L289.0,235.90 L289.5,236.14 L290.0,236.48 L290.5,236.81 L291.0,237.42 L291.5,237.84 L292.0,238.01 L292.5,238.55 L293.0,238.70 L293.5,238.96 L294.0,239.65 L294.5,239.84 L295.0,240.20 L295.5,240.59 L296.0,241.20 L296.5,241.25 L297.0,241.60 L297.5,242.16 L298.0,242.65 L298.5,242.72 L299.0,243.30 L299.5,243.87 L300.0,244.07 L300.5,244.33 L301.0,244.78 L301.5,245.36 L302.0,245.60 L302.5,246.04 L303.0,246.33 L303.5,246.98 L304.0,247.24 L304.5,247.71 L305.0,247.93 L305.5,248.44 L306.0,248.62 L306.5,249.25 L307.0,249.61 L307.5,249.93 L308.0,250.30 L308.5,250.89 L309.0,251.31 L309.5,251.79 L310.0,252.14 L310.5,252.64 L311.0,252.82 L311.5,253.08 L312.0,253.69 L312.5,254.03 L313.0,254.55 L313.5,254.93 L314.0,255.52 L314.5,255.94 L315.0,256.25 L315.5,256.50 L316.0,256.91 L316.5,257.29 L317.0,257.68 L317.5,258.22 L318.0,258.71 L318.5,259.04 L319.0,259.47 L319.5,259.83 L320.0,260.25 L320.5,260.89 L321.0,261.10 L321.5,261.37 L322.0,262.03 L322.5,262.43 L323.0,262.65 L323.5,263.25 L324.0,263.79 L324.5,263.99 L325.0,264.45 L325.5,264.99 L326.0,265.40 L326.5,265.94 L327.0,266.11 L327.5,266.60 L328.0,266.92 L328.5,267.68 L329.0,267.85 L329.5,268.45 L330.0,268.78 L330.5,269.02 L331.0,269.77 L331.5,269.93 L332.0,270.27 L332.5,271.07 L333.0,271.23 L333.5,271.57 L334.0,272.03 L334.5,272.68 L335.0,273.12 L335.5,273.46 L336.0,273.89 L336.5,274.24 L337.0,274.92 L337.5,275.03 L338.0,275.46 L338.5,276.19 L339.0,276.64 L339.5,277.02 L340.0,277.55 L340.5,277.95 L341.0,278.16 L341.5,278.51 L342.0,279.13 L342.5,279.34 L343.0,279.94 L343.5,280.21 L344.0,280.94 L344.5,281.06 L345.0,281.81 L345.5,282.28 L346.0,282.39 L346.5,282.97 L347.0,283.24 L347.5,283.73 L348.0,284.10 L348.5,284.66 L349.0,284.98 L349.5,285.55 L350.0,286.09 L350.5,286.42 L351.0,287.02 L351.5,287.38 L352.0,287.84 L352.5,288.02 L353.0,288.61 L353.5,289.08 L354.0,289.56 L354.5,289.93 L355.0,290.15 L355.5,290.80 L356.0,291.03 L356.5,291.58 L357.0,291.68 L357.5,292.30 L358.0,292.76 L358.5,293.26 L359.0,293.58 L359.5,293.83 L360.0,294.28 L360.5,294.75 L361.0,294.95 L361.5,295.43 L362.0,296.09 L362.5,296.18 L363.0,296.77 L363.5,296.90 L364.0,297.36 L364.5,297.68 L365.0,298.20 L365.5,298.49 L366.0,298.80 L366.5,299.56 L367.0,299.70 L367.5,300.02 L368.0,300.36 L368.5,300.74 L369.0,301.18 L369.5,301.61 L370.0,301.82 L370.5,302.40 L371.0,302.57 L371.5,303.15 L372.0,303.32 L372.5,303.83 L373.0,304.22 L373.5,304.38 L374.0,305.00 L374.5,305.26 L375.0,305.48 L375.5,305.86 L376.0,306.22 L376.5,306.79 L377.0,307.04 L377.5,307.09 L378.0,307.75 L378.5,307.96 L379.0,308.41 L379.5,308.48 L380.0,308.88 L380.5,309.47 L381.0,309.76 L381.5,309.98 L382.0,310.27 L382.5,310.49 L383.0,310.86 L383.5,311.24 L384.0,311.53 L384.5,311.87 L385.0,312.26 L385.5,312.68 L386.0,312.90 L386.5,313.26 L387.0,313.30 L387.5,313.78 L388.0,314.02 L388.5,314.23 L389.0,314.60 L389.5,315.14 L390.0,315.49 L390.5,315.58 L391.0,315.74 L391.5,316.22 L392.0,316.36 L392.5,316.77 L393.0,316.94 L393.5,317.43 L394.0,317.60 L394.5,317.90 L395.0,318.15 L395.5,318.46 L396.0,318.95 L396.5,319.28 L397.0,319.31 L397.5,319.56 L398.0,320.03 L398.5,320.21 L399.0,320.42 L399.5,320.95 L400.0,321.18 L400.5,321.37 L401.0,321.86 L401.5,321.99 L402.0,322.30 L402.5,322.55 L403.0,322.93 L403.5,323.27 L404.0,323.23 L404.5,323.65 L405.0,323.99 L405.5,324.32 L406.0,324.59 L406.5,324.56 L407.0,324.87 L407.5,325.40 L408.0,325.47 L408.5,325.98 L409.0,326.10 L409.5,326.37 L410.0,326.57 L410.5,326.71 L411.0,327.13 L411.5,327.48 L412.0,327.57 L412.5,327.87 L413.0,328.26 L413.5,328.54 L414.0,328.81 L414.5,328.89 L415.0,329.42 L415.5,329.54 L416.0,330.02 L416.5,329.96 L417.0,330.18 L417.5,330.75 L418.0,331.06 L418.5,331.05 L419.0,331.39 L419.5,331.73 L420.0,331.99 L420.5,332.27 L421.0,332.66 L421.5,332.92 L422.0,332.79 L422.5,333.09 L423.0,333.52 L423.5,333.70 L424.0,333.90 L424.5,334.30 L425.0,334.49 L425.5,334.99 L426.0,335.25 L426.5,335.48 L427.0,335.53 L427.5,335.96 L428.0,336.07 L428.5,336.14 L429.0,336.67 L429.5,336.95 L430.0,336.96 L430.5,337.39 L431.0,337.69 L431.5,337.72 L432.0,338.02 L432.5,338.46 L433.0,338.74 L433.5,338.68 L434.0,339.05 L434.5,339.23 L435.0,339.67 L435.5,339.91 L436.0,339.92 L436.5,340.26 L437.0,340.44 L437.5,340.66 L438.0,341.07 L438.5,341.03 L439.0,341.30 L439.5,341.73 L440.0,341.87 L440.5,342.08 L441.0,342.22 L441.5,342.48 L442.0,342.77 L442.5,343.15 L443.0,343.36 L443.5,343.53 L444.0,343.66 L444.5,343.93 L445.0,344.11 L445.5,344.46 L446.0,344.61 L446.5,344.84 L447.0,345.02 L447.5,345.15 L448.0,345.30 L448.5,345.51 L449.0,345.90 L449.5,346.08 L450.0,346.01 L450.5,346.51 L451.0,346.39 L451.5,346.70 L452.0,346.75 L452.5,346.94 L453.0,347.31 L453.5,347.65 L454.0,347.60 L454.5,347.77 L455.0,348.21 L455.5,348.40 L456.0,348.66 L456.5,348.80 L457.0,348.76 L457.5,348.94 L458.0,349.15 L458.5,349.51 L459.0,349.76 L459.5,349.74 L460.0,350.16 L460.5,350.27 L461.0,350.26 L461.5,350.61 L462.0,350.64 L462.5,351.03 L463.0,351.12 L463.5,351.30 L464.0,351.44 L464.5,351.54 L465.0,351.82 L465.5,352.11 L466.0,352.01 L466.5,352.39 L467.0,352.56 L467.5,352.67 L468.0,352.78 L468.5,352.96 L469.0,353.10 L469.5,353.53 L470.0,353.39 L470.5,353.57 L471.0,353.96 L471.5,354.19 L472.0,354.06 L472.5,354.33 L473.0,354.73 L473.5,354.93 L474.0,354.99 L474.5,355.08 L475.0,355.25 L475.5,355.56 L476.0,355.79 L476.5,355.78 L477.0,356.01 L477.5,356.23 L478.0,356.40 L478.5,356.41 L479.0,356.41 L479.5,356.94 L480.0,356.89 L480.5,357.15 L481.0,357.29 L481.5,357.24 L482.0,357.37 L482.5,357.71 L483.0,358.04 L483.5,358.05 L484.0,358.31 L484.5,358.26 L485.0,358.50 L485.5,358.75 L486.0,358.70 L486.5,358.88 L487.0,359.24 L487.5,359.11 L488.0,359.22 L488.5,359.47 L489.0,359.57 L489.5,359.86 L490.0,359.88 L490.5,360.11 L491.0,360.07 L491.5,360.42 L492.0,360.62 L492.5,360.49 L493.0,360.71 L493.5,361.01 L494.0,360.78 L494.5,360.93 L495.0,361.12 L495.5,361.29 L496.0,361.40 L496.5,361.36 L497.0,361.58 L497.5,361.59 L498.0,361.84 L498.5,361.93 L499.0,362.07 L499.5,362.25 L500.0,362.12 L500.5,362.52 L501.0,362.57 L501.5,362.45 L502.0,362.72 L502.5,363.01 L503.0,363.10 L503.5,363.18 L504.0,362.99 L504.5,363.34 L505.0,363.32 L505.5,363.48 L506.0,363.55 L506.5,363.69 L507.0,363.65 L507.5,363.62 L508.0,363.97 L508.5,363.76 L509.0,363.94 L509.5,364.24 L510.0,364.12 L510.5,364.26 L511.0,364.54 L511.5,364.58 L512.0,364.58 L512.5,364.70 L513.0,364.62 L513.5,364.83 L514.0,365.00 L514.5,364.80 L515.0,364.97 L515.5,365.11 L516.0,365.06 L516.5,365.44 L517.0,365.48 L517.5,365.24 L518.0,365.49 L518.5,365.59 L519.0,365.47 L519.5,365.88 L520.0,365.79 L520.5,365.80 L521.0,365.91 L521.5,365.93 L522.0,366.19 L522.5,366.43 L523.0,366.30 L523.5,366.22 L524.0,366.62 L524.5,366.68 L525.0,366.62 L525.5,366.80 L526.0,366.69 L526.5,367.01 L527.0,367.17 L527.5,366.93 L528.0,367.10 L528.5,367.15 L529.0,367.15 L529.5,367.22 L530.0,367.41 L530.5,367.35 L531.0,367.66 L531.5,367.59 L532.0,367.80 L532.5,368.05 L533.0,368.08 L533.5,367.92 L534.0,367.95 L534.5,368.26 L535.0,368.09 L535.5,368.36 L536.0,368.30 L536.5,368.57 L537.0,368.60 L537.5,368.71 L538.0,368.87 L538.5,368.80 L539.0,368.89 L539.5,368.96 L540.0,368.95 L540.5,369.06 L541.0,369.17 L541.5,369.32 L542.0,369.24 L542.5,369.66 L543.0,369.72 L543.5,369.86 L544.0,369.89 L544.5,369.64 L545.0,370.00 L545.5,370.13 L546.0,370.23 L546.5,370.26 L547.0,370.40 L547.5,370.35 L548.0,370.32 L548.5,370.43 L549.0,370.61 L549.5,370.66 L550.0,370.78 L550.5,370.60 L551.0,370.79 L551.5,371.04 L552.0,371.07 L552.5,371.05 L553.0,371.16 L553.5,371.11 L554.0,371.39 L554.5,371.49 L555.0,371.36 L555.5,371.45 L556.0,371.57 L556.5,371.78 L557.0,371.56 L557.5,372.00 L558.0,372.09 L558.5,372.09 L559.0,372.09 L559.5,372.06 L560.0,372.32 L560.5,372.05 L561.0,372.16 L561.5,372.44 L562.0,372.35 L562.5,372.41 L563.0,372.42 L563.5,372.76 L564.0,372.86 L564.5,372.80 L565.0,372.66 L565.5,373.00 L566.0,373.06 L566.5,372.97 L567.0,372.96 L567.5,373.08 L568.0,373.12 L568.5,373.13 L569.0,373.51 L569.5,373.49 L570.0,373.44 L570.5,373.43 L571.0,373.40 L571.5,373.63 L572.0,373.60 L572.5,373.81 L573.0,373.62 L573.5,373.78 L574.0,373.87 L574.5,373.95 L575.0,373.88 L575.5,373.92 L576.0,374.16 L576.5,374.16 L577.0,374.15 L577.5,374.19 L578.0,374.12 L578.5,374.45 L579.0,374.13 L579.5,374.33 L580.0,374.19 L580.5,374.22 L581.0,374.55 L581.5,374.50 L582.0,374.45 L582.5,374.66 L583.0,374.38 L583.5,374.53 L584.0,374.81 L584.5,374.77 L585.0,374.67 L585.5,374.79 L586.0,374.89 L586.5,374.69 L587.0,374.59 L587.5,374.91 L588.0,374.80 L588.5,374.96 L589.0,374.89 L589.5,374.74 L590.0,374.66 L590.5,374.90 L591.0,374.86 L591.5,374.82 L592.0,374.97 L592.5,374.86 L593.0,375.04 L593.5,374.74 L594.0,374.73 L594.5,374.88 L595.0,374.80 L595.5,375.10 L596.0,375.00 L596.5,375.13 L597.0,374.86 L597.5,375.09 L598.0,375.14 L598.5,375.09 L599.0,375.05 L599.5,374.80 L600.0,375.11 L600.5,374.78 L601.0,374.89 L601.5,374.82 L602.0,374.79 L602.5,375.13 L603.0,374.98 L603.5,375.09 L604.0,374.88 L604.5,374.88 L605.0,375.06 L605.5,375.11 L606.0,375.03" stroke="#800080"/>
<path d="M152.5,359.65 L155.4,362.94 L155.9,362.45 L156.4,362.05 L156.9,361.53 L157.4,360.77 L157.9,360.38 L158.4,359.98 L158.9,359.47 L159.4,359.30 L159.9,358.79 L160.4,358.20 L160.9,357.61 L161.4,357.08 L161.9,356.58 L162.4,356.16 L162.9,355.71 L163.4,355.47 L163.9,354.77 L164.4,354.36 L164.9,353.92 L165.4,353.58 L165.9,352.98 L166.4,352.32 L166.9,351.91 L167.4,351.37 L167.9,350.83 L168.4,350.56 L168.9,349.99 L169.4,349.42 L169.9,349.04 L170.4,348.35 L170.9,348.05 L171.4,347.65 L171.9,347.21 L172.4,346.57 L172.9,345.97 L173.4,345.69 L173.9,345.31 L174.4,344.57 L174.9,344.09 L175.4,343.56 L175.9,343.14 L176.4,342.84 L176.9,342.28 L177.4,341.65 L177.9,341.17 L178.4,340.67 L178.9,340.37 L179.4,339.67 L179.9,339.21 L180.4,338.77 L180.9,338.42 L181.4,337.94 L181.9,337.22 L182.4,336.85 L182.9,336.06 L183.4,335.53 L183.9,335.02 L184.4,334.54 L184.9,333.99 L185.4,333.42 L185.9,332.61 L186.4,331.95 L186.9,331.36 L187.4,330.71 L187.9,330.25 L188.4,329.75 L188.9,329.07 L189.4,328.39 L189.9,327.66 L190.4,326.89 L190.9,326.50 L191.4,325.74 L191.9,325.24 L192.4,324.43 L192.9,323.63 L193.4,323.00 L193.9,322.65 L194.4,321.74 L194.9,321.25 L195.4,320.65 L195.9,320.02 L196.4,319.69 L196.9,319.10 L197.4,318.24 L197.9,318.05 L198.4,317.36 L198.9,316.68 L199.4,316.47 L199.9,315.79 L200.4,315.36 L200.9,314.81 L201.4,314.47 L201.9,313.94 L202.4,313.79 L202.9,313.03 L203.4,312.73 L203.9,312.36 L204.4,312.13 L204.9,311.62 L205.4,311.34 L205.9,310.78 L206.4,310.65 L206.9,310.23 L207.4,310.03 L207.9,309.71 L208.4,309.19 L208.9,308.96 L209.4,308.70 L209.9,308.49 L210.4,307.89 L210.9,307.75 L211.4,307.59 L211.9,307.04 L212.4,307.10 L212.9,306.67 L213.4,306.42 L213.9,305.90 L214.4,305.80 L214.9,305.56 L215.4,305.18 L215.9,305.22 L216.4,304.78 L216.9,304.44 L217.4,304.34 L217.9,304.10 L218.4,303.57 L218.9,303.18 L219.4,303.01 L219.9,302.69 L220.4,302.46 L220.9,302.39 L221.4,301.71 L221.9,301.53 L222.4,301.08 L222.9,300.87 L223.4,300.74 L223.9,300.30 L224.4,300.10 L224.9,299.54 L225.4,299.36 L225.9,298.81 L226.4,298.64 L226.9,298.14 L227.4,298.06 L227.9,297.64 L228.4,297.35 L228.9,297.06 L229.4,296.69 L229.9,296.20 L230.4,296.03 L230.9,295.90 L231.4,295.51 L231.9,295.19 L232.4,295.02 L232.9,294.64 L233.4,294.20 L233.9,294.09 L234.4,293.89 L234.9,293.39 L235.4,293.14 L235.9,292.88 L236.4,292.94 L236.9,292.43 L237.4,292.39 L237.9,291.88 L238.4,291.65 L238.9,291.71 L239.4,291.28 L239.9,291.18 L240.4,291.05 L240.9,290.71 L241.4,290.65 L241.9,290.26 L242.4,290.08 L242.9,289.88 L243.4,289.96 L243.9,289.81 L244.4,289.55 L244.9,289.35 L245.4,289.44 L245.9,289.03 L246.4,289.09 L246.9,289.01 L247.4,288.80 L247.9,288.72 L248.4,288.41 L248.9,288.37 L249.4,288.37 L249.9,287.95 L250.4,288.01 L250.9,287.97 L251.4,287.92 L251.9,287.74 L252.4,287.82 L252.9,287.68 L253.4,287.68 L253.9,287.58 L254.4,287.36 L254.9,287.49 L255.4,287.28 L255.9,287.04 L256.4,287.20 L256.9,287.16 L257.4,286.99 L257.9,287.17 L258.4,287.12 L258.9,287.20 L259.4,287.01 L259.9,287.03 L260.4,287.06 L260.9,287.13 L261.4,287.13 L261.9,286.89 L262.4,287.19 L262.9,286.97 L263.4,287.06 L263.9,287.02 L264.4,287.32 L264.9,287.08 L265.4,287.50 L265.9,287.31 L266.4,287.32 L266.9,287.56 L267.4,287.75 L267.9,287.73 L268.4,287.68 L268.9,287.74 L269.4,287.94 L269.9,287.87 L270.4,287.97 L270.9,288.22 L271.4,288.09 L271.9,288.40 L272.4,288.56 L272.9,288.70 L273.4,288.62 L273.9,288.83 L274.4,288.86 L274.9,289.06 L275.4,289.09 L275.9,289.22 L276.4,289.51 L276.9,289.43 L277.4,289.84 L277.9,289.80 L278.4,289.83 L278.9,290.01 L279.4,290.10 L279.9,290.48 L280.4,290.48 L280.9,290.53 L281.4,290.82 L281.9,291.15 L282.4,291.16 L282.9,291.17 L283.4,291.51 L283.9,291.74 L284.4,291.99 L284.9,291.99 L285.4,292.19 L285.9,292.48 L286.4,292.75 L286.9,293.08 L287.4,293.09 L287.9,293.15 L288.4,293.48 L288.9,293.54 L289.4,293.94 L289.9,294.22 L290.4,294.24 L290.9,294.51 L291.4,294.85 L291.9,294.87 L292.4,295.20 L292.9,295.45 L293.4,295.83 L293.9,296.00 L294.4,295.97 L294.9,296.36 L295.4,296.65 L295.9,296.85 L296.4,297.02 L296.9,297.30 L297.4,297.74 L297.9,297.79 L298.4,298.17 L298.9,298.18 L299.4,298.46 L299.9,298.81 L300.4,298.92 L300.9,299.36 L301.4,299.36 L301.9,299.78 L302.4,300.05 L302.9,299.95 L303.4,300.28 L303.9,300.48 L304.4,300.83 L304.9,301.25 L305.4,301.35 L305.9,301.55 L306.4,301.68 L306.9,301.96 L307.4,302.06 L307.9,302.64 L308.4,302.56 L308.9,303.06 L309.4,303.07 L309.9,303.49 L310.4,303.85 L310.9,303.99 L311.4,304.37 L311.9,304.33 L312.4,304.88 L312.9,305.15 L313.4,305.40 L313.9,305.38 L314.4,305.71 L314.9,306.15 L315.4,306.27 L315.9,306.54 L316.4,306.54 L316.9,306.88 L317.4,307.11 L317.9,307.39 L318.4,307.80 L318.9,307.89 L319.4,308.34 L319.9,308.72 L320.4,308.77 L320.9,308.87 L321.4,309.37 L321.9,309.74 L322.4,309.74 L322.9,310.26 L323.4,310.51 L323.9,310.60 L324.4,310.79 L324.9,311.14 L325.4,311.45 L325.9,311.55 L326.4,312.09 L326.9,312.24 L327.4,312.49 L327.9,312.90 L328.4,312.86 L328.9,313.21 L329.4,313.45 L329.9,313.85 L330.4,314.22 L330.9,314.11 L331.4,314.39 L331.9,314.70 L332.4,315.10 L332.9,315.46 L333.4,315.78 L333.9,315.91 L334.4,316.08 L334.9,316.44 L335.4,316.60 L335.9,316.72 L336.4,317.04 L336.9,317.41 L337.4,317.73 L337.9,318.03 L338.4,318.30 L338.9,318.29 L339.4,318.61 L339.9,318.84 L340.4,319.22 L340.9,319.61 L341.4,319.83 L341.9,320.02 L342.4,320.09 L342.9,320.48 L343.4,320.83 L343.9,320.89 L344.4,321.25 L344.9,321.49 L345.4,321.69 L345.9,322.00 L346.4,322.29 L346.9,322.69 L347.4,322.91 L347.9,323.03 L348.4,323.44 L348.9,323.57 L349.4,323.84 L349.9,324.06 L350.4,324.43 L350.9,324.51 L351.4,324.70 L351.9,325.10 L352.4,325.23 L352.9,325.41 L353.4,325.85 L353.9,326.02 L354.4,326.01 L354.9,326.44 L355.4,326.69 L355.9,326.85 L356.4,327.33 L356.9,327.19 L357.4,327.58 L357.9,327.97 L358.4,328.05 L358.9,328.27 L359.4,328.68 L359.9,328.82 L360.4,329.06 L360.9,329.32 L361.4,329.31 L361.9,329.73 L362.4,329.70 L362.9,329.98 L363.4,330.43 L363.9,330.68 L364.4,330.94 L364.9,330.87 L365.4,331.21 L365.9,331.27 L366.4,331.48 L366.9,331.92 L367.4,331.88 L367.9,332.10 L368.4,332.60 L368.9,332.64 L369.4,332.90 L369.9,333.07 L370.4,333.25 L370.9,333.55 L371.4,333.93 L371.9,334.08 L372.4,334.00 L372.9,334.31 L373.4,334.52 L373.9,334.86 L374.4,335.16 L374.9,335.38 L375.4,335.21 L375.9,335.48 L376.4,335.97 L376.9,336.10 L377.4,336.33 L377.9,336.31 L378.4,336.40 L378.9,336.84 L379.4,336.78 L379.9,337.06 L380.4,337.26 L380.9,337.44 L381.4,337.68 L381.9,338.04 L382.4,338.08 L382.9,338.45 L383.4,338.50 L383.9,338.67 L384.4,338.88 L384.9,339.13 L385.4,339.46 L385.9,339.37 L386.4,339.57 L386.9,339.96 L387.4,340.25 L387.9,340.41 L388.4,340.27 L388.9,340.61 L389.4,340.62 L389.9,340.92 L390.4,341.06 L390.9,341.26 L391.4,341.38 L391.9,341.62 L392.4,342.11 L392.9,342.18 L393.4,342.37 L393.9,342.38 L394.4,342.59 L394.9,342.99 L395.4,343.20 L395.9,343.21 L396.4,343.24 L396.9,343.58 L397.4,343.84 L397.9,344.05 L398.4,344.26 L398.9,344.51 L399.4,344.35 L399.9,344.86 L400.4,344.86 L400.9,345.09 L401.4,345.27 L401.9,345.47 L402.4,345.59 L402.9,345.93 L403.4,345.93 L403.9,346.07 L404.4,346.25 L404.9,346.46 L405.4,346.66 L405.9,347.10 L406.4,347.08 L406.9,347.21 L407.4,347.43 L407.9,347.69 L408.4,347.77 L408.9,347.96 L409.4,348.27 L409.9,348.46 L410.4,348.65 L410.9,348.85 L411.4,348.89 L411.9,349.01 L412.4,349.33 L412.9,349.32 L413.4,349.74 L413.9,349.99 L414.4,350.11 L414.9,350.04 L415.4,350.46 L415.9,350.50 L416.4,350.57 L416.9,351.10 L417.4,351.06 L417.9,351.10 L418.4,351.42 L418.9,351.67 L419.4,351.98 L419.9,351.81 L420.4,352.27 L420.9,352.17 L421.4,352.34 L421.9,352.50 L422.4,352.91 L422.9,353.10 L423.4,353.28 L423.9,353.22 L424.4,353.56 L424.9,353.67 L425.4,353.79 L425.9,353.99 L426.4,354.33 L426.9,354.21 L427.4,354.39 L427.9,354.51 L428.4,354.86 L428.9,354.78 L429.4,355.15 L429.9,355.36 L430.4,355.42 L430.9,355.42 L431.4,355.70 L431.9,355.99 L432.4,356.12 L432.9,356.30 L433.4,356.31 L433.9,356.69 L434.4,356.45 L434.9,356.82 L435.4,356.86 L435.9,356.92 L436.4,357.22 L436.9,357.41 L437.4,357.37 L437.9,357.78 L438.4,357.80 L438.9,357.80 L439.4,357.97 L439.9,358.21 L440.4,358.40 L440.9,358.23 L441.4,358.45 L441.9,358.64 L442.4,358.95 L442.9,358.93 L443.4,359.00 L443.9,359.17 L444.4,359.22 L444.9,359.28 L445.4,359.37 L445.9,359.46 L446.4,359.91 L446.9,359.72 L447.4,359.96 L447.9,360.09 L448.4,360.01 L448.9,360.13 L449.4,360.19 L449.9,360.47 L450.4,360.42 L450.9,360.75 L451.4,360.94 L451.9,360.67 L452.4,361.12 L452.9,361.15 L453.4,361.02 L453.9,361.29 L454.4,361.29 L454.9,361.36 L455.4,361.47 L455.9,361.81 L456.4,361.68 L456.9,361.79 L457.4,361.76 L457.9,362.15 L458.4,362.01 L458.9,362.08 L459.4,362.17 L459.9,362.50 L460.4,362.30 L460.9,362.49 L461.4,362.67 L461.9,362.63 L462.4,362.87 L462.9,363.07 L463.4,362.84 L463.9,363.22 L464.4,363.17 L464.9,363.40 L465.4,363.21 L465.9,363.26 L466.4,363.68 L466.9,363.49 L467.4,363.85 L467.9,363.67 L468.4,364.02 L468.9,364.11 L469.4,363.93 L469.9,364.31 L470.4,364.26 L470.9,364.46 L471.4,364.32 L471.9,364.56 L472.4,364.61 L472.9,364.59 L473.4,364.74 L473.9,365.10 L474.4,364.90 L474.9,365.27 L475.4,365.15 L475.9,365.21 L476.4,365.44 L476.9,365.54 L477.4,365.54 L477.9,365.59 L478.4,365.83 L478.9,365.72 L479.4,365.87 L479.9,366.23 L480.4,366.09 L480.9,366.27 L481.4,366.54 L481.9,366.35 L482.4,366.38 L482.9,366.71 L483.4,366.82 L483.9,366.96 L484.4,367.15 L484.9,367.08 L485.4,367.23 L485.9,367.34 L486.4,367.17 L486.9,367.64 L487.4,367.41 L487.9,367.55 L488.4,367.62 L488.9,367.99 L489.4,368.14 L489.9,368.09 L490.4,367.99 L490.9,368.10 L491.4,368.23 L491.9,368.37 L492.4,368.45 L492.9,368.85 L493.4,368.78 L493.9,368.74 L494.4,369.18 L494.9,369.03 L495.4,369.02 L495.9,369.11 L496.4,369.34 L496.9,369.55 L497.4,369.71 L497.9,369.73 L498.4,369.99 L498.9,369.99 L499.4,370.17 L499.9,370.10 L500.4,370.15 L500.9,370.19 L501.4,370.52 L501.9,370.36 L502.4,370.57 L502.9,370.68 L503.4,370.75 L503.9,370.96 L504.4,370.97 L504.9,370.96 L505.4,371.16 L505.9,371.15 L506.4,371.43 L506.9,371.35 L507.4,371.51 L507.9,371.68 L508.4,371.62 L508.9,371.77 L509.4,371.95 L509.9,372.01 L510.4,372.20 L510.9,372.25 L511.4,372.41 L511.9,372.32 L512.4,372.56 L512.9,372.46 L513.4,372.89 L513.9,372.67 L514.4,372.74 L514.9,373.16 L515.4,373.06 L515.9,372.98 L516.4,373.09 L516.9,373.17 L517.4,373.42 L517.9,373.37 L518.4,373.57 L518.9,373.79 L519.4,373.84 L519.9,373.70 L520.4,373.89 L520.9,374.00 L521.4,374.16 L521.9,374.16 L522.4,374.34 L522.9,374.38 L523.4,374.34 L523.9,374.32 L524.4,374.55 L524.9,374.61 L525.4,374.49 L525.9,374.70 L526.4,374.82 L526.9,374.76 L527.4,374.73 L527.9,374.69 L528.4,374.98 L528.9,374.87 L529.4,374.90 L529.9,374.91 L530.4,375.26 L530.9,375.31 L531.4,375.12 L531.9,375.19 L532.4,375.28 L532.9,375.41 L533.4,375.27 L533.9,375.35 L534.4,375.63 L534.9,375.76 L535.4,375.45 L535.9,375.67 L536.4,375.78 L536.9,375.71 L537.4,375.94 L537.9,375.67 L538.4,375.97 L538.9,375.85 L539.4,376.05 L539.9,376.09 L540.4,376.27 L540.9,376.20 L541.4,376.08 L541.9,376.04 L542.4,376.34 L542.9,376.41 L543.4,376.32 L543.9,376.29 L544.4,376.40 L544.9,376.34 L545.4,376.61 L545.9,376.59 L546.4,376.41 L546.9,376.37 L547.4,376.47 L547.9,376.63 L548.4,376.72 L548.9,376.80 L549.4,376.78 L549.9,376.76 L550.4,376.72 L550.9,376.94 L551.4,376.97 L551.9,376.72 L552.4,377.11 L552.9,376.93 L553.4,376.89 L553.9,376.91 L554.4,377.13 L554.9,377.13 L555.4,377.29 L555.9,377.02 L556.4,377.17 L556.9,377.32 L557.4,377.16 L557.9,377.33 L558.4,377.50 L558.9,377.20 L559.4,377.45 L559.9,377.56 L560.4,377.45 L560.9,377.54 L561.4,377.39 L561.9,377.64 L562.4,377.46 L562.9,377.37 L563.4,377.77 L563.9,377.71 L564.4,377.84 L564.9,377.54 L565.4,377.71 L565.9,377.91 L566.4,377.72 L566.9,377.84 L567.4,377.90 L567.9,378.00 L568.4,378.05 L568.9,377.72 L569.4,377.82 L569.9,377.99 L570.4,378.04 L570.9,378.05 L571.4,378.16 L571.9,378.12 L572.4,378.13 L572.9,378.01 L573.4,378.03 L573.9,378.16 L574.4,378.10 L574.9,378.23 L575.4,378.03 L575.9,378.19 L576.4,378.13 L576.9,378.33 L577.4,378.35 L577.9,378.08 L578.4,378.35 L578.9,378.43 L579.4,378.53 L579.9,378.33 L580.4,378.44 L580.9,378.28 L581.4,378.25 L581.9,378.30 L582.4,378.59 L582.9,378.56 L583.4,378.34 L583.9,378.46 L584.4,378.40 L584.9,378.37 L585.4,378.56 L585.9,378.54 L586.4,378.68 L586.9,378.35 L587.4,378.36 L587.9,378.61 L588.4,378.63 L588.9,378.53 L589.4,378.70 L589.9,378.75 L590.4,378.81 L590.9,378.45 L591.4,378.48 L591.9,378.50 L592.4,378.54 L592.9,378.69 L593.4,378.86 L593.9,378.85 L594.4,378.86 L594.9,378.52 L595.4,378.53 L595.9,378.71 L596.4,378.86 L596.9,378.86 L597.4,378.87 L597.9,378.82 L598.4,378.73 L598.9,378.91 L599.4,378.79 L599.9,378.79 L600.4,378.79 L600.9,378.72 L601.4,378.60 L601.9,378.95 L602.4,378.83 L602.9,378.68 L603.4,378.77 L603.9,378.61 L604.4,378.76 L604.9,378.97 L605.4,378.65 L605.9,378.77" stroke="#800000"/>
<path d="M152.5,366.28 L153.0,366.38 L153.5,366.02 L154.0,366.09 L154.5,366.04 L155.0,365.79 L155.5,365.84 L156.0,365.79 L156.5,365.36 L157.0,365.46 L157.5,365.36 L158.0,365.28 L158.5,365.15 L159.0,365.04 L159.5,364.64 L160.0,364.74 L160.5,364.43 L161.0,364.25 L161.5,364.24 L162.0,363.91 L162.5,363.96 L163.0,363.72 L163.5,363.62 L164.0,363.12 L164.5,363.30 L165.0,363.02 L165.5,362.52 L166.0,362.47 L166.5,362.21 L167.0,361.92 L167.5,361.65 L168.0,361.73 L168.5,361.30 L169.0,360.80 L169.5,360.52 L170.0,360.52 L170.5,360.24 L171.0,359.78 L171.5,359.56 L172.0,359.02 L172.5,358.64 L173.0,358.59 L173.5,357.96 L174.0,357.77 L174.5,357.31 L175.0,356.93 L175.5,356.34 L176.0,355.86 L176.5,355.26 L177.0,354.88 L177.5,354.60 L178.0,353.97 L178.5,353.52 L179.0,352.97 L179.5,352.42 L180.0,352.17 L180.5,351.64 L181.0,350.76 L181.5,350.60 L182.0,349.92 L182.5,349.36 L183.0,348.76 L183.5,348.21 L184.0,347.67 L184.5,347.14 L185.0,346.58 L185.5,346.15 L186.0,345.64 L186.5,345.14 L187.0,344.35 L187.5,343.74 L188.0,343.43 L188.5,342.89 L189.0,342.17 L189.5,341.78 L190.0,341.39 L190.5,340.63 L191.0,340.03 L191.5,339.82 L192.0,339.26 L192.5,338.94 L193.0,338.30 L193.5,337.69 L194.0,337.53 L194.5,337.09 L195.0,336.66 L195.5,336.07 L196.0,335.75 L196.5,335.08 L197.0,334.72 L197.5,334.46 L198.0,333.96 L198.5,333.86 L199.0,333.38 L199.5,333.04 L200.0,332.90 L200.5,332.39 L201.0,332.06 L201.5,331.85 L202.0,331.45 L202.5,331.32 L203.0,330.75 L203.5,330.64 L204.0,330.19 L204.5,330.13 L205.0,329.56 L205.5,329.41 L206.0,329.22 L206.5,328.90 L207.0,328.47 L207.5,328.46 L208.0,328.19 L208.5,327.50 L209.0,327.40 L209.5,327.00 L210.0,326.91 L210.5,326.36 L211.0,326.25 L211.5,325.82 L212.0,325.26 L212.5,325.24 L213.0,324.58 L213.5,324.42 L214.0,324.17 L214.5,323.87 L215.0,323.15 L215.5,322.92 L216.0,322.62 L216.5,322.14 L217.0,322.10 L217.5,321.75 L218.0,321.01 L218.5,320.82 L219.0,320.51 L219.5,320.26 L220.0,319.69 L220.5,319.64 L221.0,319.15 L221.5,318.81 L222.0,318.62 L222.5,318.07 L223.0,317.86 L223.5,317.40 L224.0,317.38 L224.5,316.78 L225.0,316.47 L225.5,316.39 L226.0,315.94 L226.5,315.88 L227.0,315.26 L227.5,315.16 L228.0,314.76 L228.5,314.35 L229.0,314.20 L229.5,313.73 L230.0,313.82 L230.5,313.37 L231.0,312.91 L231.5,312.74 L232.0,312.55 L232.5,312.29 L233.0,311.77 L233.5,311.62 L234.0,311.54 L234.5,311.21 L235.0,310.76 L235.5,310.39 L236.0,310.18 L236.5,310.12 L237.0,309.60 L237.5,309.39 L238.0,309.06 L238.5,308.97 L239.0,308.96 L239.5,308.57 L240.0,308.21 L240.5,307.91 L241.0,308.08 L241.5,307.65 L242.0,307.49 L242.5,307.19 L243.0,307.15 L243.5,307.10 L244.0,306.77 L244.5,306.55 L245.0,306.62 L245.5,306.13 L246.0,306.16 L246.5,306.19 L247.0,305.88 L247.5,305.73 L248.0,305.83 L248.5,305.64 L249.0,305.57 L249.5,305.37 L250.0,305.21 L250.5,305.26 L251.0,305.31 L251.5,305.03 L252.0,304.98 L252.5,305.11 L253.0,304.80 L253.5,304.71 L254.0,304.77 L254.5,304.92 L255.0,304.72 L255.5,304.59 L256.0,304.56 L256.5,304.59 L257.0,304.75 L257.5,304.42 L258.0,304.58 L258.5,304.70 L259.0,304.63 L259.5,304.48 L260.0,304.64 L260.5,304.36 L261.0,304.24 L261.5,304.34 L262.0,304.33 L262.5,304.55 L263.0,304.26 L263.5,304.21 L264.0,304.30 L264.5,304.35 L265.0,304.54 L265.5,304.29 L266.0,304.32 L266.5,304.30 L267.0,304.30 L267.5,304.25 L268.0,304.54 L268.5,304.42 L269.0,304.48 L269.5,304.66 L270.0,304.50 L270.5,304.55 L271.0,304.58 L271.5,304.97 L272.0,304.94 L272.5,304.93 L273.0,304.85 L273.5,305.15 L274.0,305.06 L274.5,305.45 L275.0,305.61 L275.5,305.48 L276.0,305.58 L276.5,305.62 L277.0,306.04 L277.5,305.87 L278.0,306.11 L278.5,306.12 L279.0,306.32 L279.5,306.73 L280.0,306.69 L280.5,306.71 L281.0,306.89 L281.5,307.01 L282.0,307.36 L282.5,307.60 L283.0,307.59 L283.5,307.70 L284.0,307.95 L284.5,308.44 L285.0,308.56 L285.5,308.63 L286.0,308.67 L286.5,308.93 L287.0,309.03 L287.5,309.38 L288.0,309.48 L288.5,309.91 L289.0,310.17 L289.5,310.20 L290.0,310.46 L290.5,310.62 L291.0,310.88 L291.5,311.36 L292.0,311.25 L292.5,311.47 L293.0,312.03 L293.5,312.20 L294.0,312.43 L294.5,312.34 L295.0,312.74 L295.5,312.82 L296.0,313.21 L296.5,313.57 L297.0,313.61 L297.5,314.00 L298.0,314.00 L298.5,314.27 L299.0,314.34 L299.5,314.51 L300.0,314.66 L300.5,314.87 L301.0,315.18 L301.5,315.64 L302.0,315.72 L302.5,315.91 L303.0,315.91 L303.5,316.13 L304.0,316.55 L304.5,316.78 L305.0,316.65 L305.5,317.22 L306.0,317.27 L306.5,317.33 L307.0,317.81 L307.5,317.85 L308.0,318.08 L308.5,318.23 L309.0,318.29 L309.5,318.71 L310.0,318.86 L310.5,318.79 L311.0,319.10 L311.5,319.36 L312.0,319.61 L312.5,319.84 L313.0,320.05 L313.5,319.99 L314.0,320.09 L314.5,320.38 L315.0,320.48 L315.5,320.99 L316.0,320.91 L316.5,321.15 L317.0,321.33 L317.5,321.47 L318.0,321.72 L318.5,321.79 L319.0,321.95 L319.5,322.51 L320.0,322.69 L320.5,322.59 L321.0,322.83 L321.5,323.09 L322.0,323.17 L322.5,323.51 L323.0,323.48 L323.5,324.01 L324.0,324.17 L324.5,324.14 L325.0,324.30 L325.5,324.77 L326.0,324.97 L326.5,324.83 L327.0,325.01 L327.5,325.31 L328.0,325.59 L328.5,325.84 L329.0,325.99 L329.5,326.20 L330.0,326.45 L330.5,326.66 L331.0,326.54 L331.5,326.91 L332.0,326.92 L332.5,327.28 L333.0,327.62 L333.5,327.51 L334.0,327.74 L334.5,328.02 L335.0,328.12 L335.5,328.45 L336.0,328.61 L336.5,328.78 L337.0,328.91 L337.5,329.23 L338.0,329.40 L338.5,329.70 L339.0,329.77 L339.5,330.31 L340.0,330.44 L340.5,330.47 L341.0,330.77 L341.5,330.80 L342.0,331.30 L342.5,331.50 L343.0,331.71 L343.5,331.64 L344.0,331.94 L344.5,332.10 L345.0,332.40 L345.5,332.57 L346.0,332.99 L346.5,333.00 L347.0,333.37 L347.5,333.57 L348.0,333.66 L348.5,333.70 L349.0,334.12 L349.5,334.10 L350.0,334.70 L350.5,334.52 L351.0,334.74 L351.5,335.04 L352.0,335.41 L352.5,335.68 L353.0,335.56 L353.5,335.93 L354.0,336.21 L354.5,336.30 L355.0,336.78 L355.5,336.74 L356.0,336.93 L356.5,337.36 L357.0,337.58 L357.5,337.75 L358.0,337.71 L358.5,338.17 L359.0,338.16 L359.5,338.31 L360.0,338.57 L360.5,338.95 L361.0,339.10 L361.5,339.33 L362.0,339.42 L362.5,339.60 L363.0,339.94 L363.5,339.84 L364.0,340.11 L364.5,340.48 L365.0,340.72 L365.5,340.82 L366.0,341.00 L366.5,341.01 L367.0,341.35 L367.5,341.68 L368.0,341.57 L368.5,341.96 L369.0,342.23 L369.5,342.28 L370.0,342.35 L370.5,342.70 L371.0,342.58 L371.5,343.11 L372.0,343.19 L372.5,343.12 L373.0,343.49 L373.5,343.56 L374.0,343.87 L374.5,343.83 L375.0,344.02 L375.5,344.50 L376.0,344.36 L376.5,344.63 L377.0,344.73 L377.5,345.07 L378.0,345.18 L378.5,345.39 L379.0,345.64 L379.5,345.55 L380.0,345.87 L380.5,346.13 L381.0,346.10 L381.5,346.27 L382.0,346.38 L382.5,346.58 L383.0,346.85 L383.5,347.13 L384.0,347.30 L384.5,347.17 L385.0,347.59 L385.5,347.69 L386.0,347.68 L386.5,347.96 L387.0,347.97 L387.5,348.36 L388.0,348.55 L388.5,348.61 L389.0,348.71 L389.5,348.87 L390.0,348.88 L390.5,349.03 L391.0,349.29 L391.5,349.32 L392.0,349.68 L392.5,349.80 L393.0,349.84 L393.5,350.14 L394.0,350.08 L394.5,350.46 L395.0,350.33 L395.5,350.49 L396.0,350.80 L396.5,350.81 L397.0,351.27 L397.5,351.19 L398.0,351.59 L398.5,351.35 L399.0,351.75 L399.5,351.65 L400.0,352.03 L400.5,352.20 L401.0,352.37 L401.5,352.53 L402.0,352.56 L402.5,352.73 L403.0,352.82 L403.5,352.82 L404.0,353.08 L404.5,353.17 L405.0,353.26 L405.5,353.54 L406.0,353.66 L406.5,354.02 L407.0,354.10 L407.5,354.22 L408.0,354.24 L408.5,354.68 L409.0,354.46 L409.5,354.67 L410.0,355.04 L410.5,354.99 L411.0,355.39 L411.5,355.17 L412.0,355.62 L412.5,355.75 L413.0,355.98 L413.5,356.01 L414.0,355.96 L414.5,356.23 L415.0,356.28 L415.5,356.69 L416.0,356.72 L416.5,356.78 L417.0,357.05 L417.5,357.25 L418.0,357.29 L418.5,357.44 L419.0,357.35 L419.5,357.62 L420.0,357.70 L420.5,357.85 L421.0,358.15 L421.5,358.31 L422.0,358.43 L422.5,358.55 L423.0,358.70 L423.5,358.60 L424.0,358.71 L424.5,359.21 L425.0,359.15 L425.5,359.25 L426.0,359.61 L426.5,359.61 L427.0,359.56 L427.5,359.92 L428.0,359.77 L428.5,360.08 L429.0,360.14 L429.5,360.45 L430.0,360.66 L430.5,360.61 L431.0,360.85 L431.5,360.88 L432.0,360.80 L432.5,361.06 L433.0,361.33 L433.5,361.24 L434.0,361.29 L434.5,361.63 L435.0,361.70 L435.5,361.90 L436.0,362.14 L436.5,362.23 L437.0,362.07 L437.5,362.30 L438.0,362.51 L438.5,362.55 L439.0,362.89 L439.5,362.77 L440.0,363.06 L440.5,363.09 L441.0,363.23 L441.5,363.42 L442.0,363.35 L442.5,363.69 L443.0,363.52 L443.5,363.73 L444.0,363.74 L444.5,364.15 L445.0,364.15 L445.5,364.28 L446.0,364.35 L446.5,364.46 L447.0,364.52 L447.5,364.66 L448.0,364.59 L448.5,364.86 L449.0,365.02 L449.5,365.05 L450.0,365.29 L450.5,365.37 L451.0,365.30 L451.5,365.36 L452.0,365.61 L452.5,365.83 L453.0,365.79 L453.5,365.74 L454.0,366.12 L454.5,366.14 L455.0,366.01 L455.5,366.10 L456.0,366.41 L456.5,366.58 L457.0,366.75 L457.5,366.85 L458.0,366.92 L458.5,367.03 L459.0,367.00 L459.5,367.22 L460.0,367.24 L460.5,367.26 L461.0,367.19 L461.5,367.44 L462.0,367.74 L462.5,367.76 L463.0,367.78 L463.5,367.91 L464.0,368.07 L464.5,367.94 L465.0,368.20 L465.5,368.15 L466.0,368.35 L466.5,368.23 L467.0,368.57 L467.5,368.75 L468.0,368.75 L468.5,368.85 L469.0,368.97 L469.5,368.95 L470.0,368.89 L470.5,369.11 L471.0,369.34 L471.5,369.33 L472.0,369.39 L472.5,369.68 L473.0,369.56 L473.5,369.89 L474.0,370.03 L474.5,369.77 L475.0,370.00 L475.5,370.07 L476.0,370.09 L476.5,370.38 L477.0,370.31 L477.5,370.40 L478.0,370.49 L478.5,370.65 L479.0,370.73 L479.5,370.71 L480.0,370.87 L480.5,371.08 L481.0,371.17 L481.5,371.06 L482.0,371.20 L482.5,371.33 L483.0,371.55 L483.5,371.63 L484.0,371.60 L484.5,371.52 L485.0,371.60 L485.5,371.60 L486.0,371.63 L486.5,371.95 L487.0,371.94 L487.5,371.92 L488.0,371.92 L488.5,372.03 L489.0,372.26 L489.5,372.35 L490.0,372.29 L490.5,372.55 L491.0,372.48 L491.5,372.36 L492.0,372.39 L492.5,372.83 L493.0,372.85 L493.5,372.73 L494.0,372.61 L494.5,372.91 L495.0,372.99 L495.5,372.82 L496.0,372.86 L496.5,373.13 L497.0,372.94 L497.5,373.20 L498.0,373.04 L498.5,373.05 L499.0,373.25 L499.5,373.04 L500.0,373.35 L500.5,373.45 L501.0,373.15 L501.5,373.30 L502.0,373.17 L502.5,373.52 L503.0,373.52 L503.5,373.61 L504.0,373.61 L504.5,373.29 L505.0,373.59 L505.5,373.67 L506.0,373.58 L506.5,373.46 L507.0,373.48 L507.5,373.68 L508.0,373.50 L508.5,373.47 L509.0,373.82 L509.5,373.65 L510.0,373.77 L510.5,373.57 L511.0,373.73 L511.5,373.71 L512.0,373.95 L512.5,373.65 L513.0,373.96 L513.5,373.69 L514.0,373.96 L514.5,373.83 L515.0,373.72 L515.5,374.02 L516.0,373.85 L516.5,374.13 L517.0,374.10 L517.5,374.08 L518.0,374.14 L518.5,374.05 L519.0,373.87 L519.5,373.91 L520.0,373.93 L520.5,374.04 L521.0,374.29 L521.5,374.27 L522.0,374.20 L522.5,374.20 L523.0,374.37 L523.5,374.25 L524.0,374.49 L524.5,374.42 L525.0,374.29 L525.5,374.56 L526.0,374.32 L526.5,374.56 L527.0,374.57 L527.5,374.43 L528.0,374.61 L528.5,374.76 L529.0,374.72 L529.5,374.57 L530.0,374.68 L530.5,374.74 L531.0,374.96 L531.5,374.69 L532.0,375.07 L532.5,375.11 L533.0,375.11 L533.5,375.20 L534.0,374.90 L534.5,375.14 L535.0,375.33 L535.5,375.37 L536.0,375.41 L536.5,375.31 L537.0,375.23 L537.5,375.24 L538.0,375.43 L538.5,375.41 L539.0,375.70 L539.5,375.67 L540.0,375.52 L540.5,375.71 L541.0,375.65 L541.5,375.56 L542.0,375.65 L542.5,375.99 L543.0,375.89 L543.5,375.98 L544.0,375.86 L544.5,376.05 L545.0,375.87 L545.5,376.02 L546.0,375.94 L546.5,376.32 L547.0,376.37 L547.5,376.24 L548.0,376.30 L548.5,376.47 L549.0,376.42 L549.5,376.33 L550.0,376.64 L550.5,376.32 L551.0,376.56 L551.5,376.52 L552.0,376.59 L552.5,376.67 L553.0,376.65 L553.5,376.61 L554.0,376.76 L554.5,376.95 L555.0,376.88 L555.5,376.95 L556.0,377.06 L556.5,377.01 L557.0,377.06 L557.5,377.10 L558.0,377.20 L558.5,377.09 L559.0,376.89 L559.5,377.07 L560.0,376.99 L560.5,377.21 L561.0,377.32 L561.5,377.33 L562.0,377.08 L562.5,377.09 L563.0,377.44 L563.5,377.48 L564.0,377.26 L564.5,377.44 L565.0,377.60 L565.5,377.56 L566.0,377.26 L566.5,377.47 L567.0,377.70 L567.5,377.50 L568.0,377.51 L568.5,377.69 L569.0,377.56 L569.5,377.60 L570.0,377.68 L570.5,377.78 L571.0,377.63 L571.5,377.76 L572.0,377.62 L572.5,377.66 L573.0,377.58 L573.5,377.78 L574.0,377.69 L574.5,377.84 L575.0,377.97 L575.5,377.97 L576.0,377.73 L576.5,377.95 L577.0,377.84 L577.5,377.94 L578.0,377.91 L578.5,377.91 L579.0,377.78 L579.5,378.06 L580.0,378.07 L580.5,378.01 L581.0,378.16 L581.5,378.16 L582.0,378.24 L582.5,377.94 L583.0,377.92 L583.5,378.06 L584.0,378.20 L584.5,378.23 L585.0,378.24 L585.5,378.14 L586.0,378.13 L586.5,378.21 L587.0,378.36 L587.5,378.32 L588.0,378.09 L588.5,378.05 L589.0,378.14 L589.5,378.24 L590.0,378.37 L590.5,378.26 L591.0,378.46 L591.5,378.43 L592.0,378.34 L592.5,378.27 L593.0,378.26 L593.5,378.38 L594.0,378.50 L594.5,378.34 L595.0,378.52 L595.5,378.27 L596.0,378.51 L596.5,378.46 L597.0,378.30 L597.5,378.55 L598.0,378.35 L598.5,378.26 L599.0,378.39 L599.5,378.62 L600.0,378.40 L600.5,378.43 L601.0,378.49 L601.5,378.64 L602.0,378.47 L602.5,378.68 L603.0,378.50 L603.5,378.51 L604.0,378.54 L604.5,378.68 L605.0,378.48 L605.5,378.51 L606.0,378.65" stroke="#008000"/>
<path d="M152.5,298.60 L154.4,326.16 L156.6,340.96 L157.1,341.02 L157.6,341.13 L158.1,340.75 L158.6,341.02 L159.1,340.85 L159.6,340.95 L160.1,340.60 L160.6,340.61 L161.1,340.60 L161.6,340.61 L162.1,340.67 L162.6,340.63 L163.1,340.48 L163.6,340.52 L164.1,340.43 L164.6,340.28 L165.1,340.36 L165.6,340.24 L166.1,340.00 L166.6,339.96 L167.1,339.95 L167.6,339.69 L168.1,339.51 L168.6,339.26 L169.1,339.21 L169.6,339.07 L170.1,338.92 L170.6,338.66 L171.1,338.54 L171.6,338.70 L172.1,338.22 L172.6,338.13 L173.1,337.73 L173.6,337.87 L174.1,337.65 L174.6,337.25 L175.1,336.85 L175.6,336.63 L176.1,336.62 L176.6,336.12 L177.1,335.86 L177.6,335.76 L178.1,335.53 L178.6,335.26 L179.1,334.74 L179.6,334.57 L180.1,334.05 L180.6,333.68 L181.1,333.38 L181.6,333.01 L182.1,332.46 L182.6,332.11 L183.1,331.81 L183.6,331.24 L184.1,330.69 L184.6,330.43 L185.1,329.87 L185.6,329.21 L186.1,328.82 L186.6,328.15 L187.1,327.76 L187.6,327.28 L188.1,326.52 L188.6,326.18 L189.1,325.43 L189.6,325.19 L190.1,324.37 L190.6,323.89 L191.1,323.30 L191.6,323.04 L192.1,322.48 L192.6,321.97 L193.1,321.74 L193.6,320.93 L194.1,320.78 L194.6,320.40 L195.1,320.03 L195.6,319.60 L196.1,319.43 L196.6,318.84 L197.1,318.74 L197.6,318.62 L198.1,318.54 L198.6,318.05 L199.1,318.21 L199.6,318.12 L200.1,317.76 L200.6,317.91 L201.1,317.77 L201.6,317.97 L202.1,317.80 L202.6,317.90 L203.1,317.74 L203.6,317.83 L204.1,317.92 L204.6,318.25 L205.1,318.27 L205.6,318.35 L206.1,318.31 L206.6,318.54 L207.1,318.54 L207.6,318.78 L208.1,318.89 L208.6,319.01 L209.1,318.96 L209.6,318.85 L210.1,319.32 L210.6,319.18 L211.1,319.16 L211.6,319.53 L212.1,319.56 L212.6,319.70 L213.1,319.73 L213.6,319.44 L214.1,319.78 L214.6,319.60 L215.1,319.80 L215.6,319.87 L216.1,319.86 L216.6,319.72 L217.1,319.86 L217.6,320.07 L218.1,319.96 L218.6,320.08 L219.1,319.69 L219.6,319.69 L220.1,319.97 L220.6,319.75 L221.1,319.72 L221.6,319.88 L222.1,319.75 L222.6,319.64 L223.1,319.50 L223.6,319.50 L224.1,319.47 L224.6,319.52 L225.1,319.51 L225.6,319.24 L226.1,319.21 L226.6,319.34 L227.1,319.14 L227.6,319.01 L228.1,318.92 L228.6,319.00 L229.1,318.75 L229.6,318.82 L230.1,318.62 L230.6,318.73 L231.1,318.74 L231.6,318.45 L232.1,318.31 L232.6,318.28 L233.1,318.06 L233.6,318.03 L234.1,318.01 L234.6,317.90 L235.1,317.62 L235.6,317.51 L236.1,317.66 L236.6,317.59 L237.1,317.32 L237.6,317.06 L238.1,317.07 L238.6,317.09 L239.1,316.94 L239.6,316.74 L240.1,316.61 L240.6,316.68 L241.1,316.68 L241.6,316.35 L242.1,316.32 L242.6,316.55 L243.1,316.43 L243.6,316.33 L244.1,316.17 L244.6,316.12 L245.1,315.95 L245.6,316.10 L246.1,315.87 L246.6,315.87 L247.1,315.93 L247.6,315.79 L248.1,315.89 L248.6,315.84 L249.1,316.01 L249.6,315.73 L250.1,315.69 L250.6,315.63 L251.1,315.86 L251.6,315.83 L252.1,315.64 L252.6,315.81 L253.1,315.91 L253.6,315.90 L254.1,315.72 L254.6,316.01 L255.1,315.97 L255.6,315.85 L256.1,315.90 L256.6,315.95 L257.1,315.86 L257.6,315.96 L258.1,316.12 L258.6,315.92 L259.1,316.25 L259.6,316.08 L260.1,316.27 L260.6,316.03 L261.1,316.36 L261.6,316.30 L262.1,316.43 L262.6,316.48 L263.1,316.45 L263.6,316.41 L264.1,316.31 L264.6,316.58 L265.1,316.56 L265.6,316.59 L266.1,316.45 L266.6,316.57 L267.1,316.74 L267.6,316.55 L268.1,316.91 L268.6,316.77 L269.1,316.65 L269.6,316.72 L270.1,317.09 L270.6,316.81 L271.1,317.07 L271.6,316.98 L272.1,317.18 L272.6,317.01 L273.1,317.30 L273.6,317.04 L274.1,317.13 L274.6,317.15 L275.1,317.46 L275.6,317.26 L276.1,317.63 L276.6,317.71 L277.1,317.54 L277.6,317.69 L278.1,317.87 L278.6,317.95 L279.1,317.76 L279.6,318.11 L280.1,318.12 L280.6,318.08 L281.1,318.20 L281.6,318.42 L282.1,318.46 L282.6,318.40 L283.1,318.81 L283.6,318.88 L284.1,318.90 L284.6,319.13 L285.1,319.04 L285.6,319.36 L286.1,319.35 L286.6,319.73 L287.1,319.53 L287.6,319.84 L288.1,320.08 L288.6,319.99 L289.1,320.32 L289.6,320.42 L290.1,320.69 L290.6,320.92 L291.1,320.93 L291.6,321.14 L292.1,321.34 L292.6,321.62 L293.1,321.82 L293.6,321.88 L294.1,322.04 L294.6,322.24 L295.1,322.55 L295.6,322.71 L296.1,322.86 L296.6,322.97 L297.1,323.35 L297.6,323.44 L298.1,323.46 L298.6,323.77 L299.1,324.14 L299.6,324.25 L300.1,324.11 L300.6,324.58 L301.1,324.51 L301.6,324.78 L302.1,324.81 L302.6,325.14 L303.1,325.21 L303.6,325.56 L304.1,325.75 L304.6,325.72 L305.1,325.94 L305.6,326.39 L306.1,326.18 L306.6,326.59 L307.1,326.77 L307.6,326.89 L308.1,327.00 L308.6,327.28 L309.1,327.36 L309.6,327.43 L310.1,327.84 L310.6,327.77 L311.1,328.08 L311.6,328.24 L312.1,328.50 L312.6,328.51 L313.1,328.68 L313.6,328.79 L314.1,329.18 L314.6,329.12 L315.1,329.47 L315.6,329.37 L316.1,329.49 L316.6,329.66 L317.1,329.75 L317.6,330.00 L318.1,330.32 L318.6,330.33 L319.1,330.52 L319.6,330.75 L320.1,330.85 L320.6,330.89 L321.1,331.01 L321.6,331.39 L322.1,331.63 L322.6,331.59 L323.1,331.85 L323.6,331.89 L324.1,332.13 L324.6,332.36 L325.1,332.41 L325.6,332.77 L326.1,332.96 L326.6,332.77 L327.1,333.16 L327.6,333.16 L328.1,333.56 L328.6,333.73 L329.1,333.83 L329.6,333.84 L330.1,334.20 L330.6,334.01 L331.1,334.20 L331.6,334.37 L332.1,334.67 L332.6,334.75 L333.1,334.94 L333.6,335.17 L334.1,335.45 L334.6,335.60 L335.1,335.55 L335.6,335.88 L336.1,335.98 L336.6,336.16 L337.1,336.07 L337.6,336.43 L338.1,336.44 L338.6,336.52 L339.1,336.95 L339.6,336.89 L340.1,336.98 L340.6,337.51 L341.1,337.48 L341.6,337.62 L342.1,337.86 L342.6,337.76 L343.1,337.97 L343.6,338.14 L344.1,338.41 L344.6,338.41 L345.1,338.59 L345.6,338.70 L346.1,339.14 L346.6,339.11 L347.1,339.17 L347.6,339.39 L348.1,339.78 L348.6,339.89 L349.1,339.93 L349.6,339.97 L350.1,340.42 L350.6,340.60 L351.1,340.56 L351.6,340.94 L352.1,341.06 L352.6,340.91 L353.1,341.26 L353.6,341.53 L354.1,341.46 L354.6,341.79 L355.1,342.06 L355.6,342.16 L356.1,342.17 L356.6,342.20 L357.1,342.44 L357.6,342.80 L358.1,342.73 L358.6,343.00 L359.1,343.26 L359.6,343.26 L360.1,343.49 L360.6,343.48 L361.1,343.53 L361.6,344.07 L362.1,344.21 L362.6,344.19 L363.1,344.25 L363.6,344.53 L364.1,344.80 L364.6,344.76 L365.1,344.83 L365.6,345.13 L366.1,345.13 L366.6,345.31 L367.1,345.68 L367.6,345.52 L368.1,345.96 L368.6,345.85 L369.1,346.17 L369.6,346.16 L370.1,346.35 L370.6,346.61 L371.1,346.54 L371.6,346.83 L372.1,346.79 L372.6,347.20 L373.1,347.17 L373.6,347.44 L374.1,347.52 L374.6,347.72 L375.1,348.03 L375.6,347.78 L376.1,348.22 L376.6,348.41 L377.1,348.52 L377.6,348.42 L378.1,348.50 L378.6,348.62 L379.1,348.90 L379.6,349.09 L380.1,349.33 L380.6,349.53 L381.1,349.52 L381.6,349.61 L382.1,349.86 L382.6,350.00 L383.1,350.11 L383.6,350.04 L384.1,350.35 L384.6,350.55 L385.1,350.46 L385.6,350.96 L386.1,350.84 L386.6,351.05 L387.1,351.15 L387.6,351.44 L388.1,351.48 L388.6,351.46 L389.1,351.55 L389.6,351.91 L390.1,351.97 L390.6,352.22 L391.1,352.45 L391.6,352.40 L392.1,352.76 L392.6,352.76 L393.1,352.84 L393.6,352.99 L394.1,353.23 L394.6,353.38 L395.1,353.30 L395.6,353.41 L396.1,353.57 L396.6,353.75 L397.1,353.86 L397.6,354.21 L398.1,354.38 L398.6,354.42 L399.1,354.62 L399.6,354.62 L400.1,354.56 L400.6,354.92 L401.1,354.87 L401.6,355.04 L402.1,355.48 L402.6,355.60 L403.1,355.50 L403.6,355.69 L404.1,355.73 L404.6,355.87 L405.1,356.27 L405.6,356.42 L406.1,356.60 L406.6,356.53 L407.1,356.73 L407.6,356.63 L408.1,356.90 L408.6,357.16 L409.1,357.14 L409.6,357.26 L410.1,357.32 L410.6,357.65 L411.1,357.75 L411.6,357.94 L412.1,357.96 L412.6,358.20 L413.1,358.35 L413.6,358.51 L414.1,358.68 L414.6,358.70 L415.1,358.84 L415.6,358.80 L416.1,359.18 L416.6,359.21 L417.1,359.48 L417.6,359.56 L418.1,359.63 L418.6,359.54 L419.1,359.87 L419.6,360.18 L420.1,360.28 L420.6,360.14 L421.1,360.50 L421.6,360.65 L422.1,360.71 L422.6,360.84 L423.1,360.72 L423.6,360.92 L424.1,360.88 L424.6,361.22 L425.1,361.28 L425.6,361.29 L426.1,361.59 L426.6,361.44 L427.1,361.88 L427.6,361.81 L428.1,361.83 L428.6,361.95 L429.1,362.00 L429.6,362.18 L430.1,362.40 L430.6,362.32 L431.1,362.74 L431.6,362.81 L432.1,362.88 L432.6,362.65 L433.1,362.94 L433.6,362.85 L434.1,363.10 L434.6,363.20 L435.1,363.21 L435.6,363.52 L436.1,363.32 L436.6,363.63 L437.1,363.73 L437.6,363.80 L438.1,363.95 L438.6,363.78 L439.1,363.92 L439.6,363.86 L440.1,364.11 L440.6,363.94 L441.1,364.16 L441.6,364.41 L442.1,364.32 L442.6,364.22 L443.1,364.41 L443.6,364.36 L444.1,364.48 L444.6,364.62 L445.1,364.70 L445.6,364.81 L446.1,364.64 L446.6,364.79 L447.1,364.94 L447.6,365.03 L448.1,364.92 L448.6,364.96 L449.1,364.83 L449.6,365.16 L450.1,365.18 L450.6,365.10 L451.1,365.14 L451.6,365.05 L452.1,365.35 L452.6,365.25 L453.1,365.13 L453.6,365.35 L454.1,365.47 L454.6,365.53 L455.1,365.30 L455.6,365.25 L456.1,365.62 L456.6,365.39 L457.1,365.39 L457.6,365.74 L458.1,365.76 L458.6,365.60 L459.1,365.74 L459.6,365.51 L460.1,365.65 L460.6,365.70 L461.1,365.85 L461.6,365.68 L462.1,366.09 L462.6,366.04 L463.1,365.96 L463.6,366.07 L464.1,365.92 L464.6,366.10 L465.1,366.28 L465.6,366.26 L466.1,366.31 L466.6,366.27 L467.1,366.56 L467.6,366.54 L468.1,366.54 L468.6,366.71 L469.1,366.55 L469.6,366.58 L470.1,366.91 L470.6,367.03 L471.1,367.07 L471.6,367.11 L472.1,367.15 L472.6,367.17 L473.1,367.13 L473.6,367.50 L474.1,367.50 L474.6,367.52 L475.1,367.65 L475.6,367.80 L476.1,367.82 L476.6,367.82 L477.1,367.93 L477.6,368.11 L478.1,368.25 L478.6,368.38 L479.1,368.44 L479.6,368.58 L480.1,368.68 L480.6,368.50 L481.1,368.79 L481.6,368.65 L482.1,368.91 L482.6,368.84 L483.1,369.09 L483.6,369.08 L484.1,369.12 L484.6,369.43 L485.1,369.38 L485.6,369.72 L486.1,369.48 L486.6,369.93 L487.1,369.71 L487.6,369.98 L488.1,369.89 L488.6,370.15 L489.1,370.16 L489.6,370.18 L490.1,370.37 L490.6,370.45 L491.1,370.61 L491.6,370.48 L492.1,370.49 L492.6,370.78 L493.1,370.59 L493.6,370.73 L494.1,370.88 L494.6,370.99 L495.1,370.84 L495.6,371.15 L496.1,371.31 L496.6,371.29 L497.1,371.06 L497.6,371.45 L498.1,371.38 L498.6,371.38 L499.1,371.40 L499.6,371.29 L500.1,371.57 L500.6,371.48 L501.1,371.53 L501.6,371.65 L502.1,371.80 L502.6,371.67 L503.1,371.52 L503.6,371.75 L504.1,371.84 L504.6,371.85 L505.1,371.71 L505.6,371.89 L506.1,371.71 L506.6,371.85 L507.1,371.94 L507.6,371.93 L508.1,371.78 L508.6,372.08 L509.1,372.08 L509.6,372.13 L510.1,371.83 L510.6,372.21 L511.1,371.96 L511.6,371.96 L512.1,372.14 L512.6,372.15 L513.1,372.16 L513.6,372.09 L514.1,372.27 L514.6,372.03 L515.1,372.19 L515.6,372.24 L516.1,372.17 L516.6,372.02 L517.1,372.35 L517.6,372.27 L518.1,372.15 L518.6,372.32 L519.1,372.08 L519.6,372.49 L520.1,372.18 L520.6,372.53 L521.1,372.38 L521.6,372.52 L522.1,372.38 L522.6,372.46 L523.1,372.33 L523.6,372.42 L524.1,372.67 L524.6,372.67 L525.1,372.57 L525.6,372.68 L526.1,372.41 L526.6,372.51 L527.1,372.69 L527.6,372.67 L528.1,372.77 L528.6,372.80 L529.1,372.88 L529.6,372.94 L530.1,372.85 L530.6,372.66 L531.1,372.87 L531.6,372.97 L532.1,372.71 L532.6,373.12 L533.1,372.96 L533.6,372.87 L534.1,373.02 L534.6,373.15 L535.1,373.27 L535.6,373.07 L536.1,373.24 L536.6,373.38 L537.1,373.38 L537.6,373.16 L538.1,373.20 L538.6,373.26 L539.1,373.47 L539.6,373.51 L540.1,373.34 L540.6,373.42 L541.1,373.69 L541.6,373.61 L542.1,373.49 L542.6,373.74 L543.1,373.61 L543.6,373.90 L544.1,373.87 L544.6,373.92 L545.1,373.97 L545.6,373.71 L546.1,373.72 L546.6,373.76 L547.1,374.15 L547.6,373.90 L548.1,374.02 L548.6,374.24 L549.1,374.02 L549.6,374.24 L550.1,374.43 L550.6,374.30 L551.1,374.45 L551.6,374.40 L552.1,374.60 L552.6,374.63 L553.1,374.67 L553.6,374.73 L554.1,374.39 L554.6,374.58 L555.1,374.86 L555.6,374.91 L556.1,374.77 L556.6,374.76 L557.1,374.66 L557.6,374.93 L558.1,375.05 L558.6,375.10 L559.1,374.95 L559.6,375.00 L560.1,374.97 L560.6,375.34 L561.1,375.02 L561.6,375.14 L562.1,375.36 L562.6,375.52 L563.1,375.22 L563.6,375.60 L564.1,375.50 L564.6,375.49 L565.1,375.47 L565.6,375.49 L566.1,375.75 L566.6,375.70 L567.1,375.90 L567.6,375.93 L568.1,375.96 L568.6,375.84 L569.1,375.90 L569.6,375.70 L570.1,376.01 L570.6,376.11 L571.1,376.16 L571.6,376.12 L572.1,375.87 L572.6,375.93 L573.1,376.21 L573.6,376.30 L574.1,376.06 L574.6,376.43 L575.1,376.44 L575.6,376.40 L576.1,376.50 L576.6,376.41 L577.1,376.29 L577.6,376.23 L578.1,376.36 L578.6,376.28 L579.1,376.37 L579.6,376.50 L580.1,376.72 L580.6,376.46 L581.1,376.38 L581.6,376.73 L582.1,376.46 L582.6,376.45 L583.1,376.67 L583.6,376.59 L584.1,376.71 L584.6,376.56 L585.1,376.78 L585.6,376.68 L586.1,376.85 L586.6,376.58 L587.1,376.88 L587.6,376.89 L588.1,376.74 L588.6,376.78 L589.1,376.64 L589.6,376.70 L590.1,376.72 L590.6,376.63 L591.1,376.90 L591.6,376.84 L592.1,376.81 L592.6,376.84 L593.1,376.57 L593.6,376.62 L594.1,376.66 L594.6,376.71 L595.1,376.78 L595.6,376.71 L596.1,376.77 L596.6,376.70 L597.1,376.51 L597.6,376.51 L598.1,376.84 L598.6,376.65 L599.1,376.72 L599.6,376.56 L600.1,376.67 L600.6,376.59 L601.1,376.78 L601.6,376.61 L602.1,376.42 L602.6,376.62 L603.1,376.47 L603.6,376.38 L604.1,376.50 L604.6,376.67 L605.1,376.48 L605.6,376.64" stroke="#008080"/>
<path d="M152.5,369.72 L153.0,369.86 L153.5,369.68 L154.0,369.45 L154.5,369.34 L155.0,368.98 L155.5,368.66 L156.0,368.53 L156.5,368.28 L157.0,368.14 L157.5,368.16 L158.0,367.80 L158.5,367.77 L159.0,367.68 L159.5,367.32 L160.0,367.04 L160.5,366.83 L161.0,366.88 L161.5,366.69 L162.0,366.35 L162.5,366.06 L163.0,365.89 L163.5,365.61 L164.0,365.50 L164.5,365.44 L165.0,364.98 L165.5,364.79 L166.0,364.53 L166.5,364.36 L167.0,364.39 L167.5,364.08 L168.0,363.66 L168.5,363.51 L169.0,363.41 L169.5,362.93 L170.0,362.80 L170.5,362.50 L171.0,361.98 L171.5,361.88 L172.0,361.34 L172.5,360.94 L173.0,360.91 L173.5,360.44 L174.0,360.07 L174.5,359.73 L175.0,359.37 L175.5,358.64 L176.0,358.49 L176.5,357.97 L177.0,357.60 L177.5,357.14 L178.0,356.37 L178.5,356.01 L179.0,355.57 L179.5,355.05 L180.0,354.55 L180.5,353.82 L181.0,353.48 L181.5,352.93 L182.0,352.47 L182.5,351.75 L183.0,351.09 L183.5,350.51 L184.0,349.79 L184.5,349.27 L185.0,348.87 L185.5,348.13 L186.0,347.45 L186.5,346.95 L187.0,346.51 L187.5,345.94 L188.0,345.19 L188.5,344.67 L189.0,344.05 L189.5,343.52 L190.0,342.74 L190.5,342.06 L191.0,341.48 L191.5,340.99 L192.0,340.74 L192.5,339.92 L193.0,339.68 L193.5,339.20 L194.0,338.42 L194.5,337.86 L195.0,337.44 L195.5,337.08 L196.0,336.67 L196.5,336.41 L197.0,336.06 L197.5,335.70 L198.0,335.31 L198.5,334.98 L199.0,334.67 L199.5,334.82 L200.0,334.25 L200.5,334.04 L201.0,333.91 L201.5,333.75 L202.0,333.67 L202.5,333.41 L203.0,333.36 L203.5,333.45 L204.0,333.43 L204.5,333.34 L205.0,333.26 L205.5,333.26 L206.0,333.13 L206.5,333.05 L207.0,333.18 L207.5,333.18 L208.0,333.15 L208.5,333.25 L209.0,332.98 L209.5,333.10 L210.0,333.21 L210.5,333.28 L211.0,333.03 L211.5,333.36 L212.0,333.23 L212.5,333.28 L213.0,333.45 L213.5,333.42 L214.0,333.22 L214.5,333.28 L215.0,333.49 L215.5,333.65 L216.0,333.50 L216.5,333.76 L217.0,333.50 L217.5,333.75 L218.0,333.50 L218.5,333.42 L219.0,333.80 L219.5,333.68 L220.0,333.62 L220.5,333.67 L221.0,333.44 L221.5,333.33 L222.0,333.61 L222.5,333.18 L223.0,333.28 L223.5,333.33 L224.0,333.28 L224.5,333.12 L225.0,333.11 L225.5,332.87 L226.0,332.90 L226.5,332.48 L227.0,332.42 L227.5,332.54 L228.0,332.42 L228.5,332.04 L229.0,332.12 L229.5,332.03 L230.0,331.72 L230.5,331.62 L231.0,331.57 L231.5,331.64 L232.0,331.30 L232.5,331.13 L233.0,331.01 L233.5,331.14 L234.0,330.80 L234.5,330.57 L235.0,330.58 L235.5,330.57 L236.0,330.48 L236.5,330.10 L237.0,330.09 L237.5,329.90 L238.0,330.12 L238.5,329.84 L239.0,329.58 L239.5,329.49 L240.0,329.55 L240.5,329.43 L241.0,329.55 L241.5,329.50 L242.0,329.29 L242.5,329.08 L243.0,329.28 L243.5,329.20 L244.0,328.98 L244.5,328.83 L245.0,329.01 L245.5,328.94 L246.0,328.61 L246.5,328.59 L247.0,328.76 L247.5,328.60 L248.0,328.60 L248.5,328.55 L249.0,328.56 L249.5,328.57 L250.0,328.55 L250.5,328.68 L251.0,328.47 L251.5,328.54 L252.0,328.58 L252.5,328.24 L253.0,328.57 L253.5,328.33 L254.0,328.35 L254.5,328.42 L255.0,328.42 L255.5,328.37 L256.0,328.29 L256.5,328.38 L257.0,328.61 L257.5,328.30 L258.0,328.38 L258.5,328.36 L259.0,328.65 L259.5,328.54 L260.0,328.48 L260.5,328.50 L261.0,328.55 L261.5,328.62 L262.0,328.66 L262.5,328.45 L263.0,328.45 L263.5,328.67 L264.0,328.52 L264.5,328.46 L265.0,328.55 L265.5,328.45 L266.0,328.75 L266.5,328.59 L267.0,328.74 L267.5,328.76 L268.0,328.54 L268.5,328.79 L269.0,328.79 L269.5,328.97 L270.0,328.64 L270.5,328.85 L271.0,328.96 L271.5,328.99 L272.0,328.85 L272.5,328.91 L273.0,329.09 L273.5,329.26 L274.0,329.37 L274.5,329.46 L275.0,329.35 L275.5,329.67 L276.0,329.60 L276.5,329.71 L277.0,329.66 L277.5,329.93 L278.0,329.80 L278.5,330.09 L279.0,330.08 L279.5,330.07 L280.0,330.27 L280.5,330.30 L281.0,330.60 L281.5,330.66 L282.0,330.70 L282.5,330.92 L283.0,330.88 L283.5,331.17 L284.0,331.25 L284.5,331.48 L285.0,331.38 L285.5,331.73 L286.0,331.62 L286.5,331.99 L287.0,331.98 L287.5,331.89 L288.0,332.12 L288.5,332.45 L289.0,332.32 L289.5,332.41 L290.0,332.59 L290.5,332.98 L291.0,333.06 L291.5,333.08 L292.0,333.33 L292.5,333.25 L293.0,333.49 L293.5,333.59 L294.0,333.74 L294.5,334.10 L295.0,333.93 L295.5,334.02 L296.0,334.31 L296.5,334.37 L297.0,334.43 L297.5,334.60 L298.0,335.03 L298.5,335.08 L299.0,335.31 L299.5,335.51 L300.0,335.55 L300.5,335.53 L301.0,335.61 L301.5,335.75 L302.0,336.13 L302.5,336.13 L303.0,336.30 L303.5,336.64 L304.0,336.75 L304.5,336.86 L305.0,337.02 L305.5,337.12 L306.0,337.31 L306.5,337.50 L307.0,337.46 L307.5,337.67 L308.0,337.92 L308.5,338.04 L309.0,338.30 L309.5,338.31 L310.0,338.39 L310.5,338.57 L311.0,338.55 L311.5,339.02 L312.0,338.88 L312.5,339.18 L313.0,339.24 L313.5,339.30 L314.0,339.47 L314.5,339.73 L315.0,339.85 L315.5,339.85 L316.0,340.05 L316.5,340.25 L317.0,340.30 L317.5,340.59 L318.0,340.56 L318.5,340.78 L319.0,341.19 L319.5,341.22 L320.0,341.51 L320.5,341.47 L321.0,341.66 L321.5,341.91 L322.0,341.81 L322.5,342.01 L323.0,342.09 L323.5,342.44 L324.0,342.37 L324.5,342.79 L325.0,342.79 L325.5,342.75 L326.0,343.19 L326.5,343.15 L327.0,343.15 L327.5,343.54 L328.0,343.58 L328.5,343.87 L329.0,343.67 L329.5,343.97 L330.0,343.98 L330.5,344.22 L331.0,344.26 L331.5,344.41 L332.0,344.62 L332.5,344.92 L333.0,345.14 L333.5,345.04 L334.0,345.10 L334.5,345.18 L335.0,345.37 L335.5,345.72 L336.0,345.62 L336.5,345.94 L337.0,345.95 L337.5,346.33 L338.0,346.28 L338.5,346.36 L339.0,346.47 L339.5,346.52 L340.0,346.78 L340.5,346.91 L341.0,346.95 L341.5,347.23 L342.0,347.23 L342.5,347.56 L343.0,347.66 L343.5,347.83 L344.0,347.76 L344.5,347.99 L345.0,348.08 L345.5,348.44 L346.0,348.24 L346.5,348.61 L347.0,348.54 L347.5,348.67 L348.0,349.03 L348.5,348.84 L349.0,349.25 L349.5,349.41 L350.0,349.31 L350.5,349.51 L351.0,349.68 L351.5,349.81 L352.0,349.88 L352.5,349.92 L353.0,350.10 L353.5,350.36 L354.0,350.41 L354.5,350.68 L355.0,350.68 L355.5,350.71 L356.0,350.82 L356.5,350.98 L357.0,351.16 L357.5,351.21 L358.0,351.29 L358.5,351.55 L359.0,351.59 L359.5,351.76 L360.0,352.11 L360.5,352.25 L361.0,352.24 L361.5,352.23 L362.0,352.33 L362.5,352.65 L363.0,352.90 L363.5,352.72 L364.0,353.01 L364.5,353.15 L365.0,353.46 L365.5,353.28 L366.0,353.47 L366.5,353.64 L367.0,353.92 L367.5,353.87 L368.0,354.06 L368.5,354.05 L369.0,354.52 L369.5,354.36 L370.0,354.40 L370.5,354.82 L371.0,354.73 L371.5,354.92 L372.0,355.26 L372.5,355.35 L373.0,355.49 L373.5,355.52 L374.0,355.53 L374.5,355.97 L375.0,356.03 L375.5,355.97 L376.0,356.03 L376.5,356.41 L377.0,356.42 L377.5,356.44 L378.0,356.74 L378.5,357.01 L379.0,356.96 L379.5,356.96 L380.0,357.39 L380.5,357.22 L381.0,357.59 L381.5,357.54 L382.0,357.90 L382.5,357.78 L383.0,358.03 L383.5,358.13 L384.0,358.41 L384.5,358.22 L385.0,358.36 L385.5,358.81 L386.0,358.67 L386.5,358.73 L387.0,358.97 L387.5,359.08 L388.0,359.24 L388.5,359.29 L389.0,359.65 L389.5,359.62 L390.0,359.73 L390.5,360.03 L391.0,360.09 L391.5,360.12 L392.0,360.34 L392.5,360.20 L393.0,360.64 L393.5,360.72 L394.0,360.66 L394.5,360.84 L395.0,360.99 L395.5,361.23 L396.0,361.28 L396.5,361.19 L397.0,361.30 L397.5,361.39 L398.0,361.64 L398.5,361.64 L399.0,361.99 L399.5,362.01 L400.0,361.99 L400.5,362.28 L401.0,362.20 L401.5,362.52 L402.0,362.58 L402.5,362.65 L403.0,362.50 L403.5,362.78 L404.0,362.78 L404.5,363.06 L405.0,362.98 L405.5,363.27 L406.0,363.28 L406.5,363.47 L407.0,363.56 L407.5,363.48 L408.0,363.66 L408.5,363.71 L409.0,363.88 L409.5,363.89 L410.0,363.77 L410.5,364.17 L411.0,364.28 L411.5,364.13 L412.0,364.29 L412.5,364.32 L413.0,364.37 L413.5,364.59 L414.0,364.73 L414.5,364.84 L415.0,364.63 L415.5,364.75 L416.0,365.04 L416.5,364.93 L417.0,364.92 L417.5,365.03 L418.0,365.03 L418.5,365.17 L419.0,365.49 L419.5,365.31 L420.0,365.54 L420.5,365.67 L421.0,365.81 L421.5,365.80 L422.0,365.84 L422.5,365.98 L423.0,366.05 L423.5,366.17 L424.0,365.85 L424.5,365.98 L425.0,366.25 L425.5,366.40 L426.0,366.36 L426.5,366.23 L427.0,366.52 L427.5,366.36 L428.0,366.70 L428.5,366.75 L429.0,366.58 L429.5,366.57 L430.0,366.97 L430.5,366.80 L431.0,367.10 L431.5,366.93 L432.0,367.16 L432.5,367.15 L433.0,367.07 L433.5,367.46 L434.0,367.51 L434.5,367.51 L435.0,367.60 L435.5,367.61 L436.0,367.51 L436.5,367.72 L437.0,367.61 L437.5,367.82 L438.0,367.87 L438.5,367.85 L439.0,368.09 L439.5,368.15 L440.0,367.95 L440.5,368.21 L441.0,368.17 L441.5,368.09 L442.0,368.48 L442.5,368.50 L443.0,368.46 L443.5,368.48 L444.0,368.56 L444.5,368.45 L445.0,368.86 L445.5,368.72 L446.0,368.98 L446.5,369.00 L447.0,368.80 L447.5,369.16 L448.0,369.22 L448.5,368.97 L449.0,369.06 L449.5,369.37 L450.0,369.23 L450.5,369.39 L451.0,369.40 L451.5,369.31 L452.0,369.36 L452.5,369.78 L453.0,369.62 L453.5,369.92 L454.0,369.92 L454.5,370.07 L455.0,369.88 L455.5,370.04 L456.0,370.14 L456.5,370.23 L457.0,370.30 L457.5,370.06 L458.0,370.17 L458.5,370.26 L459.0,370.56 L459.5,370.42 L460.0,370.66 L460.5,370.81 L461.0,370.77 L461.5,370.80 L462.0,370.79 L462.5,370.77 L463.0,371.16 L463.5,371.15 L464.0,371.10 L464.5,371.19 L465.0,371.04 L465.5,371.14 L466.0,371.29 L466.5,371.27 L467.0,371.46 L467.5,371.47 L468.0,371.54 L468.5,371.68 L469.0,371.54 L469.5,371.74 L470.0,371.97 L470.5,371.76 L471.0,372.07 L471.5,372.03 L472.0,372.00 L472.5,371.99 L473.0,372.41 L473.5,372.47 L474.0,372.52 L474.5,372.21 L475.0,372.51 L475.5,372.42 L476.0,372.71 L476.5,372.54 L477.0,372.63 L477.5,372.89 L478.0,372.92 L478.5,372.92 L479.0,372.98 L479.5,373.14 L480.0,373.02 L480.5,373.12 L481.0,373.16 L481.5,373.21 L482.0,373.34 L482.5,373.23 L483.0,373.29 L483.5,373.51 L484.0,373.56 L484.5,373.56 L485.0,373.82 L485.5,373.87 L486.0,373.59 L486.5,373.80 L487.0,373.91 L487.5,374.00 L488.0,374.09 L488.5,374.14 L489.0,374.04 L489.5,373.94 L490.0,374.34 L490.5,374.13 L491.0,374.13 L491.5,374.32 L492.0,374.36 L492.5,374.28 L493.0,374.70 L493.5,374.45 L494.0,374.44 L494.5,374.56 L495.0,374.58 L495.5,374.79 L496.0,374.63 L496.5,374.90 L497.0,374.86 L497.5,374.78 L498.0,375.13 L498.5,374.88 L499.0,374.96 L499.5,375.30 L500.0,375.17 L500.5,375.11 L501.0,375.21 L501.5,375.35 L502.0,375.48 L502.5,375.33 L503.0,375.37 L503.5,375.56 L504.0,375.60 L504.5,375.64 L505.0,375.77 L505.5,375.63 L506.0,375.52 L506.5,375.71 L507.0,375.57 L507.5,375.67 L508.0,375.63 L508.5,375.74 L509.0,375.74 L509.5,376.05 L510.0,375.78 L510.5,375.87 L511.0,376.25 L511.5,375.95 L512.0,376.31 L512.5,376.10 L513.0,376.24 L513.5,376.12 L514.0,376.47 L514.5,376.25 L515.0,376.25 L515.5,376.57 L516.0,376.50 L516.5,376.30 L517.0,376.30 L517.5,376.54 L518.0,376.58 L518.5,376.55 L519.0,376.46 L519.5,376.70 L520.0,376.71 L520.5,376.73 L521.0,376.68 L521.5,376.80 L522.0,376.93 L522.5,376.89 L523.0,376.92 L523.5,377.06 L524.0,377.06 L524.5,376.97 L525.0,376.96 L525.5,376.91 L526.0,377.01 L526.5,377.07 L527.0,377.00 L527.5,377.24 L528.0,377.41 L528.5,377.12 L529.0,377.34 L529.5,377.49 L530.0,377.42 L530.5,377.38 L531.0,377.32 L531.5,377.58 L532.0,377.48 L532.5,377.64 L533.0,377.40 L533.5,377.70 L534.0,377.75 L534.5,377.57 L535.0,377.65 L535.5,377.81 L536.0,377.59 L536.5,377.70 L537.0,377.92 L537.5,377.68 L538.0,377.72 L538.5,377.95 L539.0,378.02 L539.5,377.86 L540.0,378.10 L540.5,378.08 L541.0,378.14 L541.5,378.16 L542.0,378.02 L542.5,378.17 L543.0,378.13 L543.5,378.35 L544.0,378.31 L544.5,378.46 L545.0,378.12 L545.5,378.44 L546.0,378.17 L546.5,378.43 L547.0,378.24 L547.5,378.60 L548.0,378.35 L548.5,378.66 L549.0,378.68 L549.5,378.41 L550.0,378.43 L550.5,378.59 L551.0,378.57 L551.5,378.76 L552.0,378.78 L552.5,378.80 L553.0,378.78 L553.5,378.64 L554.0,378.77 L554.5,378.98 L555.0,379.01 L555.5,378.80 L556.0,378.87 L556.5,379.11 L557.0,378.83 L557.5,379.04 L558.0,379.00 L558.5,379.23 L559.0,379.24 L559.5,379.04 L560.0,379.01 L560.5,379.23 L561.0,379.06 L561.5,379.10 L562.0,379.41 L562.5,379.22 L563.0,379.37 L563.5,379.20 L564.0,379.30 L564.5,379.46 L565.0,379.47 L565.5,379.31 L566.0,379.49 L566.5,379.44 L567.0,379.34 L567.5,379.60 L568.0,379.34 L568.5,379.42 L569.0,379.66 L569.5,379.52 L570.0,379.76 L570.5,379.51 L571.0,379.54 L571.5,379.83 L572.0,379.80 L572.5,379.85 L573.0,379.51 L573.5,379.90 L574.0,379.88 L574.5,379.58 L575.0,379.92 L575.5,379.79 L576.0,379.91 L576.5,379.81 L577.0,379.75 L577.5,379.77 L578.0,380.03 L578.5,379.89 L579.0,379.80 L579.5,379.85 L580.0,379.99 L580.5,379.90 L581.0,380.05 L581.5,379.97 L582.0,379.75 L582.5,380.02 L583.0,379.90 L583.5,380.10 L584.0,380.01 L584.5,380.02 L585.0,379.82 L585.5,379.84 L586.0,380.18 L586.5,380.11 L587.0,380.21 L587.5,380.12 L588.0,380.11 L588.5,380.22 L589.0,380.01 L589.5,380.16 L590.0,380.00 L590.5,379.90 L591.0,380.12 L591.5,380.16 L592.0,380.01 L592.5,380.23 L593.0,379.93 L593.5,380.01 L594.0,380.07 L594.5,380.05 L595.0,380.10 L595.5,380.22 L596.0,380.13 L596.5,380.14 L597.0,380.07 L597.5,380.22 L598.0,380.04 L598.5,379.96 L599.0,379.87 L599.5,380.03 L600.0,379.92 L600.5,379.88 L601.0,380.05 L601.5,380.20 L602.0,380.05 L602.5,380.06 L603.0,379.92 L603.5,379.82 L604.0,379.86 L604.5,379.84 L605.0,380.14 L605.5,379.92 L606.0,380.07" stroke="#0000a0"/>
</g>
<rect x="152.5" y="55.9" width="452.6" height="330.20000000000005" stroke="#000" stroke-width="2.4" fill="none"/>
<text x="141.0" y="391.6" font-size="20.5" text-anchor="end" >0</text>
<text x="141.0" y="331.6" font-size="20.5" text-anchor="end" >2,000</text>
<text x="141.0" y="271.5" font-size="20.5" text-anchor="end" >4,000</text>
<text x="141.0" y="211.5" font-size="20.5" text-anchor="end" >6,000</text>
<text x="141.0" y="151.5" font-size="20.5" text-anchor="end" >8,000</text>
<text x="141.0" y="91.4" font-size="20.5" text-anchor="end" >10,000</text>
<text x="182.7" y="414.0" font-size="20.5" text-anchor="middle" >400</text>
<text x="258.1" y="414.0" font-size="20.5" text-anchor="middle" >450</text>
<text x="333.5" y="414.0" font-size="20.5" text-anchor="middle" >500</text>
<text x="409.0" y="414.0" font-size="20.5" text-anchor="middle" >550</text>
<text x="484.4" y="414.0" font-size="20.5" text-anchor="middle" >600</text>
<text x="559.8" y="414.0" font-size="20.5" text-anchor="middle" >650</text>
<path d="M145.5,386.1H152.5M148.5,356.1H152.5M145.5,326.1H152.5M148.5,296.0H152.5M145.5,266.0H152.5M148.5,236.0H152.5M145.5,206.0H152.5M148.5,176.0H152.5M145.5,146.0H152.5M148.5,115.9H152.5M145.5,85.9H152.5M148.5,55.9H152.5M182.7,386.1V393.6M220.4,386.1V390.6M258.1,386.1V393.6M295.8,386.1V390.6M333.5,386.1V393.6M371.3,386.1V390.6M409.0,386.1V393.6M446.7,386.1V390.6M484.4,386.1V393.6M522.1,386.1V390.6M559.8,386.1V393.6M597.6,386.1V390.6" stroke="#000" stroke-width="2.4"/>
<text x="288.7" y="451.1" font-size="20.5" text-anchor="start" >Wavelength</text>
<text x="422.3" y="451.1" font-size="20.5" text-anchor="start" >(nm)</text>
<text x="0" y="0" font-size="21" text-anchor="middle" transform="translate(65.6,235) rotate(-90)">Intensity (a.u.)</text>
<text x="24.5" y="45.8" font-size="36" text-anchor="start" >A</text>
<text x="465.0" y="98.7" font-size="20.5" text-anchor="middle" >0</text>
<path d="M465.5,102V131" stroke="#000" stroke-width="2"/>
<path d="M461.3,129.5L469.7,129.5L465.5,145Z" fill="#000"/>
<text x="476.0" y="169.8" font-size="20.5" text-anchor="middle" >1,000μM</text>
<defs><clipPath id="clipB"><rect x="807.3" y="57.1" width="451.9000000000001" height="330.29999999999995"/></clipPath>
<radialGradient id="gr_g" cx="0.35" cy="0.3" r="0.75"><stop offset="0" stop-color="#fff" stop-opacity="0.85"/><stop offset="0.22" stop-color="#00ff00"/><stop offset="1" stop-color="#00ff00"/></radialGradient>
<radialGradient id="gr_b" cx="0.35" cy="0.3" r="0.75"><stop offset="0" stop-color="#fff" stop-opacity="0.85"/><stop offset="0.22" stop-color="#0000ff"/><stop offset="1" stop-color="#0000ff"/></radialGradient>
<radialGradient id="gr_c" cx="0.35" cy="0.3" r="0.75"><stop offset="0" stop-color="#fff" stop-opacity="0.85"/><stop offset="0.22" stop-color="#00ffff"/><stop offset="1" stop-color="#00ffff"/></radialGradient>
<radialGradient id="gr_m" cx="0.35" cy="0.3" r="0.75"><stop offset="0" stop-color="#fff" stop-opacity="0.85"/><stop offset="0.22" stop-color="#ff00ff"/><stop offset="1" stop-color="#ff00ff"/></radialGradient>
<radialGradient id="gr_y" cx="0.35" cy="0.3" r="0.75"><stop offset="0" stop-color="#fff" stop-opacity="0.85"/><stop offset="0.22" stop-color="#ffff00"/><stop offset="1" stop-color="#ffff00"/></radialGradient>
<radialGradient id="gr_dy" cx="0.35" cy="0.3" r="0.75"><stop offset="0" stop-color="#fff" stop-opacity="0.85"/><stop offset="0.22" stop-color="#808000"/><stop offset="1" stop-color="#808000"/></radialGradient>
<radialGradient id="gr_n" cx="0.35" cy="0.3" r="0.75"><stop offset="0" stop-color="#fff" stop-opacity="0.85"/><stop offset="0.22" stop-color="#000080"/><stop offset="1" stop-color="#000080"/></radialGradient>
<radialGradient id="gr_p" cx="0.35" cy="0.3" r="0.75"><stop offset="0" stop-color="#fff" stop-opacity="0.85"/><stop offset="0.22" stop-color="#800080"/><stop offset="1" stop-color="#800080"/></radialGradient>
<radialGradient id="gr_wi" cx="0.35" cy="0.3" r="0.75"><stop offset="0" stop-color="#fff" stop-opacity="0.85"/><stop offset="0.22" stop-color="#800000"/><stop offset="1" stop-color="#800000"/></radialGradient>
<radialGradient id="gr_o" cx="0.35" cy="0.3" r="0.75"><stop offset="0" stop-color="#fff" stop-opacity="0.85"/><stop offset="0.22" stop-color="#008000"/><stop offset="1" stop-color="#008000"/></radialGradient>
<radialGradient id="gr_dc" cx="0.35" cy="0.3" r="0.75"><stop offset="0" stop-color="#fff" stop-opacity="0.85"/><stop offset="0.22" stop-color="#008080"/><stop offset="1" stop-color="#008080"/></radialGradient>
<radialGradient id="gr_r" cx="0.35" cy="0.3" r="0.75"><stop offset="0" stop-color="#fff" stop-opacity="0.85"/><stop offset="0.22" stop-color="#0000a0"/><stop offset="1" stop-color="#0000a0"/></radialGradient>
<radialGradient id="gr_or" cx="0.35" cy="0.3" r="0.75"><stop offset="0" stop-color="#fff" stop-opacity="0.85"/><stop offset="0.22" stop-color="#ff8000"/><stop offset="1" stop-color="#ff8000"/></radialGradient>
<radialGradient id="gr_v" cx="0.35" cy="0.3" r="0.75"><stop offset="0" stop-color="#fff" stop-opacity="0.85"/><stop offset="0.22" stop-color="#8000ff"/><stop offset="1" stop-color="#8000ff"/></radialGradient>
</defs>
<rect x="807.3" y="57.1" width="451.9000000000001" height="330.29999999999995" stroke="#000" stroke-width="2.4" fill="none"/>
<text x="795.5" y="359.9" font-size="20.5" text-anchor="end" >2,000</text>
<text x="795.5" y="293.8" font-size="20.5" text-anchor="end" >4,000</text>
<text x="795.5" y="227.8" font-size="20.5" text-anchor="end" >6,000</text>
<text x="795.5" y="161.7" font-size="20.5" text-anchor="end" >8,000</text>
<text x="795.5" y="95.6" font-size="20.5" text-anchor="end" >10,000</text>
<text x="826.3" y="415.0" font-size="20.5" text-anchor="middle" >0</text>
<text x="905.0" y="415.0" font-size="20.5" text-anchor="middle" >200</text>
<text x="983.6" y="415.0" font-size="20.5" text-anchor="middle" >400</text>
<text x="1062.3" y="415.0" font-size="20.5" text-anchor="middle" >600</text>
<text x="1140.9" y="415.0" font-size="20.5" text-anchor="middle" >800</text>
<text x="1219.6" y="415.0" font-size="20.5" text-anchor="middle" >1000</text>
<path d="M803.3,387.4H807.3M800.3,354.4H807.3M803.3,321.3H807.3M800.3,288.3H807.3M803.3,255.3H807.3M800.3,222.2H807.3M803.3,189.2H807.3M800.3,156.2H807.3M803.3,123.2H807.3M800.3,90.1H807.3M803.3,57.1H807.3M826.3,387.4V394.4M865.6,387.4V391.4M905.0,387.4V394.4M944.3,387.4V391.4M983.6,387.4V394.4M1022.9,387.4V391.4M1062.3,387.4V394.4M1101.6,387.4V391.4M1140.9,387.4V394.4M1180.3,387.4V391.4M1219.6,387.4V394.4M1258.9,387.4V391.4" stroke="#000" stroke-width="2.4"/>
<text x="903.2" y="455.8" font-size="20.5">Concentration of Fe<tspan font-size="13.5" dy="-11" dx="0.5">3+</tspan><tspan dy="11" dx="0.5"> (μM)</tspan></text>
<text x="0" y="0" font-size="21" text-anchor="middle" transform="translate(720.3,236) rotate(-90)">Intensity (a.u.)</text>
<text x="673.2" y="45.8" font-size="36" text-anchor="start" >B</text>
<circle cx="826.6" cy="91.3" r="4.3" fill="url(#gr_g)"/>
<circle cx="826.6" cy="105.6" r="4.3" fill="url(#gr_b)"/>
<circle cx="826.6" cy="113.9" r="4.3" fill="url(#gr_c)"/>
<path d="M823.0,109.5H830.2M823.0,118.3H830.2M826.6,109.5V118.3" stroke="#00ffff" stroke-width="1.1"/>
<circle cx="830.7" cy="119.9" r="4.3" fill="url(#gr_m)"/>
<path d="M827.1,113.3H834.3M827.1,126.5H834.3M830.7,113.3V126.5" stroke="#ff00ff" stroke-width="1.1"/>
<circle cx="836.5" cy="131.7" r="4.3" fill="url(#gr_y)"/>
<circle cx="846.4" cy="144.6" r="4.3" fill="url(#gr_dy)"/>
<path d="M842.8,139.6H850.0M842.8,149.6H850.0M846.4,139.6V149.6" stroke="#808000" stroke-width="1.1"/>
<circle cx="865.8" cy="168.1" r="4.3" fill="url(#gr_n)"/>
<circle cx="885.4" cy="190.3" r="4.3" fill="url(#gr_p)"/>
<circle cx="905.2" cy="206.6" r="4.3" fill="url(#gr_wi)"/>
<circle cx="924.9" cy="238.4" r="4.3" fill="url(#gr_o)"/>
<circle cx="983.7" cy="316.1" r="4.3" fill="url(#gr_dc)"/>
<path d="M980.1,311.6H987.3M980.1,320.6H987.3M983.7,311.6V320.6" stroke="#008080" stroke-width="1.1"/>
<circle cx="1023.2" cy="330.1" r="4.3" fill="url(#gr_r)"/>
<circle cx="1121.3" cy="343.6" r="4.3" fill="url(#gr_or)"/>
<circle cx="1219.5" cy="355.9" r="4.3" fill="url(#gr_v)"/>
<defs><clipPath id="clipC"><rect x="152.8" y="500.4" width="452.09999999999997" height="330.9"/></clipPath></defs>
<g clip-path="url(#clipC)">
<circle cx="152.7" cy="520.3" r="4.4" fill="#0000ff"/>
<circle cx="153.5" cy="530.8" r="4.4" fill="#00ffff"/>
<path d="M149.9,526.8H157.1M149.9,534.8H157.1M153.5,526.8V534.8" stroke="#00ffff" stroke-width="1.1"/>
<circle cx="163.9" cy="537.4" r="4.4" fill="#ff00ff"/>
<path d="M160.3,529.5H167.5M160.3,545.3H167.5M163.9,529.5V545.3" stroke="#ff00ff" stroke-width="1.1"/>
<circle cx="180.8" cy="552.4" r="4.4" fill="#ffff00"/>
<circle cx="209" cy="568.3" r="4.4" fill="#808000"/>
<path d="M205.4,562.3H212.6M205.4,574.3H212.6M209.0,562.3V574.3" stroke="#808000" stroke-width="1.1"/>
<circle cx="265.6" cy="598" r="4.4" fill="#000080"/>
<circle cx="322.2" cy="626" r="4.4" fill="#800080"/>
<circle cx="379.1" cy="646" r="4.4" fill="#800000"/>
<path d="M375.5,641.6H382.7M375.5,650.4H382.7M379.1,641.6V650.4" stroke="#800000" stroke-width="1.1"/>
<circle cx="435.2" cy="686.1" r="4.4" fill="#008000"/>
<circle cx="604.7" cy="782.5" r="4.4" fill="#008080"/>
<path d="M601.1,778.5H608.3M601.1,786.5H608.3M604.7,778.5V786.5" stroke="#008080" stroke-width="1.1"/>
<path d="M152.7,527.2L604.9,788.6" stroke="#ff0000" stroke-width="2.6"/>
</g>
<rect x="152.8" y="500.4" width="452.09999999999997" height="330.9" stroke="#000" stroke-width="2.4" fill="none"/>
<text x="141.0" y="836.6" font-size="20.5" text-anchor="end" >2,000</text>
<text x="141.0" y="753.9" font-size="20.5" text-anchor="end" >4,000</text>
<text x="141.0" y="671.1" font-size="20.5" text-anchor="end" >6,000</text>
<text x="141.0" y="588.4" font-size="20.5" text-anchor="end" >8,000</text>
<text x="141.0" y="505.7" font-size="20.5" text-anchor="end" >10,000</text>
<text x="152.8" y="858.6" font-size="20.5" text-anchor="middle" >0</text>
<text x="265.8" y="858.6" font-size="20.5" text-anchor="middle" >100</text>
<text x="378.9" y="858.6" font-size="20.5" text-anchor="middle" >200</text>
<text x="491.9" y="858.6" font-size="20.5" text-anchor="middle" >300</text>
<text x="604.9" y="858.6" font-size="20.5" text-anchor="middle" >400</text>
<path d="M145.8,831.3H152.8M148.8,789.9H152.8M145.8,748.6H152.8M148.8,707.2H152.8M145.8,665.8H152.8M148.8,624.5H152.8M145.8,583.1H152.8M148.8,541.8H152.8M145.8,500.4H152.8M152.8,831.3V838.3M209.3,831.3V835.3M265.8,831.3V838.3M322.3,831.3V835.3M378.9,831.3V838.3M435.4,831.3V835.3M491.9,831.3V838.3M548.4,831.3V835.3M604.9,831.3V838.3" stroke="#000" stroke-width="2.4"/>
<text x="249.4" y="899.8" font-size="20.5">Concentration of Fe<tspan font-size="13.5" dy="-11" dx="0.5">3+</tspan><tspan dy="11" dx="0.5"> (μM)</tspan></text>
<text x="0" y="0" font-size="21" text-anchor="middle" transform="translate(65.6,679) rotate(-90)">Intensity (a.u.)</text>
<text x="21.4" y="502.0" font-size="36" text-anchor="start" >C</text>
<text x="393.6" y="532.5" font-size="20.8" text-anchor="start" >Y = -15.118X + 9265.9</text>
<text x="395.2" y="565" font-size="20.5">R<tspan font-size="14" dy="-12">2</tspan><tspan dy="12" dx="-1.8"> = 0.9948</tspan></text>
<rect x="807.1" y="500.9" width="452.1" height="330.4" stroke="#000" stroke-width="2.4" fill="none"/>
<text x="794.8" y="836.8" font-size="20.5" text-anchor="end" >0.0</text>
<text x="794.8" y="779.2" font-size="20.5" text-anchor="end" >0.2</text>
<text x="794.8" y="721.7" font-size="20.5" text-anchor="end" >0.4</text>
<text x="794.8" y="664.1" font-size="20.5" text-anchor="end" >0.6</text>
<text x="794.8" y="606.6" font-size="20.5" text-anchor="end" >0.8</text>
<text x="794.8" y="549.0" font-size="20.5" text-anchor="end" >1.0</text>
<path d="M799.1,831.3H807.1M802.6,802.5H807.1M799.1,773.7H807.1M802.6,745.0H807.1M799.1,716.2H807.1M802.6,687.4H807.1M799.1,658.6H807.1M802.6,629.8H807.1M799.1,601.1H807.1M802.6,572.3H807.1M799.1,543.5H807.1M802.6,514.7H807.1" stroke="#000" stroke-width="2.4"/>
<rect x="825.0" y="544.4" width="23.6" height="286.9" fill="#ff0000" stroke="#1a0000" stroke-width="1"/>
<rect x="855.2" y="531.7" width="23.6" height="299.6" fill="#ff0000" stroke="#1a0000" stroke-width="1"/>
<rect x="885.4" y="583.6" width="23.6" height="247.7" fill="#ff0000" stroke="#1a0000" stroke-width="1"/>
<rect x="915.5" y="625.6" width="23.6" height="205.7" fill="#ff0000" stroke="#1a0000" stroke-width="1"/>
<rect x="945.7" y="775.6" width="23.6" height="55.7" fill="#ff0000" stroke="#1a0000" stroke-width="1"/>
<rect x="975.9" y="582.1" width="23.6" height="249.2" fill="#ff0000" stroke="#1a0000" stroke-width="1"/>
<rect x="1006.1" y="552.1" width="23.6" height="279.2" fill="#ff0000" stroke="#1a0000" stroke-width="1"/>
<rect x="1036.3" y="538.5" width="23.6" height="292.8" fill="#ff0000" stroke="#1a0000" stroke-width="1"/>
<rect x="1066.4" y="549.9" width="23.6" height="281.4" fill="#ff0000" stroke="#1a0000" stroke-width="1"/>
<rect x="1096.6" y="543.6" width="23.6" height="287.7" fill="#ff0000" stroke="#1a0000" stroke-width="1"/>
<rect x="1126.8" y="564.4" width="23.6" height="266.9" fill="#ff0000" stroke="#1a0000" stroke-width="1"/>
<rect x="1157.0" y="596.4" width="23.6" height="234.9" fill="#ff0000" stroke="#1a0000" stroke-width="1"/>
<rect x="1187.2" y="549.0" width="23.6" height="282.3" fill="#ff0000" stroke="#1a0000" stroke-width="1"/>
<rect x="1217.3" y="543.9" width="23.6" height="287.4" fill="#ff0000" stroke="#1a0000" stroke-width="1"/>
<path d="M833.4,542.6H840.2M833.4,545.3H840.2M836.8,542.6V545.3M863.6,529.8H870.4M863.6,532.2H870.4M867.0,529.8V532.2M893.8,582.2H900.6M893.8,583.6H900.6M897.2,582.2V583.6M923.9,624.3H930.7M923.9,626.2H930.7M927.3,624.3V626.2M954.1,773.1H960.9M954.1,777.5H960.9M957.5,773.1V777.5M984.3,580.6H991.1M984.3,582.8H991.1M987.7,580.6V582.8M1014.5,543.9H1021.3M1014.5,559.6H1021.3M1017.9,543.9V559.6M1044.7,536.1H1051.5M1044.7,540.2H1051.5M1048.1,536.1V540.2M1074.8,547.2H1081.6M1074.8,551.3H1081.6M1078.2,547.2V551.3M1105.0,541.7H1111.8M1105.0,544.8H1111.8M1108.4,541.7V544.8M1135.2,560.0H1142.0M1135.2,567.1H1142.0M1138.6,560.0V567.1M1165.4,578.8H1172.2M1165.4,612.5H1172.2M1168.8,578.8V612.5M1195.6,545.1H1202.4M1195.6,551.8H1202.4M1199.0,545.1V551.8M1225.7,541.7H1232.5M1225.7,545.3H1232.5M1229.1,541.7V545.3" stroke="#000" stroke-width="2.6" stroke-linecap="round"/>
<path d="M799.1,831.3H1259.2" stroke="#000" stroke-width="2.4"/>
<text x="0" y="0" font-size="20" text-anchor="end" transform="translate(853.8,845.5) rotate(-45)">Blank</text>
<text x="0" y="0" font-size="20" text-anchor="end" transform="translate(887.0,847.5) rotate(-45)">Al<tspan font-size="13" dy="-10">3+</tspan></text>
<text x="0" y="0" font-size="20" text-anchor="end" transform="translate(917.2,847.5) rotate(-45)">Co<tspan font-size="13" dy="-10">2+</tspan></text>
<text x="0" y="0" font-size="20" text-anchor="end" transform="translate(947.3,847.5) rotate(-45)">Cu<tspan font-size="13" dy="-10">2+</tspan></text>
<text x="0" y="0" font-size="20" text-anchor="end" transform="translate(977.5,847.5) rotate(-45)">Fe<tspan font-size="13" dy="-10">3+</tspan></text>
<text x="0" y="0" font-size="20" text-anchor="end" transform="translate(1007.7,847.5) rotate(-45)">Gd<tspan font-size="13" dy="-10">2+</tspan></text>
<text x="0" y="0" font-size="20" text-anchor="end" transform="translate(1037.9,847.5) rotate(-45)">K<tspan font-size="13" dy="-10">+</tspan></text>
<text x="0" y="0" font-size="20" text-anchor="end" transform="translate(1068.1,847.5) rotate(-45)">Mg<tspan font-size="13" dy="-10">2+</tspan></text>
<text x="0" y="0" font-size="20" text-anchor="end" transform="translate(1098.2,847.5) rotate(-45)">Mn<tspan font-size="13" dy="-10">2+</tspan></text>
<text x="0" y="0" font-size="20" text-anchor="end" transform="translate(1128.4,847.5) rotate(-45)">Na<tspan font-size="13" dy="-10">+</tspan></text>
<text x="0" y="0" font-size="20" text-anchor="end" transform="translate(1158.6,847.5) rotate(-45)">Ni<tspan font-size="13" dy="-10">2+</tspan></text>
<text x="0" y="0" font-size="20" text-anchor="end" transform="translate(1188.8,847.5) rotate(-45)">Ag<tspan font-size="13" dy="-10">+</tspan></text>
<text x="0" y="0" font-size="20" text-anchor="end" transform="translate(1219.0,847.5) rotate(-45)">Ca<tspan font-size="13" dy="-10">2+</tspan></text>
<text x="0" y="0" font-size="20" text-anchor="end" transform="translate(1249.1,847.5) rotate(-45)">Zn<tspan font-size="13" dy="-10">2+</tspan></text>
<text x="0" y="0" font-size="21" text-anchor="middle" transform="translate(752.4,680.5) rotate(-90)">F/F<tspan dy="6.6">0</tspan></text>
<text x="675.2" y="502.9" font-size="36" text-anchor="start" >D</text>
<rect x="1031.6" y="906.3" width="2" height="1.7" fill="#555"/>
</svg></body></html>
